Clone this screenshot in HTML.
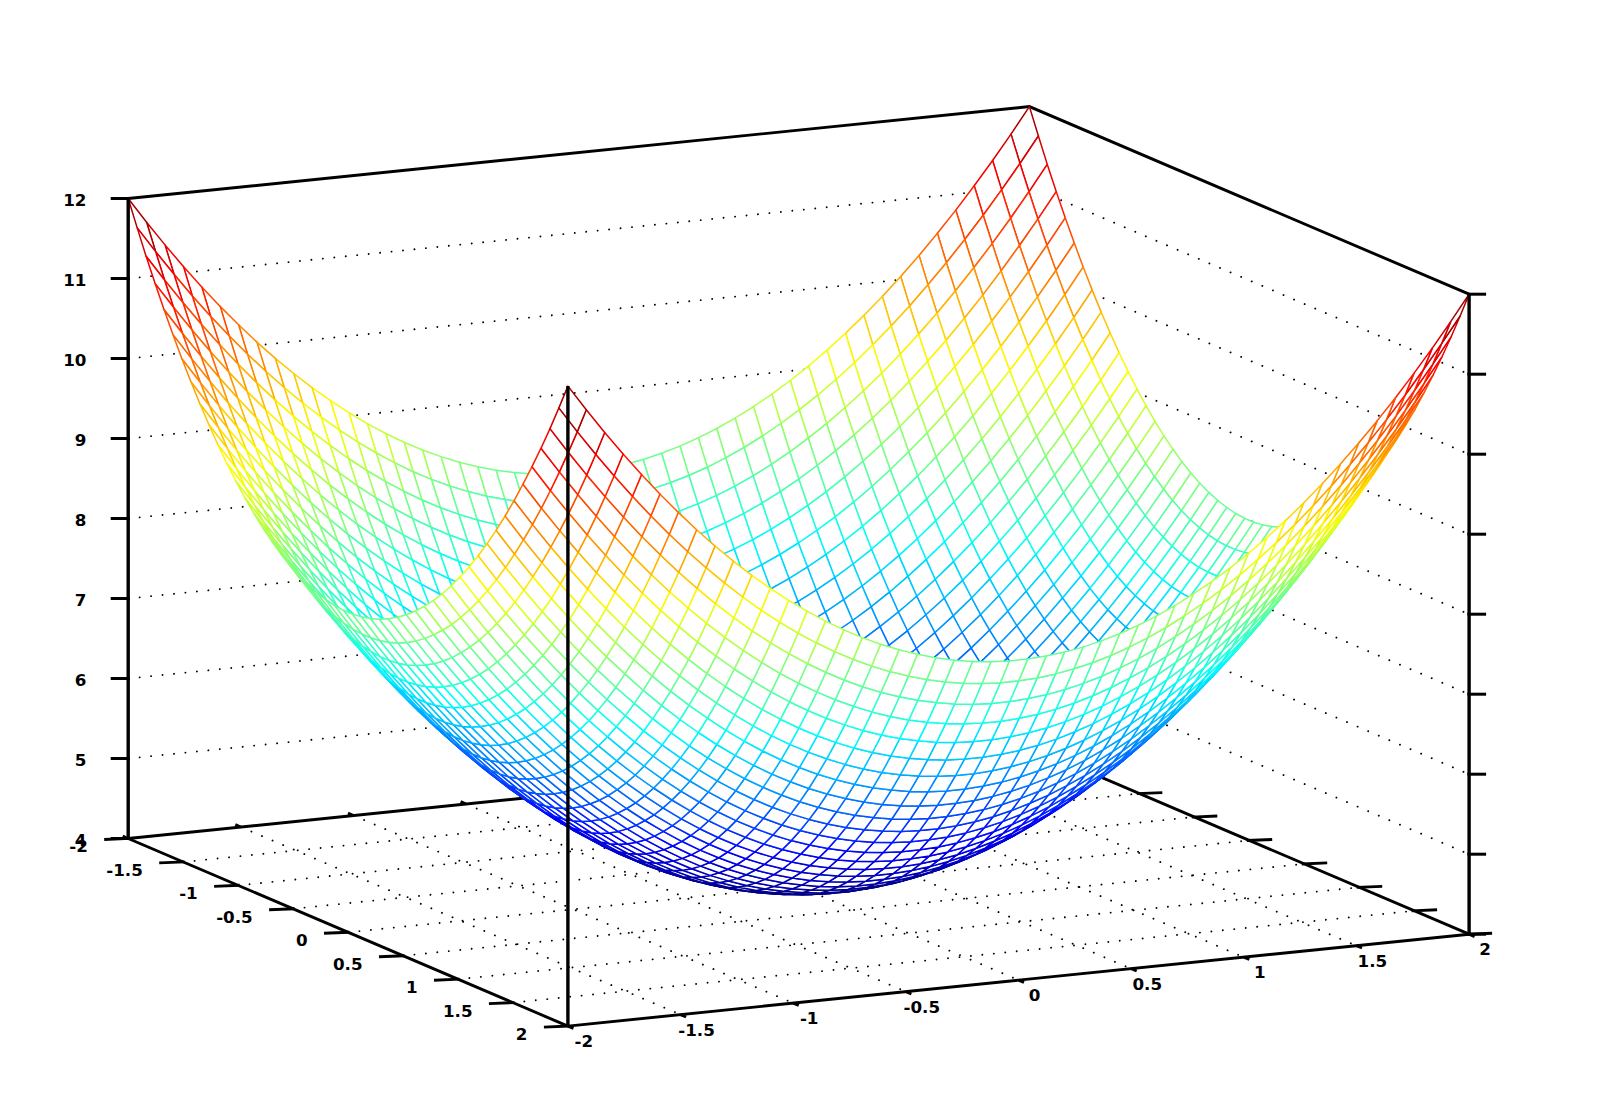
<!DOCTYPE html>
<html><head><meta charset="utf-8"><title>mesh</title>
<style>
html,body{margin:0;padding:0;background:#fff}
svg{display:block}
.m path{fill:#fff;stroke-width:1.5;stroke-linejoin:round}
.c0{stroke:#000087}.c1{stroke:#000097}.c2{stroke:#0000a7}.c3{stroke:#0000b7}
.c4{stroke:#0000c7}.c5{stroke:#0000d7}.c6{stroke:#0000e7}.c7{stroke:#0000f7}
.c8{stroke:#0008ff}.c9{stroke:#0018ff}.c10{stroke:#0028ff}.c11{stroke:#0038ff}
.c12{stroke:#0048ff}.c13{stroke:#0058ff}.c14{stroke:#0068ff}.c15{stroke:#0078ff}
.c16{stroke:#0087ff}.c17{stroke:#0097ff}.c18{stroke:#00a7ff}.c19{stroke:#00b7ff}
.c20{stroke:#00c7ff}.c21{stroke:#00d7ff}.c22{stroke:#00e7ff}.c23{stroke:#00f7ff}
.c24{stroke:#08fff7}.c25{stroke:#18ffe7}.c26{stroke:#28ffd7}.c27{stroke:#38ffc7}
.c28{stroke:#48ffb7}.c29{stroke:#58ffa7}.c30{stroke:#68ff97}.c31{stroke:#78ff87}
.c32{stroke:#87ff78}.c33{stroke:#97ff68}.c34{stroke:#a7ff58}.c35{stroke:#b7ff48}
.c36{stroke:#c7ff38}.c37{stroke:#d7ff28}.c38{stroke:#e7ff18}.c39{stroke:#f7ff08}
.c40{stroke:#fff700}.c41{stroke:#ffe700}.c42{stroke:#ffd700}.c43{stroke:#ffc700}
.c44{stroke:#ffb700}.c45{stroke:#ffa700}.c46{stroke:#ff9700}.c47{stroke:#ff8700}
.c48{stroke:#ff7800}.c49{stroke:#ff6800}.c50{stroke:#ff5800}.c51{stroke:#ff4800}
.c52{stroke:#ff3800}.c53{stroke:#ff2800}.c54{stroke:#ff1800}.c55{stroke:#ff0800}
.c56{stroke:#f70000}.c57{stroke:#e70000}.c58{stroke:#d70000}.c59{stroke:#c70000}
.c60{stroke:#b70000}.c61{stroke:#a70000}.c62{stroke:#970000}.c63{stroke:#870000}
.b{stroke:#000;stroke-width:2.9;fill:none}.bv{stroke:#000;stroke-width:3.4;fill:none}.bt{stroke:#000;stroke-width:3;fill:none}
.d{stroke:#000;stroke-width:1.9;fill:none;stroke-linecap:round;stroke-dasharray:0.01 11.5}
text{font-family:"DejaVu Sans","Liberation Sans",sans-serif;font-weight:bold;font-size:15.2px;fill:#000}
</style></head><body>
<svg width="1600" height="1114" viewBox="0 0 1600 1114">
<rect width="1600" height="1114" fill="#fff"/>
<g id="grid">
<path class="d" d="M128.2 838.5L1029.4 746.6"/>
<path class="d" d="M128.2 838.5L567.9 1026.1"/>
<path class="d" d="M183.2 862L1084.4 770.1"/>
<path class="d" d="M240.8 827L680.5 1014.6"/>
<path class="d" d="M238.1 885.4L1139.3 793.5"/>
<path class="d" d="M353.5 815.5L793.2 1003.1"/>
<path class="d" d="M293.1 908.8L1194.3 817"/>
<path class="d" d="M466.1 804L905.8 991.6"/>
<path class="d" d="M348 932.3L1249.2 840.4"/>
<path class="d" d="M578.8 792.6L1018.5 980.1"/>
<path class="d" d="M403 955.8L1304.2 863.9"/>
<path class="d" d="M691.5 781.1L1131.2 968.7"/>
<path class="d" d="M458 979.2L1359.2 887.3"/>
<path class="d" d="M804.1 769.6L1243.8 957.2"/>
<path class="d" d="M512.9 1002.6L1414.1 910.8"/>
<path class="d" d="M916.8 758.1L1356.4 945.7"/>
<path class="d" d="M567.9 1026.1L1469.1 934.2"/>
<path class="d" d="M1029.4 746.6L1469.1 934.2"/>
<path class="d" d="M128.2 758.5L1029.4 666.6"/>
<path class="d" d="M1029.4 666.6L1469.1 854.2"/>
<path class="d" d="M128.2 678.5L1029.4 586.6"/>
<path class="d" d="M1029.4 586.6L1469.1 774.2"/>
<path class="d" d="M128.2 598.5L1029.4 506.6"/>
<path class="d" d="M1029.4 506.6L1469.1 694.2"/>
<path class="d" d="M128.2 518.5L1029.4 426.6"/>
<path class="d" d="M1029.4 426.6L1469.1 614.2"/>
<path class="d" d="M128.2 438.5L1029.4 346.6"/>
<path class="d" d="M1029.4 346.6L1469.1 534.2"/>
<path class="d" d="M128.2 358.5L1029.4 266.6"/>
<path class="d" d="M1029.4 266.6L1469.1 454.2"/>
<path class="d" d="M128.2 278.5L1029.4 186.6"/>
<path class="d" d="M1029.4 186.6L1469.1 374.2"/>
</g>
<g id="back">
<path class="b" d="M128.2 838.5L1029.4 746.6"/>
<path class="b" d="M1029.4 746.6L1469.1 934.2"/>
<path class="b" stroke-linejoin="miter" d="M128.2 198.5L1029.4 106.6L1469.1 294.2"/>
<path class="b" d="M1026.9 746.7L1052.4 745.7"/>
<path class="b" d="M128.2 838.5L122.7 836.1"/>
<path class="b" d="M1081.9 770.2L1107.4 769.1"/>
<path class="b" d="M240.8 827L235.3 824.7"/>
<path class="b" d="M1136.8 793.6L1162.3 792.6"/>
<path class="b" d="M353.5 815.5L348 813.2"/>
<path class="b" d="M1191.8 817.1L1217.3 816"/>
<path class="b" d="M466.1 804L460.6 801.7"/>
<path class="b" d="M1246.8 840.5L1272.2 839.5"/>
<path class="b" d="M578.8 792.6L573.3 790.2"/>
<path class="b" d="M1301.7 864L1327.2 862.9"/>
<path class="b" d="M691.5 781.1L685.9 778.7"/>
<path class="b" d="M1356.7 887.4L1382.2 886.4"/>
<path class="b" d="M804.1 769.6L798.6 767.2"/>
<path class="b" d="M1411.6 910.9L1437.1 909.8"/>
<path class="b" d="M916.8 758.1L911.2 755.7"/>
<path class="b" d="M1466.6 934.3L1492.1 933.3"/>
<path class="b" d="M1029.4 746.6L1023.9 744.2"/>
</g>
<g class="m">
<path class="c61" d="M1011 134.1l9 29.4 18.4-27.5-9-29.4z"/>
<path class="c58" d="M992.6 160.5l9 29.4 18.4-26.4-9-29.4z"/>
<path class="c56" d="M974.2 185.8l9 29.4 18.4-25.3-9-29.4z"/>
<path class="c54" d="M955.8 210.1l9 29.4 18.4-24.3-9-29.4z"/>
<path class="c51" d="M937.4 233.3l9 29.4 18.4-23.2-9-29.4z"/>
<path class="c49" d="M919 255.4l9 29.4 18.4-22.1-9-29.4z"/>
<path class="c47" d="M900.7 276.5l8.9 29.4 18.4-21.1-9-29.4z"/>
<path class="c45" d="M882.3 296.5l8.9 29.4 18.4-20-8.9-29.4z"/>
<path class="c43" d="M863.9 315.4l8.9 29.4 18.4-18.9-8.9-29.4z"/>
<path class="c42" d="M845.5 333.3l9 29.4 18.3-17.9-8.9-29.4z"/>
<path class="c40" d="M827.1 350.1l9 29.4 18.4-16.8-9-29.4z"/>
<path class="c39" d="M808.7 365.8l9 29.4 18.4-15.7-9-29.4z"/>
<path class="c37" d="M790.3 380.5l9 29.4 18.4-14.7-9-29.4z"/>
<path class="c36" d="M771.9 394.1l9 29.4 18.4-13.6-9-29.4z"/>
<path class="c35" d="M753.5 406.6l9 29.4 18.4-12.5-9-29.4z"/>
<path class="c34" d="M735.1 418.1l9 29.4 18.4-11.5-9-29.4z"/>
<path class="c33" d="M716.7 428.5l9 29.4 18.4-10.4-9-29.4z"/>
<path class="c32" d="M698.3 437.8l9 29.5 18.4-9.4-9-29.4z"/>
<path class="c32" d="M680 446.1l8.9 29.4 18.4-8.2-9-29.5z"/>
<path class="c31" d="M661.6 453.3l8.9 29.4 18.4-7.2-8.9-29.4z"/>
<path class="c30" d="M643.2 459.5l8.9 29.4 18.4-6.2-8.9-29.4z"/>
<path class="c30" d="M624.8 464.5l9 29.4 18.3-5-8.9-29.4z"/>
<path class="c30" d="M606.4 468.5l9 29.5 18.4-4.1-9-29.4z"/>
<path class="c30" d="M588 471.5l9 29.4 18.4-2.9-9-29.5z"/>
<path class="c30" d="M569.6 473.4l9 29.4 18.4-1.9-9-29.4z"/>
<path class="c30" d="M551.2 474.2l9 29.4 18.4-0.8-9-29.4z"/>
<path class="c30" d="M532.8 473.9l9 29.4 18.4 0.3-9-29.4z"/>
<path class="c30" d="M514.4 472.6l9 29.4 18.4 1.3-9-29.4z"/>
<path class="c30" d="M496 470.2l9 29.4 18.4 2.4-9-29.4z"/>
<path class="c31" d="M477.6 466.7l9 29.5 18.4 3.4-9-29.4z"/>
<path class="c32" d="M459.3 462.2l8.9 29.4 18.4 4.6-9-29.5z"/>
<path class="c32" d="M440.9 456.6l8.9 29.4 18.4 5.6-8.9-29.4z"/>
<path class="c33" d="M422.5 450l8.9 29.4 18.4 6.6-8.9-29.4z"/>
<path class="c34" d="M404.1 442.3l9 29.4 18.3 7.7-8.9-29.4z"/>
<path class="c35" d="M385.7 433.5l9 29.4 18.4 8.8-9-29.4z"/>
<path class="c36" d="M367.3 423.6l9 29.4 18.4 9.9-9-29.4z"/>
<path class="c37" d="M348.9 412.7l9 29.4 18.4 10.9-9-29.4z"/>
<path class="c39" d="M330.5 400.7l9 29.4 18.4 12-9-29.4z"/>
<path class="c40" d="M312.1 387.7l9 29.4 18.4 13-9-29.4z"/>
<path class="c42" d="M293.7 373.5l9 29.5 18.4 14.1-9-29.4z"/>
<path class="c43" d="M275.3 358.4l9 29.4 18.4 15.2-9-29.5z"/>
<path class="c45" d="M256.9 342.1l9 29.4 18.4 16.3-9-29.4z"/>
<path class="c47" d="M238.6 324.8l8.9 29.4 18.4 17.3-9-29.4z"/>
<path class="c49" d="M220.2 306.4l8.9 29.4 18.4 18.4-8.9-29.4z"/>
<path class="c51" d="M201.8 287l8.9 29.4 18.4 19.4-8.9-29.4z"/>
<path class="c54" d="M183.4 266.4l8.9 29.5 18.4 20.5-8.9-29.4z"/>
<path class="c56" d="M165 244.9l9 29.4 18.3 21.6-8.9-29.5z"/>
<path class="c58" d="M146.6 222.2l9 29.4 18.4 22.7-9-29.4z"/>
<path class="c61" d="M128.2 198.5l9 29.4 18.4 23.7-9-29.4z"/>
<path class="c58" d="M1020 163.5l9 28.3 18.3-27.4-8.9-28.4z"/>
<path class="c56" d="M1001.6 189.9l9 28.3 18.4-26.4-9-28.3z"/>
<path class="c53" d="M983.2 215.2l9 28.4 18.4-25.4-9-28.3z"/>
<path class="c51" d="M964.8 239.5l9 28.3 18.4-24.2-9-28.4z"/>
<path class="c49" d="M946.4 262.7l9 28.3 18.4-23.2-9-28.3z"/>
<path class="c47" d="M928 284.8l9 28.4 18.4-22.2-9-28.3z"/>
<path class="c45" d="M909.6 305.9l9 28.3 18.4-21-9-28.4z"/>
<path class="c43" d="M891.2 325.9l9 28.3 18.4-20-9-28.3z"/>
<path class="c41" d="M872.8 344.8l9 28.4 18.4-19-9-28.3z"/>
<path class="c39" d="M854.5 362.7l8.9 28.3 18.4-17.8-9-28.4z"/>
<path class="c38" d="M836.1 379.5l8.9 28.3 18.4-16.8-8.9-28.3z"/>
<path class="c36" d="M817.7 395.2l8.9 28.4 18.4-15.8-8.9-28.3z"/>
<path class="c35" d="M799.3 409.9l9 28.3 18.3-14.6-8.9-28.4z"/>
<path class="c34" d="M780.9 423.5l9 28.4 18.4-13.7-9-28.3z"/>
<path class="c32" d="M762.5 436l9 28.4 18.4-12.5-9-28.4z"/>
<path class="c31" d="M744.1 447.5l9 28.4 18.4-11.5-9-28.4z"/>
<path class="c30" d="M725.7 457.9l9 28.4 18.4-10.4-9-28.4z"/>
<path class="c30" d="M707.3 467.3l9 28.3 18.4-9.3-9-28.4z"/>
<path class="c29" d="M688.9 475.5l9 28.4 18.4-8.3-9-28.3z"/>
<path class="c28" d="M670.5 482.7l9 28.4 18.4-7.2-9-28.4z"/>
<path class="c28" d="M652.1 488.9l9 28.3 18.4-6.1-9-28.4z"/>
<path class="c28" d="M633.8 493.9l8.9 28.4 18.4-5.1-9-28.3z"/>
<path class="c27" d="M615.4 498l8.9 28.3 18.4-4-8.9-28.4z"/>
<path class="c27" d="M597 500.9l8.9 28.3 18.4-2.9-8.9-28.3z"/>
<path class="c27" d="M578.6 502.8l9 28.3 18.3-1.9-8.9-28.3z"/>
<path class="c27" d="M560.2 503.6l9 28.3 18.4-0.8-9-28.3z"/>
<path class="c27" d="M541.8 503.3l9 28.4 18.4 0.2-9-28.3z"/>
<path class="c28" d="M523.4 502l9 28.4 18.4 1.3-9-28.4z"/>
<path class="c28" d="M505 499.6l9 28.4 18.4 2.4-9-28.4z"/>
<path class="c28" d="M486.6 496.2l9 28.3 18.4 3.5-9-28.4z"/>
<path class="c29" d="M468.2 491.6l9 28.4 18.4 4.5-9-28.3z"/>
<path class="c30" d="M449.8 486l9 28.4 18.4 5.6-9-28.4z"/>
<path class="c30" d="M431.4 479.4l9 28.3 18.4 6.7-9-28.4z"/>
<path class="c31" d="M413.1 471.7l8.9 28.3 18.4 7.7-9-28.3z"/>
<path class="c32" d="M394.7 462.9l8.9 28.3 18.4 8.8-8.9-28.3z"/>
<path class="c34" d="M376.3 453l8.9 28.4 18.4 9.8-8.9-28.3z"/>
<path class="c35" d="M357.9 442.1l8.9 28.4 18.4 10.9-8.9-28.4z"/>
<path class="c36" d="M339.5 430.1l9 28.4 18.3 12-8.9-28.4z"/>
<path class="c38" d="M321.1 417.1l9 28.3 18.4 13.1-9-28.4z"/>
<path class="c39" d="M302.7 403l9 28.3 18.4 14.1-9-28.3z"/>
<path class="c41" d="M284.3 387.8l9 28.3 18.4 15.2-9-28.3z"/>
<path class="c43" d="M265.9 371.5l9 28.4 18.4 16.2-9-28.3z"/>
<path class="c45" d="M247.5 354.2l9 28.4 18.4 17.3-9-28.4z"/>
<path class="c47" d="M229.1 335.8l9 28.4 18.4 18.4-9-28.4z"/>
<path class="c49" d="M210.7 316.4l9 28.3 18.4 19.5-9-28.4z"/>
<path class="c51" d="M192.3 295.9l9 28.3 18.4 20.5-9-28.3z"/>
<path class="c53" d="M174 274.3l8.9 28.3 18.4 21.6-9-28.3z"/>
<path class="c56" d="M155.6 251.6l8.9 28.4 18.4 22.6-8.9-28.3z"/>
<path class="c58" d="M137.2 227.9l8.9 28.4 18.4 23.7-8.9-28.4z"/>
<path class="c56" d="M1029 191.8l8.9 27.3 18.4-27.4-9-27.3z"/>
<path class="c53" d="M1010.6 218.2l8.9 27.3 18.4-26.4-8.9-27.3z"/>
<path class="c51" d="M992.2 243.6l8.9 27.3 18.4-25.4-8.9-27.3z"/>
<path class="c49" d="M973.8 267.8l9 27.3 18.3-24.2-8.9-27.3z"/>
<path class="c46" d="M955.4 291l9 27.3 18.4-23.2-9-27.3z"/>
<path class="c44" d="M937 313.2l9 27.3 18.4-22.2-9-27.3z"/>
<path class="c42" d="M918.6 334.2l9 27.3 18.4-21-9-27.3z"/>
<path class="c40" d="M900.2 354.2l9 27.3 18.4-20-9-27.3z"/>
<path class="c38" d="M881.8 373.2l9 27.3 18.4-19-9-27.3z"/>
<path class="c37" d="M863.4 391l9 27.3 18.4-17.8-9-27.3z"/>
<path class="c35" d="M845 407.8l9 27.3 18.4-16.8-9-27.3z"/>
<path class="c34" d="M826.6 423.6l9 27.3 18.4-15.8-9-27.3z"/>
<path class="c32" d="M808.3 438.2l8.9 27.3 18.4-14.6-9-27.3z"/>
<path class="c31" d="M789.9 451.9l8.9 27.2 18.4-13.6-8.9-27.3z"/>
<path class="c30" d="M771.5 464.4l8.9 27.3 18.4-12.6-8.9-27.2z"/>
<path class="c29" d="M753.1 475.9l9 27.2 18.3-11.4-8.9-27.3z"/>
<path class="c28" d="M734.7 486.3l9 27.3 18.4-10.5-9-27.2z"/>
<path class="c27" d="M716.3 495.6l9 27.3 18.4-9.3-9-27.3z"/>
<path class="c27" d="M697.9 503.9l9 27.3 18.4-8.3-9-27.3z"/>
<path class="c26" d="M679.5 511.1l9 27.3 18.4-7.2-9-27.3z"/>
<path class="c25" d="M661.1 517.2l9 27.3 18.4-6.1-9-27.3z"/>
<path class="c25" d="M642.7 522.3l9 27.3 18.4-5.1-9-27.3z"/>
<path class="c25" d="M624.3 526.3l9 27.3 18.4-4-9-27.3z"/>
<path class="c25" d="M605.9 529.2l9 27.3 18.4-2.9-9-27.3z"/>
<path class="c25" d="M587.6 531.1l8.9 27.3 18.4-1.9-9-27.3z"/>
<path class="c25" d="M569.2 531.9l8.9 27.3 18.4-0.8-8.9-27.3z"/>
<path class="c25" d="M550.8 531.7l8.9 27.3 18.4 0.2-8.9-27.3z"/>
<path class="c25" d="M532.4 530.4l8.9 27.2 18.4 1.4-8.9-27.3z"/>
<path class="c25" d="M514 528l9 27.2 18.3 2.4-8.9-27.2z"/>
<path class="c26" d="M495.6 524.5l9 27.3 18.4 3.4-9-27.2z"/>
<path class="c27" d="M477.2 520l9 27.3 18.4 4.5-9-27.3z"/>
<path class="c27" d="M458.8 514.4l9 27.3 18.4 5.6-9-27.3z"/>
<path class="c28" d="M440.4 507.7l9 27.3 18.4 6.7-9-27.3z"/>
<path class="c29" d="M422 500l9 27.3 18.4 7.7-9-27.3z"/>
<path class="c30" d="M403.6 491.2l9 27.3 18.4 8.8-9-27.3z"/>
<path class="c31" d="M385.2 481.4l9 27.3 18.4 9.8-9-27.3z"/>
<path class="c32" d="M366.8 470.5l9 27.3 18.4 10.9-9-27.3z"/>
<path class="c34" d="M348.5 458.5l8.9 27.3 18.4 12-9-27.3z"/>
<path class="c35" d="M330.1 445.4l8.9 27.3 18.4 13.1-8.9-27.3z"/>
<path class="c37" d="M311.7 431.3l8.9 27.3 18.4 14.1-8.9-27.3z"/>
<path class="c38" d="M293.3 416.1l9 27.3 18.3 15.2-8.9-27.3z"/>
<path class="c40" d="M274.9 399.9l9 27.3 18.4 16.2-9-27.3z"/>
<path class="c42" d="M256.5 382.6l9 27.2 18.4 17.4-9-27.3z"/>
<path class="c44" d="M238.1 364.2l9 27.3 18.4 18.3-9-27.2z"/>
<path class="c46" d="M219.7 344.7l9 27.3 18.4 19.5-9-27.3z"/>
<path class="c49" d="M201.3 324.2l9 27.3 18.4 20.5-9-27.3z"/>
<path class="c51" d="M182.9 302.6l9 27.3 18.4 21.6-9-27.3z"/>
<path class="c53" d="M164.5 280l9 27.3 18.4 22.6-9-27.3z"/>
<path class="c56" d="M146.1 256.3l9 27.3 18.4 23.7-9-27.3z"/>
<path class="c54" d="M1037.9 219.1l9 26.2 18.4-27.4-9-26.2z"/>
<path class="c51" d="M1019.5 245.5l9 26.2 18.4-26.4-9-26.2z"/>
<path class="c49" d="M1001.1 270.9l9 26.2 18.4-25.4-9-26.2z"/>
<path class="c46" d="M982.8 295.1l8.9 26.2 18.4-24.2-9-26.2z"/>
<path class="c44" d="M964.4 318.3l8.9 26.2 18.4-23.2-8.9-26.2z"/>
<path class="c42" d="M946 340.5l8.9 26.2 18.4-22.2-8.9-26.2z"/>
<path class="c40" d="M927.6 361.5l9 26.2 18.3-21-8.9-26.2z"/>
<path class="c38" d="M909.2 381.5l9 26.2 18.4-20-9-26.2z"/>
<path class="c36" d="M890.8 400.5l9 26.2 18.4-19-9-26.2z"/>
<path class="c34" d="M872.4 418.3l9 26.2 18.4-17.8-9-26.2z"/>
<path class="c33" d="M854 435.1l9 26.2 18.4-16.8-9-26.2z"/>
<path class="c31" d="M835.6 450.9l9 26.2 18.4-15.8-9-26.2z"/>
<path class="c30" d="M817.2 465.5l9 26.3 18.4-14.7-9-26.2z"/>
<path class="c29" d="M798.8 479.1l9 26.3 18.4-13.6-9-26.3z"/>
<path class="c28" d="M780.4 491.7l9 26.2 18.4-12.5-9-26.3z"/>
<path class="c27" d="M762.1 503.1l8.9 26.3 18.4-11.5-9-26.2z"/>
<path class="c26" d="M743.7 513.6l8.9 26.2 18.4-10.4-8.9-26.3z"/>
<path class="c25" d="M725.3 522.9l8.9 26.2 18.4-9.3-8.9-26.2z"/>
<path class="c24" d="M706.9 531.2l8.9 26.2 18.4-8.3-8.9-26.2z"/>
<path class="c24" d="M688.5 538.4l9 26.2 18.3-7.2-8.9-26.2z"/>
<path class="c23" d="M670.1 544.5l9 26.2 18.4-6.1-9-26.2z"/>
<path class="c23" d="M651.7 549.6l9 26.2 18.4-5.1-9-26.2z"/>
<path class="c22" d="M633.3 553.6l9 26.2 18.4-4-9-26.2z"/>
<path class="c22" d="M614.9 556.5l9 26.3 18.4-3-9-26.2z"/>
<path class="c22" d="M596.5 558.4l9 26.2 18.4-1.8-9-26.3z"/>
<path class="c22" d="M578.1 559.2l9 26.2 18.4-0.8-9-26.2z"/>
<path class="c22" d="M559.7 559l9 26.2 18.4 0.2-9-26.2z"/>
<path class="c23" d="M541.3 557.6l9 26.3 18.4 1.3-9-26.2z"/>
<path class="c23" d="M523 555.2l8.9 26.3 18.4 2.4-9-26.3z"/>
<path class="c24" d="M504.6 551.8l8.9 26.2 18.4 3.5-8.9-26.3z"/>
<path class="c24" d="M486.2 547.3l8.9 26.2 18.4 4.5-8.9-26.2z"/>
<path class="c25" d="M467.8 541.7l9 26.2 18.3 5.6-8.9-26.2z"/>
<path class="c26" d="M449.4 535l9 26.2 18.4 6.7-9-26.2z"/>
<path class="c27" d="M431 527.3l9 26.2 18.4 7.7-9-26.2z"/>
<path class="c28" d="M412.6 518.5l9 26.2 18.4 8.8-9-26.2z"/>
<path class="c29" d="M394.2 508.7l9 26.2 18.4 9.8-9-26.2z"/>
<path class="c30" d="M375.8 497.8l9 26.2 18.4 10.9-9-26.2z"/>
<path class="c31" d="M357.4 485.8l9 26.2 18.4 12-9-26.2z"/>
<path class="c33" d="M339 472.7l9 26.2 18.4 13.1-9-26.2z"/>
<path class="c34" d="M320.6 458.6l9 26.2 18.4 14.1-9-26.2z"/>
<path class="c36" d="M302.3 443.4l8.9 26.2 18.4 15.2-9-26.2z"/>
<path class="c38" d="M283.9 427.2l8.9 26.2 18.4 16.2-8.9-26.2z"/>
<path class="c40" d="M265.5 409.8l8.9 26.3 18.4 17.3-8.9-26.2z"/>
<path class="c42" d="M247.1 391.5l9 26.2 18.3 18.4-8.9-26.3z"/>
<path class="c44" d="M228.7 372l9 26.2 18.4 19.5-9-26.2z"/>
<path class="c46" d="M210.3 351.5l9 26.2 18.4 20.5-9-26.2z"/>
<path class="c49" d="M191.9 329.9l9 26.2 18.4 21.6-9-26.2z"/>
<path class="c51" d="M173.5 307.3l9 26.2 18.4 22.6-9-26.2z"/>
<path class="c54" d="M155.1 283.6l9 26.2 18.4 23.7-9-26.2z"/>
<path class="c51" d="M1046.9 245.3l9 25.2 18.4-27.5-9-25.1z"/>
<path class="c49" d="M1028.5 271.7l9 25.2 18.4-26.4-9-25.2z"/>
<path class="c46" d="M1010.1 297.1l9 25.1 18.4-25.3-9-25.2z"/>
<path class="c44" d="M991.7 321.3l9 25.2 18.4-24.3-9-25.1z"/>
<path class="c42" d="M973.3 344.5l9 25.2 18.4-23.2-9-25.2z"/>
<path class="c40" d="M954.9 366.7l9 25.1 18.4-22.1-9-25.2z"/>
<path class="c38" d="M936.6 387.7l8.9 25.2 18.4-21.1-9-25.1z"/>
<path class="c36" d="M918.2 407.7l8.9 25.2 18.4-20-8.9-25.2z"/>
<path class="c34" d="M899.8 426.7l8.9 25.1 18.4-18.9-8.9-25.2z"/>
<path class="c32" d="M881.4 444.5l8.9 25.2 18.4-17.9-8.9-25.1z"/>
<path class="c31" d="M863 461.3l9 25.2 18.3-16.8-8.9-25.2z"/>
<path class="c29" d="M844.6 477.1l9 25.1 18.4-15.7-9-25.2z"/>
<path class="c28" d="M826.2 491.8l9 25.1 18.4-14.7-9-25.1z"/>
<path class="c27" d="M807.8 505.4l9 25.1 18.4-13.6-9-25.1z"/>
<path class="c25" d="M789.4 517.9l9 25.1 18.4-12.5-9-25.1z"/>
<path class="c24" d="M771 529.4l9 25.1 18.4-11.5-9-25.1z"/>
<path class="c23" d="M752.6 539.8l9 25.1 18.4-10.4-9-25.1z"/>
<path class="c23" d="M734.2 549.1l9 25.2 18.4-9.4-9-25.1z"/>
<path class="c22" d="M715.8 557.4l9 25.1 18.4-8.2-9-25.2z"/>
<path class="c21" d="M697.5 564.6l8.9 25.1 18.4-7.2-9-25.1z"/>
<path class="c21" d="M679.1 570.7l8.9 25.2 18.4-6.2-8.9-25.1z"/>
<path class="c20" d="M660.7 575.8l8.9 25.2 18.4-5.1-8.9-25.2z"/>
<path class="c20" d="M642.3 579.8l9 25.2 18.3-4-8.9-25.2z"/>
<path class="c20" d="M623.9 582.8l9 25.1 18.4-2.9-9-25.2z"/>
<path class="c20" d="M605.5 584.6l9 25.2 18.4-1.9-9-25.1z"/>
<path class="c20" d="M587.1 585.4l9 25.2 18.4-0.8-9-25.2z"/>
<path class="c20" d="M568.7 585.2l9 25.1 18.4 0.3-9-25.2z"/>
<path class="c20" d="M550.3 583.9l9 25.1 18.4 1.3-9-25.1z"/>
<path class="c21" d="M531.9 581.5l9 25.1 18.4 2.4-9-25.1z"/>
<path class="c21" d="M513.5 578l9 25.2 18.4 3.4-9-25.1z"/>
<path class="c22" d="M495.1 573.5l9 25.1 18.4 4.6-9-25.2z"/>
<path class="c23" d="M476.8 567.9l8.9 25.2 18.4 5.5-9-25.1z"/>
<path class="c23" d="M458.4 561.2l8.9 25.2 18.4 6.7-8.9-25.2z"/>
<path class="c24" d="M440 553.5l8.9 25.2 18.4 7.7-8.9-25.2z"/>
<path class="c25" d="M421.6 544.7l9 25.2 18.3 8.8-8.9-25.2z"/>
<path class="c27" d="M403.2 534.9l9 25.1 18.4 9.9-9-25.2z"/>
<path class="c28" d="M384.8 524l9 25.1 18.4 10.9-9-25.1z"/>
<path class="c29" d="M366.4 512l9 25.1 18.4 12-9-25.1z"/>
<path class="c31" d="M348 498.9l9 25.2 18.4 13-9-25.1z"/>
<path class="c32" d="M329.6 484.8l9 25.2 18.4 14.1-9-25.2z"/>
<path class="c34" d="M311.2 469.6l9 25.2 18.4 15.2-9-25.2z"/>
<path class="c36" d="M292.8 453.4l9 25.1 18.4 16.3-9-25.2z"/>
<path class="c38" d="M274.4 436.1l9 25.1 18.4 17.3-9-25.1z"/>
<path class="c40" d="M256.1 417.7l8.9 25.1 18.4 18.4-9-25.1z"/>
<path class="c42" d="M237.7 398.2l8.9 25.2 18.4 19.4-8.9-25.1z"/>
<path class="c44" d="M219.3 377.7l8.9 25.2 18.4 20.5-8.9-25.2z"/>
<path class="c46" d="M200.9 356.1l9 25.2 18.3 21.6-8.9-25.2z"/>
<path class="c49" d="M182.5 333.5l9 25.1 18.4 22.7-9-25.2z"/>
<path class="c51" d="M164.1 309.8l9 25.1 18.4 23.7-9-25.1z"/>
<path class="c49" d="M1055.9 270.5l8.9 24.1 18.4-27.5-8.9-24.1z"/>
<path class="c47" d="M1037.5 296.9l9 24.1 18.3-26.4-8.9-24.1z"/>
<path class="c44" d="M1019.1 322.2l9 24.1 18.4-25.3-9-24.1z"/>
<path class="c42" d="M1000.7 346.5l9 24.1 18.4-24.3-9-24.1z"/>
<path class="c40" d="M982.3 369.7l9 24.1 18.4-23.2-9-24.1z"/>
<path class="c38" d="M963.9 391.8l9 24.1 18.4-22.1-9-24.1z"/>
<path class="c35" d="M945.5 412.9l9 24.1 18.4-21.1-9-24.1z"/>
<path class="c34" d="M927.1 432.9l9 24.1 18.4-20-9-24.1z"/>
<path class="c32" d="M908.7 451.8l9 24.1 18.4-18.9-9-24.1z"/>
<path class="c30" d="M890.3 469.7l9 24.1 18.4-17.9-9-24.1z"/>
<path class="c29" d="M872 486.5l8.9 24.1 18.4-16.8-9-24.1z"/>
<path class="c27" d="M853.6 502.2l8.9 24.1 18.4-15.7-8.9-24.1z"/>
<path class="c26" d="M835.2 516.9l8.9 24.1 18.4-14.7-8.9-24.1z"/>
<path class="c24" d="M816.8 530.5l9 24.1 18.3-13.6-8.9-24.1z"/>
<path class="c23" d="M798.4 543l9 24.1 18.4-12.5-9-24.1z"/>
<path class="c22" d="M780 554.5l9 24.1 18.4-11.5-9-24.1z"/>
<path class="c21" d="M761.6 564.9l9 24.1 18.4-10.4-9-24.1z"/>
<path class="c21" d="M743.2 574.3l9 24 18.4-9.3-9-24.1z"/>
<path class="c20" d="M724.8 582.5l9 24.1 18.4-8.3-9-24z"/>
<path class="c19" d="M706.4 589.7l9 24.1 18.4-7.2-9-24.1z"/>
<path class="c19" d="M688 595.9l9 24.1 18.4-6.2-9-24.1z"/>
<path class="c18" d="M669.6 601l9 24 18.4-5-9-24.1z"/>
<path class="c18" d="M651.3 605l8.9 24.1 18.4-4.1-9-24z"/>
<path class="c18" d="M632.9 607.9l8.9 24.1 18.4-2.9-8.9-24.1z"/>
<path class="c18" d="M614.5 609.8l8.9 24.1 18.4-1.9-8.9-24.1z"/>
<path class="c18" d="M596.1 610.6l9 24.1 18.3-0.8-8.9-24.1z"/>
<path class="c18" d="M577.7 610.3l9 24.1 18.4 0.3-9-24.1z"/>
<path class="c18" d="M559.3 609l9 24.1 18.4 1.3-9-24.1z"/>
<path class="c19" d="M540.9 606.6l9 24.1 18.4 2.4-9-24.1z"/>
<path class="c19" d="M522.5 603.2l9 24.1 18.4 3.4-9-24.1z"/>
<path class="c20" d="M504.1 598.6l9 24.1 18.4 4.6-9-24.1z"/>
<path class="c21" d="M485.7 593.1l9 24 18.4 5.6-9-24.1z"/>
<path class="c21" d="M467.3 586.4l9 24.1 18.4 6.6-9-24z"/>
<path class="c22" d="M448.9 578.7l9 24.1 18.4 7.7-9-24.1z"/>
<path class="c23" d="M430.6 569.9l8.9 24.1 18.4 8.8-9-24.1z"/>
<path class="c24" d="M412.2 560l8.9 24.1 18.4 9.9-8.9-24.1z"/>
<path class="c26" d="M393.8 549.1l8.9 24.1 18.4 10.9-8.9-24.1z"/>
<path class="c27" d="M375.4 537.1l9 24.1 18.3 12-8.9-24.1z"/>
<path class="c29" d="M357 524.1l9 24.1 18.4 13-9-24.1z"/>
<path class="c30" d="M338.6 510l9 24.1 18.4 14.1-9-24.1z"/>
<path class="c32" d="M320.2 494.8l9 24.1 18.4 15.2-9-24.1z"/>
<path class="c34" d="M301.8 478.5l9 24.1 18.4 16.3-9-24.1z"/>
<path class="c35" d="M283.4 461.2l9 24.1 18.4 17.3-9-24.1z"/>
<path class="c38" d="M265 442.8l9 24.1 18.4 18.4-9-24.1z"/>
<path class="c40" d="M246.6 423.4l9 24.1 18.4 19.4-9-24.1z"/>
<path class="c42" d="M228.2 402.9l9 24.1 18.4 20.5-9-24.1z"/>
<path class="c44" d="M209.9 381.3l8.9 24.1 18.4 21.6-9-24.1z"/>
<path class="c47" d="M191.5 358.6l8.9 24.1 18.4 22.7-8.9-24.1z"/>
<path class="c49" d="M173.1 334.9l8.9 24.1 18.4 23.7-8.9-24.1z"/>
<path class="c47" d="M1064.8 294.6l9 23 18.4-27.5-9-23z"/>
<path class="c45" d="M1046.5 321l8.9 23 18.4-26.4-9-23z"/>
<path class="c42" d="M1028.1 346.3l8.9 23 18.4-25.3-8.9-23z"/>
<path class="c40" d="M1009.7 370.6l8.9 23 18.4-24.3-8.9-23z"/>
<path class="c38" d="M991.3 393.8l9 23 18.3-23.2-8.9-23z"/>
<path class="c35" d="M972.9 415.9l9 23 18.4-22.1-9-23z"/>
<path class="c33" d="M954.5 437l9 23 18.4-21.1-9-23z"/>
<path class="c32" d="M936.1 457l9 23 18.4-20-9-23z"/>
<path class="c30" d="M917.7 475.9l9 23 18.4-18.9-9-23z"/>
<path class="c28" d="M899.3 493.8l9 23 18.4-17.9-9-23z"/>
<path class="c27" d="M880.9 510.6l9 23 18.4-16.8-9-23z"/>
<path class="c25" d="M862.5 526.3l9 23 18.4-15.7-9-23z"/>
<path class="c24" d="M844.1 541l9 23 18.4-14.7-9-23z"/>
<path class="c22" d="M825.8 554.6l8.9 23 18.4-13.6-9-23z"/>
<path class="c21" d="M807.4 567.1l8.9 23.1 18.4-12.6-8.9-23z"/>
<path class="c20" d="M789 578.6l8.9 23 18.4-11.4-8.9-23.1z"/>
<path class="c19" d="M770.6 589l9 23 18.3-10.4-8.9-23z"/>
<path class="c19" d="M752.2 598.3l9 23.1 18.4-9.4-9-23z"/>
<path class="c18" d="M733.8 606.6l9 23 18.4-8.2-9-23.1z"/>
<path class="c17" d="M715.4 613.8l9 23 18.4-7.2-9-23z"/>
<path class="c17" d="M697 620l9 23 18.4-6.2-9-23z"/>
<path class="c16" d="M678.6 625l9 23.1 18.4-5.1-9-23z"/>
<path class="c16" d="M660.2 629.1l9 23 18.4-4-9-23.1z"/>
<path class="c16" d="M641.8 632l9 23 18.4-2.9-9-23z"/>
<path class="c16" d="M623.4 633.9l9 23 18.4-1.9-9-23z"/>
<path class="c16" d="M605.1 634.7l8.9 23 18.4-0.8-9-23z"/>
<path class="c16" d="M586.7 634.4l8.9 23 18.4 0.3-8.9-23z"/>
<path class="c16" d="M568.3 633.1l8.9 23 18.4 1.3-8.9-23z"/>
<path class="c17" d="M549.9 630.7l9 23 18.3 2.4-8.9-23z"/>
<path class="c17" d="M531.5 627.3l9 23 18.4 3.4-9-23z"/>
<path class="c18" d="M513.1 622.7l9 23.1 18.4 4.5-9-23z"/>
<path class="c19" d="M494.7 617.1l9 23.1 18.4 5.6-9-23.1z"/>
<path class="c19" d="M476.3 610.5l9 23 18.4 6.7-9-23.1z"/>
<path class="c20" d="M457.9 602.8l9 23 18.4 7.7-9-23z"/>
<path class="c21" d="M439.5 594l9 23 18.4 8.8-9-23z"/>
<path class="c22" d="M421.1 584.1l9 23 18.4 9.9-9-23z"/>
<path class="c24" d="M402.7 573.2l9 23 18.4 10.9-9-23z"/>
<path class="c25" d="M384.4 561.2l8.9 23 18.4 12-9-23z"/>
<path class="c27" d="M366 548.2l8.9 23 18.4 13-8.9-23z"/>
<path class="c28" d="M347.6 534.1l8.9 23 18.4 14.1-8.9-23z"/>
<path class="c30" d="M329.2 518.9l8.9 23 18.4 15.2-8.9-23z"/>
<path class="c32" d="M310.8 502.6l9 23 18.3 16.3-8.9-23z"/>
<path class="c33" d="M292.4 485.3l9 23 18.4 17.3-9-23z"/>
<path class="c35" d="M274 466.9l9 23 18.4 18.4-9-23z"/>
<path class="c38" d="M255.6 447.5l9 23 18.4 19.4-9-23z"/>
<path class="c40" d="M237.2 427l9 23 18.4 20.5-9-23z"/>
<path class="c42" d="M218.8 405.4l9 23 18.4 21.6-9-23z"/>
<path class="c45" d="M200.4 382.7l9 23 18.4 22.7-9-23z"/>
<path class="c47" d="M182 359l9 23 18.4 23.7-9-23z"/>
<path class="c45" d="M1073.8 317.6l9 22 18.4-27.5-9-22z"/>
<path class="c43" d="M1055.4 344l9 22 18.4-26.4-9-22z"/>
<path class="c40" d="M1037 369.3l9 22 18.4-25.3-9-22z"/>
<path class="c38" d="M1018.6 393.6l9 22 18.4-24.3-9-22z"/>
<path class="c36" d="M1000.3 416.8l8.9 22 18.4-23.2-9-22z"/>
<path class="c34" d="M981.9 438.9l8.9 22 18.4-22.1-8.9-22z"/>
<path class="c32" d="M963.5 460l8.9 22 18.4-21.1-8.9-22z"/>
<path class="c30" d="M945.1 480l9 22 18.3-20-8.9-22z"/>
<path class="c28" d="M926.7 498.9l9 22 18.4-18.9-9-22z"/>
<path class="c26" d="M908.3 516.8l9 22 18.4-17.9-9-22z"/>
<path class="c25" d="M889.9 533.6l9 22 18.4-16.8-9-22z"/>
<path class="c23" d="M871.5 549.3l9 22 18.4-15.7-9-22z"/>
<path class="c22" d="M853.1 564l9 22 18.4-14.7-9-22z"/>
<path class="c21" d="M834.7 577.6l9 22 18.4-13.6-9-22z"/>
<path class="c19" d="M816.3 590.2l9 21.9 18.4-12.5-9-22z"/>
<path class="c18" d="M797.9 601.6l9 22 18.4-11.5-9-21.9z"/>
<path class="c17" d="M779.6 612l8.9 22 18.4-10.4-9-22z"/>
<path class="c17" d="M761.2 621.4l8.9 21.9 18.4-9.3-8.9-22z"/>
<path class="c16" d="M742.8 629.6l8.9 22 18.4-8.3-8.9-21.9z"/>
<path class="c15" d="M724.4 636.8l9 22 18.3-7.2-8.9-22z"/>
<path class="c15" d="M706 643l9 21.9 18.4-6.1-9-22z"/>
<path class="c14" d="M687.6 648.1l9 21.9 18.4-5.1-9-21.9z"/>
<path class="c14" d="M669.2 652.1l9 21.9 18.4-4-9-21.9z"/>
<path class="c14" d="M650.8 655l9 22 18.4-3-9-21.9z"/>
<path class="c14" d="M632.4 656.9l9 21.9 18.4-1.8-9-22z"/>
<path class="c14" d="M614 657.7l9 22 18.4-0.9-9-21.9z"/>
<path class="c14" d="M595.6 657.4l9 22 18.4 0.3-9-22z"/>
<path class="c14" d="M577.2 656.1l9 22 18.4 1.3-9-22z"/>
<path class="c15" d="M558.9 653.7l8.9 22 18.4 2.4-9-22z"/>
<path class="c15" d="M540.5 650.3l8.9 21.9 18.4 3.5-8.9-22z"/>
<path class="c16" d="M522.1 645.8l8.9 21.9 18.4 4.5-8.9-21.9z"/>
<path class="c17" d="M503.7 640.2l8.9 21.9 18.4 5.6-8.9-21.9z"/>
<path class="c17" d="M485.3 633.5l9 22 18.3 6.6-8.9-21.9z"/>
<path class="c18" d="M466.9 625.8l9 21.9 18.4 7.8-9-22z"/>
<path class="c19" d="M448.5 617l9 22 18.4 8.7-9-21.9z"/>
<path class="c21" d="M430.1 607.1l9 22 18.4 9.9-9-22z"/>
<path class="c22" d="M411.7 596.2l9 22 18.4 10.9-9-22z"/>
<path class="c23" d="M393.3 584.2l9 22 18.4 12-9-22z"/>
<path class="c25" d="M374.9 571.2l9 21.9 18.4 13.1-9-22z"/>
<path class="c26" d="M356.5 557.1l9 21.9 18.4 14.1-9-21.9z"/>
<path class="c28" d="M338.1 541.9l9 21.9 18.4 15.2-9-21.9z"/>
<path class="c30" d="M319.8 525.6l8.9 22 18.4 16.2-9-21.9z"/>
<path class="c32" d="M301.4 508.3l8.9 22 18.4 17.3-8.9-22z"/>
<path class="c34" d="M283 489.9l8.9 22 18.4 18.4-8.9-22z"/>
<path class="c36" d="M264.6 470.5l9 21.9 18.3 19.5-8.9-22z"/>
<path class="c38" d="M246.2 450l9 21.9 18.4 20.5-9-21.9z"/>
<path class="c40" d="M227.8 428.4l9 22 18.4 21.5-9-21.9z"/>
<path class="c43" d="M209.4 405.7l9 22 18.4 22.7-9-22z"/>
<path class="c45" d="M191 382l9 22 18.4 23.7-9-22z"/>
<path class="c43" d="M1082.8 339.6l9 20.8 18.4-27.4-9-20.9z"/>
<path class="c41" d="M1064.4 366l9 20.8 18.4-26.4-9-20.8z"/>
<path class="c38" d="M1046 391.3l9 20.9 18.4-25.4-9-20.8z"/>
<path class="c36" d="M1027.6 415.6l9 20.8 18.4-24.2-9-20.9z"/>
<path class="c34" d="M1009.2 438.8l9 20.8 18.4-23.2-9-20.8z"/>
<path class="c32" d="M990.8 460.9l9 20.9 18.4-22.2-9-20.8z"/>
<path class="c30" d="M972.4 482l9 20.8 18.4-21-9-20.9z"/>
<path class="c28" d="M954.1 502l8.9 20.8 18.4-20-9-20.8z"/>
<path class="c26" d="M935.7 520.9l8.9 20.9 18.4-19-8.9-20.8z"/>
<path class="c24" d="M917.3 538.8l8.9 20.8 18.4-17.8-8.9-20.9z"/>
<path class="c23" d="M898.9 555.6l9 20.8 18.3-16.8-8.9-20.8z"/>
<path class="c21" d="M880.5 571.3l9 20.9 18.4-15.8-9-20.8z"/>
<path class="c20" d="M862.1 586l9 20.9 18.4-14.7-9-20.9z"/>
<path class="c19" d="M843.7 599.6l9 20.9 18.4-13.6-9-20.9z"/>
<path class="c18" d="M825.3 612.1l9 20.9 18.4-12.5-9-20.9z"/>
<path class="c17" d="M806.9 623.6l9 20.9 18.4-11.5-9-20.9z"/>
<path class="c16" d="M788.5 634l9 20.9 18.4-10.4-9-20.9z"/>
<path class="c15" d="M770.1 643.3l9 20.9 18.4-9.3-9-20.9z"/>
<path class="c14" d="M751.7 651.6l9 20.9 18.4-8.3-9-20.9z"/>
<path class="c14" d="M733.4 658.8l8.9 20.9 18.4-7.2-9-20.9z"/>
<path class="c13" d="M715 664.9l8.9 20.9 18.4-6.1-8.9-20.9z"/>
<path class="c13" d="M696.6 670l8.9 20.9 18.4-5.1-8.9-20.9z"/>
<path class="c12" d="M678.2 674l8.9 20.9 18.4-4-8.9-20.9z"/>
<path class="c12" d="M659.8 677l9 20.9 18.3-3-8.9-20.9z"/>
<path class="c12" d="M641.4 678.8l9 20.9 18.4-1.8-9-20.9z"/>
<path class="c12" d="M623 679.7l9 20.8 18.4-0.8-9-20.9z"/>
<path class="c12" d="M604.6 679.4l9 20.9 18.4 0.2-9-20.8z"/>
<path class="c13" d="M586.2 678.1l9 20.9 18.4 1.3-9-20.9z"/>
<path class="c13" d="M567.8 675.7l9 20.9 18.4 2.4-9-20.9z"/>
<path class="c14" d="M549.4 672.2l9 20.9 18.4 3.5-9-20.9z"/>
<path class="c14" d="M531 667.7l9 20.9 18.4 4.5-9-20.9z"/>
<path class="c15" d="M512.6 662.1l9 20.9 18.4 5.6-9-20.9z"/>
<path class="c16" d="M494.3 655.5l8.9 20.9 18.4 6.6-9-20.9z"/>
<path class="c17" d="M475.9 647.7l8.9 20.9 18.4 7.8-8.9-20.9z"/>
<path class="c18" d="M457.5 639l8.9 20.8 18.4 8.8-8.9-20.9z"/>
<path class="c19" d="M439.1 629.1l9 20.9 18.3 9.8-8.9-20.8z"/>
<path class="c20" d="M420.7 618.2l9 20.9 18.4 10.9-9-20.9z"/>
<path class="c21" d="M402.3 606.2l9 20.9 18.4 12-9-20.9z"/>
<path class="c23" d="M383.9 593.1l9 20.9 18.4 13.1-9-20.9z"/>
<path class="c24" d="M365.5 579l9 20.9 18.4 14.1-9-20.9z"/>
<path class="c26" d="M347.1 563.8l9 20.9 18.4 15.2-9-20.9z"/>
<path class="c28" d="M328.7 547.6l9 20.9 18.4 16.2-9-20.9z"/>
<path class="c30" d="M310.3 530.3l9 20.9 18.4 17.3-9-20.9z"/>
<path class="c32" d="M291.9 511.9l9 20.9 18.4 18.4-9-20.9z"/>
<path class="c34" d="M273.6 492.4l8.9 20.9 18.4 19.5-9-20.9z"/>
<path class="c36" d="M255.2 471.9l8.9 20.9 18.4 20.5-8.9-20.9z"/>
<path class="c38" d="M236.8 450.4l8.9 20.8 18.4 21.6-8.9-20.9z"/>
<path class="c41" d="M218.4 427.7l9 20.9 18.3 22.6-8.9-20.8z"/>
<path class="c43" d="M200 404l9 20.9 18.4 23.7-9-20.9z"/>
<path class="c42" d="M1091.8 360.4l8.9 19.9 18.4-27.5-8.9-19.8z"/>
<path class="c39" d="M1073.4 386.8l9 19.9 18.3-26.4-8.9-19.9z"/>
<path class="c37" d="M1055 412.2l9 19.8 18.4-25.3-9-19.9z"/>
<path class="c34" d="M1036.6 436.4l9 19.9 18.4-24.3-9-19.8z"/>
<path class="c32" d="M1018.2 459.6l9 19.9 18.4-23.2-9-19.9z"/>
<path class="c30" d="M999.8 481.8l9 19.8 18.4-22.1-9-19.9z"/>
<path class="c28" d="M981.4 502.8l9 19.9 18.4-21.1-9-19.8z"/>
<path class="c26" d="M963 522.8l9 19.9 18.4-20-9-19.9z"/>
<path class="c24" d="M944.6 541.8l9 19.8 18.4-18.9-9-19.9z"/>
<path class="c23" d="M926.2 559.6l9 19.9 18.4-17.9-9-19.8z"/>
<path class="c21" d="M907.9 576.4l8.9 19.9 18.4-16.8-9-19.9z"/>
<path class="c20" d="M889.5 592.2l8.9 19.8 18.4-15.7-8.9-19.9z"/>
<path class="c18" d="M871.1 606.9l8.9 19.8 18.4-14.7-8.9-19.8z"/>
<path class="c17" d="M852.7 620.5l8.9 19.8 18.4-13.6-8.9-19.8z"/>
<path class="c16" d="M834.3 633l9 19.8 18.3-12.5-8.9-19.8z"/>
<path class="c15" d="M815.9 644.5l9 19.8 18.4-11.5-9-19.8z"/>
<path class="c14" d="M797.5 654.9l9 19.8 18.4-10.4-9-19.8z"/>
<path class="c13" d="M779.1 664.2l9 19.8 18.4-9.3-9-19.8z"/>
<path class="c12" d="M760.7 672.5l9 19.8 18.4-8.3-9-19.8z"/>
<path class="c12" d="M742.3 679.7l9 19.8 18.4-7.2-9-19.8z"/>
<path class="c11" d="M723.9 685.8l9 19.9 18.4-6.2-9-19.8z"/>
<path class="c11" d="M705.5 690.9l9 19.8 18.4-5-9-19.9z"/>
<path class="c11" d="M687.1 694.9l9 19.8 18.4-4-9-19.8z"/>
<path class="c11" d="M668.8 697.9l8.9 19.8 18.4-3-9-19.8z"/>
<path class="c10" d="M650.4 699.7l8.9 19.9 18.4-1.9-8.9-19.8z"/>
<path class="c11" d="M632 700.5l8.9 19.9 18.4-0.8-8.9-19.9z"/>
<path class="c11" d="M613.6 700.3l9 19.8 18.3 0.3-8.9-19.9z"/>
<path class="c11" d="M595.2 699l9 19.8 18.4 1.3-9-19.8z"/>
<path class="c11" d="M576.8 696.6l9 19.8 18.4 2.4-9-19.8z"/>
<path class="c12" d="M558.4 693.1l9 19.8 18.4 3.5-9-19.8z"/>
<path class="c12" d="M540 688.6l9 19.8 18.4 4.5-9-19.8z"/>
<path class="c13" d="M521.6 683l9 19.8 18.4 5.6-9-19.8z"/>
<path class="c14" d="M503.2 676.4l9 19.8 18.4 6.6-9-19.8z"/>
<path class="c15" d="M484.8 668.6l9 19.9 18.4 7.7-9-19.8z"/>
<path class="c16" d="M466.4 659.8l9 19.9 18.4 8.8-9-19.9z"/>
<path class="c17" d="M448.1 650l8.9 19.8 18.4 9.9-9-19.9z"/>
<path class="c18" d="M429.7 639.1l8.9 19.8 18.4 10.9-8.9-19.8z"/>
<path class="c20" d="M411.3 627.1l8.9 19.8 18.4 12-8.9-19.8z"/>
<path class="c21" d="M392.9 614l9 19.9 18.3 13-8.9-19.8z"/>
<path class="c23" d="M374.5 599.9l9 19.8 18.4 14.2-9-19.9z"/>
<path class="c24" d="M356.1 584.7l9 19.9 18.4 15.1-9-19.8z"/>
<path class="c26" d="M337.7 568.5l9 19.8 18.4 16.3-9-19.9z"/>
<path class="c28" d="M319.3 551.2l9 19.8 18.4 17.3-9-19.8z"/>
<path class="c30" d="M300.9 532.8l9 19.8 18.4 18.4-9-19.8z"/>
<path class="c32" d="M282.5 513.3l9 19.9 18.4 19.4-9-19.8z"/>
<path class="c34" d="M264.1 492.8l9 19.8 18.4 20.6-9-19.9z"/>
<path class="c37" d="M245.7 471.2l9 19.9 18.4 21.5-9-19.8z"/>
<path class="c39" d="M227.4 448.6l8.9 19.8 18.4 22.7-9-19.9z"/>
<path class="c42" d="M209 424.9l8.9 19.8 18.4 23.7-8.9-19.8z"/>
<path class="c40" d="M1100.7 380.3l9 18.7 18.4-27.4-9-18.8z"/>
<path class="c38" d="M1082.4 406.7l8.9 18.7 18.4-26.4-9-18.7z"/>
<path class="c35" d="M1064 432l8.9 18.8 18.4-25.4-8.9-18.7z"/>
<path class="c33" d="M1045.6 456.3l8.9 18.7 18.4-24.2-8.9-18.8z"/>
<path class="c31" d="M1027.2 479.5l8.9 18.7 18.4-23.2-8.9-18.7z"/>
<path class="c29" d="M1008.8 501.6l9 18.8 18.3-22.2-8.9-18.7z"/>
<path class="c27" d="M990.4 522.7l9 18.7 18.4-21-9-18.8z"/>
<path class="c25" d="M972 542.7l9 18.7 18.4-20-9-18.7z"/>
<path class="c23" d="M953.6 561.6l9 18.8 18.4-19-9-18.7z"/>
<path class="c21" d="M935.2 579.5l9 18.7 18.4-17.8-9-18.8z"/>
<path class="c20" d="M916.8 596.3l9 18.7 18.4-16.8-9-18.7z"/>
<path class="c18" d="M898.4 612l9 18.8 18.4-15.8-9-18.7z"/>
<path class="c17" d="M880 626.7l9 18.7 18.4-14.6-9-18.8z"/>
<path class="c15" d="M861.6 640.3l9 18.7 18.4-13.6-9-18.7z"/>
<path class="c14" d="M843.3 652.8l8.9 18.8 18.4-12.6-9-18.7z"/>
<path class="c13" d="M824.9 664.3l8.9 18.7 18.4-11.4-8.9-18.8z"/>
<path class="c12" d="M806.5 674.7l8.9 18.8 18.4-10.5-8.9-18.7z"/>
<path class="c12" d="M788.1 684l9 18.8 18.3-9.3-8.9-18.8z"/>
<path class="c11" d="M769.7 692.3l9 18.8 18.4-8.3-9-18.8z"/>
<path class="c10" d="M751.3 699.5l9 18.8 18.4-7.2-9-18.8z"/>
<path class="c10" d="M732.9 705.7l9 18.7 18.4-6.1-9-18.8z"/>
<path class="c9" d="M714.5 710.7l9 18.8 18.4-5.1-9-18.7z"/>
<path class="c9" d="M696.1 714.7l9 18.8 18.4-4-9-18.8z"/>
<path class="c9" d="M677.7 717.7l9 18.7 18.4-2.9-9-18.8z"/>
<path class="c9" d="M659.3 719.6l9 18.7 18.4-1.9-9-18.7z"/>
<path class="c9" d="M640.9 720.4l9 18.7 18.4-0.8-9-18.7z"/>
<path class="c9" d="M622.6 720.1l8.9 18.8 18.4 0.2-9-18.7z"/>
<path class="c9" d="M604.2 718.8l8.9 18.7 18.4 1.4-8.9-18.8z"/>
<path class="c10" d="M585.8 716.4l8.9 18.7 18.4 2.4-8.9-18.7z"/>
<path class="c10" d="M567.4 712.9l9 18.8 18.3 3.4-8.9-18.7z"/>
<path class="c11" d="M549 708.4l9 18.8 18.4 4.5-9-18.8z"/>
<path class="c12" d="M530.6 702.8l9 18.8 18.4 5.6-9-18.8z"/>
<path class="c12" d="M512.2 696.2l9 18.7 18.4 6.7-9-18.8z"/>
<path class="c13" d="M493.8 688.5l9 18.7 18.4 7.7-9-18.7z"/>
<path class="c14" d="M475.4 679.7l9 18.7 18.4 8.8-9-18.7z"/>
<path class="c15" d="M457 669.8l9 18.8 18.4 9.8-9-18.7z"/>
<path class="c17" d="M438.6 658.9l9 18.8 18.4 10.9-9-18.8z"/>
<path class="c18" d="M420.2 646.9l9 18.8 18.4 12-9-18.8z"/>
<path class="c20" d="M401.9 633.9l8.9 18.7 18.4 13.1-9-18.8z"/>
<path class="c21" d="M383.5 619.7l8.9 18.8 18.4 14.1-8.9-18.7z"/>
<path class="c23" d="M365.1 604.6l8.9 18.7 18.4 15.2-8.9-18.8z"/>
<path class="c25" d="M346.7 588.3l9 18.8 18.3 16.2-8.9-18.7z"/>
<path class="c27" d="M328.3 571l9 18.7 18.4 17.4-9-18.8z"/>
<path class="c29" d="M309.9 552.6l9 18.8 18.4 18.3-9-18.7z"/>
<path class="c31" d="M291.5 533.2l9 18.7 18.4 19.5-9-18.8z"/>
<path class="c33" d="M273.1 512.6l9 18.8 18.4 20.5-9-18.7z"/>
<path class="c35" d="M254.7 491.1l9 18.7 18.4 21.6-9-18.8z"/>
<path class="c38" d="M236.3 468.4l9 18.8 18.4 22.6-9-18.7z"/>
<path class="c40" d="M217.9 444.7l9 18.8 18.4 23.7-9-18.8z"/>
<path class="c39" d="M1109.7 399l9 17.7 18.4-27.5-9-17.6z"/>
<path class="c36" d="M1091.3 425.4l9 17.7 18.4-26.4-9-17.7z"/>
<path class="c34" d="M1072.9 450.8l9 17.6 18.4-25.3-9-17.7z"/>
<path class="c31" d="M1054.5 475l9 17.7 18.4-24.3-9-17.6z"/>
<path class="c29" d="M1036.1 498.2l9 17.7 18.4-23.2-9-17.7z"/>
<path class="c27" d="M1017.8 520.4l8.9 17.6 18.4-22.1-9-17.7z"/>
<path class="c25" d="M999.4 541.4l8.9 17.7 18.4-21.1-8.9-17.6z"/>
<path class="c23" d="M981 561.4l8.9 17.7 18.4-20-8.9-17.7z"/>
<path class="c21" d="M962.6 580.4l9 17.6 18.3-18.9-8.9-17.7z"/>
<path class="c20" d="M944.2 598.2l9 17.7 18.4-17.9-9-17.6z"/>
<path class="c18" d="M925.8 615l9 17.7 18.4-16.8-9-17.7z"/>
<path class="c17" d="M907.4 630.8l9 17.7 18.4-15.8-9-17.7z"/>
<path class="c15" d="M889 645.4l9 17.7 18.4-14.6-9-17.7z"/>
<path class="c14" d="M870.6 659l9 17.7 18.4-13.6-9-17.7z"/>
<path class="c13" d="M852.2 671.6l9 17.7 18.4-12.6-9-17.7z"/>
<path class="c12" d="M833.8 683l9 17.7 18.4-11.4-9-17.7z"/>
<path class="c11" d="M815.4 693.5l9 17.6 18.4-10.4-9-17.7z"/>
<path class="c10" d="M797.1 702.8l8.9 17.7 18.4-9.4-9-17.6z"/>
<path class="c9" d="M778.7 711.1l8.9 17.7 18.4-8.3-8.9-17.7z"/>
<path class="c9" d="M760.3 718.3l8.9 17.7 18.4-7.2-8.9-17.7z"/>
<path class="c8" d="M741.9 724.4l9 17.7 18.3-6.1-8.9-17.7z"/>
<path class="c8" d="M723.5 729.5l9 17.7 18.4-5.1-9-17.7z"/>
<path class="c8" d="M705.1 733.5l9 17.7 18.4-4-9-17.7z"/>
<path class="c7" d="M686.7 736.4l9 17.7 18.4-2.9-9-17.7z"/>
<path class="c7" d="M668.3 738.3l9 17.7 18.4-1.9-9-17.7z"/>
<path class="c7" d="M649.9 739.1l9 17.7 18.4-0.8-9-17.7z"/>
<path class="c8" d="M631.5 738.9l9 17.7 18.4 0.2-9-17.7z"/>
<path class="c8" d="M613.1 737.5l9 17.7 18.4 1.4-9-17.7z"/>
<path class="c8" d="M594.7 735.1l9 17.7 18.4 2.4-9-17.7z"/>
<path class="c9" d="M576.4 731.7l8.9 17.7 18.4 3.4-9-17.7z"/>
<path class="c9" d="M558 727.2l8.9 17.7 18.4 4.5-8.9-17.7z"/>
<path class="c10" d="M539.6 721.6l8.9 17.7 18.4 5.6-8.9-17.7z"/>
<path class="c11" d="M521.2 714.9l9 17.7 18.3 6.7-8.9-17.7z"/>
<path class="c12" d="M502.8 707.2l9 17.7 18.4 7.7-9-17.7z"/>
<path class="c13" d="M484.4 698.4l9 17.7 18.4 8.8-9-17.7z"/>
<path class="c14" d="M466 688.6l9 17.7 18.4 9.8-9-17.7z"/>
<path class="c15" d="M447.6 677.7l9 17.6 18.4 11-9-17.7z"/>
<path class="c17" d="M429.2 665.7l9 17.7 18.4 11.9-9-17.6z"/>
<path class="c18" d="M410.8 652.6l9 17.7 18.4 13.1-9-17.7z"/>
<path class="c20" d="M392.4 638.5l9 17.7 18.4 14.1-9-17.7z"/>
<path class="c21" d="M374 623.3l9 17.7 18.4 15.2-9-17.7z"/>
<path class="c23" d="M355.7 607.1l8.9 17.7 18.4 16.2-9-17.7z"/>
<path class="c25" d="M337.3 589.7l8.9 17.7 18.4 17.4-8.9-17.7z"/>
<path class="c27" d="M318.9 571.4l8.9 17.7 18.4 18.3-8.9-17.7z"/>
<path class="c29" d="M300.5 551.9l8.9 17.7 18.4 19.5-8.9-17.7z"/>
<path class="c31" d="M282.1 531.4l9 17.7 18.3 20.5-8.9-17.7z"/>
<path class="c34" d="M263.7 509.8l9 17.7 18.4 21.6-9-17.7z"/>
<path class="c36" d="M245.3 487.2l9 17.7 18.4 22.6-9-17.7z"/>
<path class="c39" d="M226.9 463.5l9 17.6 18.4 23.8-9-17.7z"/>
<path class="c37" d="M1118.7 416.7l9 16.6 18.4-27.4-9-16.7z"/>
<path class="c35" d="M1100.3 443.1l9 16.6 18.4-26.4-9-16.6z"/>
<path class="c32" d="M1081.9 468.4l9 16.7 18.4-25.4-9-16.6z"/>
<path class="c30" d="M1063.5 492.7l9 16.6 18.4-24.2-9-16.7z"/>
<path class="c28" d="M1045.1 515.9l9 16.6 18.4-23.2-9-16.6z"/>
<path class="c26" d="M1026.7 538l9 16.7 18.4-22.2-9-16.6z"/>
<path class="c24" d="M1008.3 559.1l9 16.6 18.4-21-9-16.7z"/>
<path class="c22" d="M989.9 579.1l9 16.6 18.4-20-9-16.6z"/>
<path class="c20" d="M971.6 598l8.9 16.7 18.4-19-9-16.6z"/>
<path class="c18" d="M953.2 615.9l8.9 16.6 18.4-17.8-8.9-16.7z"/>
<path class="c17" d="M934.8 632.7l8.9 16.6 18.4-16.8-8.9-16.6z"/>
<path class="c15" d="M916.4 648.5l9 16.6 18.3-15.8-8.9-16.6z"/>
<path class="c14" d="M898 663.1l9 16.6 18.4-14.6-9-16.6z"/>
<path class="c13" d="M879.6 676.7l9 16.6 18.4-13.6-9-16.6z"/>
<path class="c12" d="M861.2 689.3l9 16.6 18.4-12.6-9-16.6z"/>
<path class="c10" d="M842.8 700.7l9 16.7 18.4-11.5-9-16.6z"/>
<path class="c10" d="M824.4 711.1l9 16.7 18.4-10.4-9-16.7z"/>
<path class="c9" d="M806 720.5l9 16.6 18.4-9.3-9-16.7z"/>
<path class="c8" d="M787.6 728.8l9 16.6 18.4-8.3-9-16.6z"/>
<path class="c7" d="M769.2 736l9 16.6 18.4-7.2-9-16.6z"/>
<path class="c7" d="M750.9 742.1l8.9 16.6 18.4-6.1-9-16.6z"/>
<path class="c7" d="M732.5 747.2l8.9 16.6 18.4-5.1-8.9-16.6z"/>
<path class="c6" d="M714.1 751.2l8.9 16.6 18.4-4-8.9-16.6z"/>
<path class="c6" d="M695.7 754.1l9 16.6 18.3-2.9-8.9-16.6z"/>
<path class="c6" d="M677.3 756l9 16.6 18.4-1.9-9-16.6z"/>
<path class="c6" d="M658.9 756.8l9 16.6 18.4-0.8-9-16.6z"/>
<path class="c6" d="M640.5 756.6l9 16.6 18.4 0.2-9-16.6z"/>
<path class="c7" d="M622.1 755.2l9 16.7 18.4 1.3-9-16.6z"/>
<path class="c7" d="M603.7 752.8l9 16.7 18.4 2.4-9-16.7z"/>
<path class="c7" d="M585.3 749.4l9 16.6 18.4 3.5-9-16.7z"/>
<path class="c8" d="M566.9 744.9l9 16.6 18.4 4.5-9-16.6z"/>
<path class="c9" d="M548.5 739.3l9 16.6 18.4 5.6-9-16.6z"/>
<path class="c10" d="M530.2 732.6l8.9 16.6 18.4 6.7-9-16.6z"/>
<path class="c10" d="M511.8 724.9l8.9 16.6 18.4 7.7-8.9-16.6z"/>
<path class="c12" d="M493.4 716.1l8.9 16.6 18.4 8.8-8.9-16.6z"/>
<path class="c13" d="M475 706.3l8.9 16.6 18.4 9.8-8.9-16.6z"/>
<path class="c14" d="M456.6 695.3l9 16.7 18.3 10.9-8.9-16.6z"/>
<path class="c15" d="M438.2 683.4l9 16.6 18.4 12-9-16.7z"/>
<path class="c17" d="M419.8 670.3l9 16.6 18.4 13.1-9-16.6z"/>
<path class="c18" d="M401.4 656.2l9 16.6 18.4 14.1-9-16.6z"/>
<path class="c20" d="M383 641l9 16.6 18.4 15.2-9-16.6z"/>
<path class="c22" d="M364.6 624.8l9 16.6 18.4 16.2-9-16.6z"/>
<path class="c24" d="M346.2 607.4l9 16.7 18.4 17.3-9-16.6z"/>
<path class="c26" d="M327.8 589.1l9 16.6 18.4 18.4-9-16.7z"/>
<path class="c28" d="M309.4 569.6l9 16.6 18.4 19.5-9-16.6z"/>
<path class="c30" d="M291.1 549.1l8.9 16.6 18.4 20.5-9-16.6z"/>
<path class="c32" d="M272.7 527.5l8.9 16.6 18.4 21.6-8.9-16.6z"/>
<path class="c35" d="M254.3 504.9l8.9 16.6 18.4 22.6-8.9-16.6z"/>
<path class="c37" d="M235.9 481.1l9 16.7 18.3 23.7-8.9-16.6z"/>
<path class="c36" d="M1127.7 433.3l8.9 15.6 18.4-27.5-8.9-15.5z"/>
<path class="c34" d="M1109.3 459.7l8.9 15.6 18.4-26.4-8.9-15.6z"/>
<path class="c31" d="M1090.9 485.1l9 15.5 18.3-25.3-8.9-15.6z"/>
<path class="c29" d="M1072.5 509.3l9 15.6 18.4-24.3-9-15.5z"/>
<path class="c27" d="M1054.1 532.5l9 15.6 18.4-23.2-9-15.6z"/>
<path class="c24" d="M1035.7 554.7l9 15.5 18.4-22.1-9-15.6z"/>
<path class="c22" d="M1017.3 575.7l9 15.6 18.4-21.1-9-15.5z"/>
<path class="c21" d="M998.9 595.7l9 15.6 18.4-20-9-15.6z"/>
<path class="c19" d="M980.5 614.7l9 15.5 18.4-18.9-9-15.6z"/>
<path class="c17" d="M962.1 632.5l9 15.6 18.4-17.9-9-15.5z"/>
<path class="c15" d="M943.7 649.3l9 15.6 18.4-16.8-9-15.6z"/>
<path class="c14" d="M925.4 665.1l8.9 15.5 18.4-15.7-9-15.6z"/>
<path class="c13" d="M907 679.7l8.9 15.6 18.4-14.7-8.9-15.5z"/>
<path class="c11" d="M888.6 693.3l8.9 15.6 18.4-13.6-8.9-15.6z"/>
<path class="c10" d="M870.2 705.9l9 15.5 18.3-12.5-8.9-15.6z"/>
<path class="c9" d="M851.8 717.4l9 15.5 18.4-11.5-9-15.5z"/>
<path class="c8" d="M833.4 727.8l9 15.5 18.4-10.4-9-15.5z"/>
<path class="c7" d="M815 737.1l9 15.6 18.4-9.4-9-15.5z"/>
<path class="c7" d="M796.6 745.4l9 15.5 18.4-8.2-9-15.6z"/>
<path class="c6" d="M778.2 752.6l9 15.5 18.4-7.2-9-15.5z"/>
<path class="c6" d="M759.8 758.7l9 15.6 18.4-6.2-9-15.5z"/>
<path class="c5" d="M741.4 763.8l9 15.6 18.4-5.1-9-15.6z"/>
<path class="c5" d="M723 767.8l9 15.6 18.4-4-9-15.6z"/>
<path class="c5" d="M704.7 770.7l8.9 15.6 18.4-2.9-9-15.6z"/>
<path class="c5" d="M686.3 772.6l8.9 15.6 18.4-1.9-8.9-15.6z"/>
<path class="c5" d="M667.9 773.4l8.9 15.6 18.4-0.8-8.9-15.6z"/>
<path class="c5" d="M649.5 773.2l8.9 15.5 18.4 0.3-8.9-15.6z"/>
<path class="c5" d="M631.1 771.9l9 15.5 18.3 1.3-8.9-15.5z"/>
<path class="c6" d="M612.7 769.5l9 15.5 18.4 2.4-9-15.5z"/>
<path class="c6" d="M594.3 766l9 15.6 18.4 3.4-9-15.5z"/>
<path class="c7" d="M575.9 761.5l9 15.5 18.4 4.6-9-15.6z"/>
<path class="c7" d="M557.5 755.9l9 15.6 18.4 5.5-9-15.5z"/>
<path class="c8" d="M539.1 749.2l9 15.6 18.4 6.7-9-15.6z"/>
<path class="c9" d="M520.7 741.5l9 15.6 18.4 7.7-9-15.6z"/>
<path class="c10" d="M502.3 732.7l9 15.6 18.4 8.8-9-15.6z"/>
<path class="c11" d="M483.9 722.9l9 15.5 18.4 9.9-9-15.6z"/>
<path class="c13" d="M465.6 712l8.9 15.5 18.4 10.9-9-15.5z"/>
<path class="c14" d="M447.2 700l8.9 15.5 18.4 12-8.9-15.5z"/>
<path class="c15" d="M428.8 686.9l8.9 15.6 18.4 13-8.9-15.5z"/>
<path class="c17" d="M410.4 672.8l9 15.6 18.3 14.1-8.9-15.6z"/>
<path class="c19" d="M392 657.6l9 15.6 18.4 15.2-9-15.6z"/>
<path class="c21" d="M373.6 641.4l9 15.5 18.4 16.3-9-15.6z"/>
<path class="c22" d="M355.2 624.1l9 15.5 18.4 17.3-9-15.5z"/>
<path class="c24" d="M336.8 605.7l9 15.5 18.4 18.4-9-15.5z"/>
<path class="c27" d="M318.4 586.2l9 15.6 18.4 19.4-9-15.5z"/>
<path class="c29" d="M300 565.7l9 15.6 18.4 20.5-9-15.6z"/>
<path class="c31" d="M281.6 544.1l9 15.6 18.4 21.6-9-15.6z"/>
<path class="c34" d="M263.2 521.5l9 15.5 18.4 22.7-9-15.6z"/>
<path class="c36" d="M244.9 497.8l8.9 15.5 18.4 23.7-9-15.5z"/>
<path class="c35" d="M1136.6 448.9l9 14.5 18.4-27.5-9-14.5z"/>
<path class="c32" d="M1118.2 475.3l9 14.5 18.4-26.4-9-14.5z"/>
<path class="c30" d="M1099.9 500.6l8.9 14.5 18.4-25.3-9-14.5z"/>
<path class="c28" d="M1081.5 524.9l8.9 14.5 18.4-24.3-8.9-14.5z"/>
<path class="c25" d="M1063.1 548.1l8.9 14.5 18.4-23.2-8.9-14.5z"/>
<path class="c23" d="M1044.7 570.2l9 14.5 18.3-22.1-8.9-14.5z"/>
<path class="c21" d="M1026.3 591.3l9 14.5 18.4-21.1-9-14.5z"/>
<path class="c19" d="M1007.9 611.3l9 14.5 18.4-20-9-14.5z"/>
<path class="c18" d="M989.5 630.2l9 14.5 18.4-18.9-9-14.5z"/>
<path class="c16" d="M971.1 648.1l9 14.5 18.4-17.9-9-14.5z"/>
<path class="c14" d="M952.7 664.9l9 14.5 18.4-16.8-9-14.5z"/>
<path class="c13" d="M934.3 680.6l9 14.5 18.4-15.7-9-14.5z"/>
<path class="c12" d="M915.9 695.3l9 14.5 18.4-14.7-9-14.5z"/>
<path class="c10" d="M897.5 708.9l9 14.5 18.4-13.6-9-14.5z"/>
<path class="c9" d="M879.2 721.4l8.9 14.5 18.4-12.5-9-14.5z"/>
<path class="c8" d="M860.8 732.9l8.9 14.5 18.4-11.5-8.9-14.5z"/>
<path class="c7" d="M842.4 743.3l8.9 14.5 18.4-10.4-8.9-14.5z"/>
<path class="c6" d="M824 752.7l8.9 14.5 18.4-9.4-8.9-14.5z"/>
<path class="c6" d="M805.6 760.9l9 14.5 18.3-8.2-8.9-14.5z"/>
<path class="c5" d="M787.2 768.1l9 14.5 18.4-7.2-9-14.5z"/>
<path class="c5" d="M768.8 774.3l9 14.5 18.4-6.2-9-14.5z"/>
<path class="c4" d="M750.4 779.4l9 14.4 18.4-5-9-14.5z"/>
<path class="c4" d="M732 783.4l9 14.5 18.4-4.1-9-14.4z"/>
<path class="c4" d="M713.6 786.3l9 14.5 18.4-2.9-9-14.5z"/>
<path class="c4" d="M695.2 788.2l9 14.5 18.4-1.9-9-14.5z"/>
<path class="c4" d="M676.8 789l9 14.5 18.4-0.8-9-14.5z"/>
<path class="c4" d="M658.4 788.7l9 14.5 18.4 0.3-9-14.5z"/>
<path class="c4" d="M640.1 787.4l8.9 14.5 18.4 1.3-9-14.5z"/>
<path class="c5" d="M621.7 785l8.9 14.5 18.4 2.4-8.9-14.5z"/>
<path class="c5" d="M603.3 781.6l8.9 14.5 18.4 3.4-8.9-14.5z"/>
<path class="c6" d="M584.9 777l9 14.5 18.3 4.6-8.9-14.5z"/>
<path class="c6" d="M566.5 771.5l9 14.4 18.4 5.6-9-14.5z"/>
<path class="c7" d="M548.1 764.8l9 14.5 18.4 6.6-9-14.4z"/>
<path class="c8" d="M529.7 757.1l9 14.5 18.4 7.7-9-14.5z"/>
<path class="c9" d="M511.3 748.3l9 14.5 18.4 8.8-9-14.5z"/>
<path class="c10" d="M492.9 738.4l9 14.5 18.4 9.9-9-14.5z"/>
<path class="c12" d="M474.5 727.5l9 14.5 18.4 10.9-9-14.5z"/>
<path class="c13" d="M456.1 715.5l9 14.5 18.4 12-9-14.5z"/>
<path class="c14" d="M437.7 702.5l9 14.5 18.4 13-9-14.5z"/>
<path class="c16" d="M419.4 688.4l8.9 14.5 18.4 14.1-9-14.5z"/>
<path class="c18" d="M401 673.2l8.9 14.5 18.4 15.2-8.9-14.5z"/>
<path class="c19" d="M382.6 656.9l8.9 14.5 18.4 16.3-8.9-14.5z"/>
<path class="c21" d="M364.2 639.6l9 14.5 18.3 17.3-8.9-14.5z"/>
<path class="c23" d="M345.8 621.2l9 14.5 18.4 18.4-9-14.5z"/>
<path class="c25" d="M327.4 601.8l9 14.5 18.4 19.4-9-14.5z"/>
<path class="c28" d="M309 581.3l9 14.5 18.4 20.5-9-14.5z"/>
<path class="c30" d="M290.6 559.7l9 14.5 18.4 21.6-9-14.5z"/>
<path class="c32" d="M272.2 537l9 14.5 18.4 22.7-9-14.5z"/>
<path class="c35" d="M253.8 513.3l9 14.5 18.4 23.7-9-14.5z"/>
<path class="c34" d="M1145.6 463.4l9 13.4 18.4-27.5-9-13.4z"/>
<path class="c31" d="M1127.2 489.8l9 13.4 18.4-26.4-9-13.4z"/>
<path class="c29" d="M1108.8 515.1l9 13.4 18.4-25.3-9-13.4z"/>
<path class="c27" d="M1090.4 539.4l9 13.4 18.4-24.3-9-13.4z"/>
<path class="c24" d="M1072 562.6l9 13.4 18.4-23.2-9-13.4z"/>
<path class="c22" d="M1053.7 584.7l8.9 13.4 18.4-22.1-9-13.4z"/>
<path class="c20" d="M1035.3 605.8l8.9 13.4 18.4-21.1-8.9-13.4z"/>
<path class="c18" d="M1016.9 625.8l8.9 13.4 18.4-20-8.9-13.4z"/>
<path class="c17" d="M998.5 644.7l8.9 13.4 18.4-18.9-8.9-13.4z"/>
<path class="c15" d="M980.1 662.6l9 13.4 18.3-17.9-8.9-13.4z"/>
<path class="c13" d="M961.7 679.4l9 13.4 18.4-16.8-9-13.4z"/>
<path class="c12" d="M943.3 695.1l9 13.4 18.4-15.7-9-13.4z"/>
<path class="c10" d="M924.9 709.8l9 13.4 18.4-14.7-9-13.4z"/>
<path class="c9" d="M906.5 723.4l9 13.4 18.4-13.6-9-13.4z"/>
<path class="c8" d="M888.1 735.9l9 13.5 18.4-12.6-9-13.4z"/>
<path class="c7" d="M869.7 747.4l9 13.4 18.4-11.4-9-13.5z"/>
<path class="c6" d="M851.3 757.8l9 13.4 18.4-10.4-9-13.4z"/>
<path class="c5" d="M832.9 767.2l9 13.4 18.4-9.4-9-13.4z"/>
<path class="c5" d="M814.6 775.4l8.9 13.4 18.4-8.2-9-13.4z"/>
<path class="c4" d="M796.2 782.6l8.9 13.5 18.4-7.3-8.9-13.4z"/>
<path class="c4" d="M777.8 788.8l8.9 13.4 18.4-6.1-8.9-13.5z"/>
<path class="c3" d="M759.4 793.8l9 13.5 18.3-5.1-8.9-13.4z"/>
<path class="c3" d="M741 797.9l9 13.4 18.4-4-9-13.5z"/>
<path class="c3" d="M722.6 800.8l9 13.4 18.4-2.9-9-13.4z"/>
<path class="c3" d="M704.2 802.7l9 13.4 18.4-1.9-9-13.4z"/>
<path class="c3" d="M685.8 803.5l9 13.4 18.4-0.8-9-13.4z"/>
<path class="c3" d="M667.4 803.2l9 13.4 18.4 0.3-9-13.4z"/>
<path class="c3" d="M649 801.9l9 13.4 18.4 1.3-9-13.4z"/>
<path class="c4" d="M630.6 799.5l9 13.4 18.4 2.4-9-13.4z"/>
<path class="c4" d="M612.2 796.1l9 13.4 18.4 3.4-9-13.4z"/>
<path class="c5" d="M593.9 791.5l8.9 13.5 18.4 4.5-9-13.4z"/>
<path class="c5" d="M575.5 785.9l8.9 13.5 18.4 5.6-8.9-13.5z"/>
<path class="c6" d="M557.1 779.3l8.9 13.4 18.4 6.7-8.9-13.5z"/>
<path class="c7" d="M538.7 771.6l9 13.4 18.3 7.7-8.9-13.4z"/>
<path class="c8" d="M520.3 762.8l9 13.4 18.4 8.8-9-13.4z"/>
<path class="c9" d="M501.9 752.9l9 13.5 18.4 9.8-9-13.4z"/>
<path class="c10" d="M483.5 742l9 13.4 18.4 11-9-13.5z"/>
<path class="c12" d="M465.1 730l9 13.4 18.4 12-9-13.4z"/>
<path class="c13" d="M446.7 717l9 13.4 18.4 13-9-13.4z"/>
<path class="c15" d="M428.3 702.9l9 13.4 18.4 14.1-9-13.4z"/>
<path class="c17" d="M409.9 687.7l9 13.4 18.4 15.2-9-13.4z"/>
<path class="c18" d="M391.5 671.4l9 13.4 18.4 16.3-9-13.4z"/>
<path class="c20" d="M373.2 654.1l8.9 13.4 18.4 17.3-9-13.4z"/>
<path class="c22" d="M354.8 635.7l8.9 13.4 18.4 18.4-8.9-13.4z"/>
<path class="c24" d="M336.4 616.3l8.9 13.4 18.4 19.4-8.9-13.4z"/>
<path class="c27" d="M318 595.8l9 13.4 18.3 20.5-8.9-13.4z"/>
<path class="c29" d="M299.6 574.2l9 13.4 18.4 21.6-9-13.4z"/>
<path class="c31" d="M281.2 551.5l9 13.5 18.4 22.6-9-13.4z"/>
<path class="c34" d="M262.8 527.8l9 13.4 18.4 23.8-9-13.5z"/>
<path class="c33" d="M1154.6 476.8l9 12.4 18.3-27.5-8.9-12.4z"/>
<path class="c30" d="M1136.2 503.2l9 12.4 18.4-26.4-9-12.4z"/>
<path class="c28" d="M1117.8 528.5l9 12.4 18.4-25.3-9-12.4z"/>
<path class="c26" d="M1099.4 552.8l9 12.4 18.4-24.3-9-12.4z"/>
<path class="c23" d="M1081 576l9 12.4 18.4-23.2-9-12.4z"/>
<path class="c21" d="M1062.6 598.1l9 12.4 18.4-22.1-9-12.4z"/>
<path class="c19" d="M1044.2 619.2l9 12.4 18.4-21.1-9-12.4z"/>
<path class="c17" d="M1025.8 639.2l9 12.4 18.4-20-9-12.4z"/>
<path class="c16" d="M1007.4 658.1l9 12.4 18.4-18.9-9-12.4z"/>
<path class="c14" d="M989.1 676l8.9 12.4 18.4-17.9-9-12.4z"/>
<path class="c12" d="M970.7 692.8l8.9 12.4 18.4-16.8-8.9-12.4z"/>
<path class="c11" d="M952.3 708.5l8.9 12.4 18.4-15.7-8.9-12.4z"/>
<path class="c10" d="M933.9 723.2l9 12.4 18.3-14.7-8.9-12.4z"/>
<path class="c8" d="M915.5 736.8l9 12.4 18.4-13.6-9-12.4z"/>
<path class="c7" d="M897.1 749.4l9 12.3 18.4-12.5-9-12.4z"/>
<path class="c6" d="M878.7 760.8l9 12.4 18.4-11.5-9-12.3z"/>
<path class="c5" d="M860.3 771.2l9 12.4 18.4-10.4-9-12.4z"/>
<path class="c4" d="M841.9 780.6l9 12.3 18.4-9.3-9-12.4z"/>
<path class="c4" d="M823.5 788.8l9 12.4 18.4-8.3-9-12.3z"/>
<path class="c3" d="M805.1 796.1l9 12.3 18.4-7.2-9-12.4z"/>
<path class="c3" d="M786.7 802.2l9 12.4 18.4-6.2-9-12.3z"/>
<path class="c2" d="M768.4 807.3l8.9 12.3 18.4-5-9-12.4z"/>
<path class="c2" d="M750 811.3l8.9 12.3 18.4-4-8.9-12.3z"/>
<path class="c2" d="M731.6 814.2l8.9 12.4 18.4-3-8.9-12.3z"/>
<path class="c2" d="M713.2 816.1l9 12.4 18.3-1.9-8.9-12.4z"/>
<path class="c2" d="M694.8 816.9l9 12.4 18.4-0.8-9-12.4z"/>
<path class="c2" d="M676.4 816.6l9 12.4 18.4 0.3-9-12.4z"/>
<path class="c2" d="M658 815.3l9 12.4 18.4 1.3-9-12.4z"/>
<path class="c3" d="M639.6 812.9l9 12.4 18.4 2.4-9-12.4z"/>
<path class="c3" d="M621.2 809.5l9 12.3 18.4 3.5-9-12.4z"/>
<path class="c4" d="M602.8 805l9 12.3 18.4 4.5-9-12.3z"/>
<path class="c4" d="M584.4 799.4l9 12.3 18.4 5.6-9-12.3z"/>
<path class="c5" d="M566 792.7l9 12.4 18.4 6.6-9-12.3z"/>
<path class="c6" d="M547.7 785l8.9 12.4 18.4 7.7-9-12.4z"/>
<path class="c7" d="M529.3 776.2l8.9 12.4 18.4 8.8-8.9-12.4z"/>
<path class="c8" d="M510.9 766.4l8.9 12.3 18.4 9.9-8.9-12.4z"/>
<path class="c10" d="M492.5 755.4l9 12.4 18.3 10.9-8.9-12.3z"/>
<path class="c11" d="M474.1 743.4l9 12.4 18.4 12-9-12.4z"/>
<path class="c12" d="M455.7 730.4l9 12.4 18.4 13-9-12.4z"/>
<path class="c14" d="M437.3 716.3l9 12.3 18.4 14.2-9-12.4z"/>
<path class="c16" d="M418.9 701.1l9 12.4 18.4 15.1-9-12.3z"/>
<path class="c17" d="M400.5 684.8l9 12.4 18.4 16.3-9-12.4z"/>
<path class="c19" d="M382.1 667.5l9 12.4 18.4 17.3-9-12.4z"/>
<path class="c21" d="M363.7 649.1l9 12.4 18.4 18.4-9-12.4z"/>
<path class="c23" d="M345.3 629.7l9 12.4 18.4 19.4-9-12.4z"/>
<path class="c26" d="M327 609.2l8.9 12.3 18.4 20.6-9-12.4z"/>
<path class="c28" d="M308.6 587.6l8.9 12.4 18.4 21.5-8.9-12.3z"/>
<path class="c30" d="M290.2 565l8.9 12.3 18.4 22.7-8.9-12.4z"/>
<path class="c33" d="M271.8 541.2l8.9 12.4 18.4 23.7-8.9-12.3z"/>
<path class="c32" d="M1163.6 489.2l8.9 11.3 18.4-27.5-9-11.3z"/>
<path class="c30" d="M1145.2 515.6l8.9 11.3 18.4-26.4-8.9-11.3z"/>
<path class="c27" d="M1126.8 540.9l8.9 11.3 18.4-25.3-8.9-11.3z"/>
<path class="c25" d="M1108.4 565.2l9 11.3 18.3-24.3-8.9-11.3z"/>
<path class="c23" d="M1090 588.4l9 11.3 18.4-23.2-9-11.3z"/>
<path class="c21" d="M1071.6 610.5l9 11.3 18.4-22.1-9-11.3z"/>
<path class="c19" d="M1053.2 631.6l9 11.3 18.4-21.1-9-11.3z"/>
<path class="c17" d="M1034.8 651.6l9 11.3 18.4-20-9-11.3z"/>
<path class="c15" d="M1016.4 670.5l9 11.3 18.4-18.9-9-11.3z"/>
<path class="c13" d="M998 688.4l9 11.3 18.4-17.9-9-11.3z"/>
<path class="c12" d="M979.6 705.2l9 11.3 18.4-16.8-9-11.3z"/>
<path class="c10" d="M961.2 720.9l9 11.3 18.4-15.7-9-11.3z"/>
<path class="c9" d="M942.9 735.6l8.9 11.3 18.4-14.7-9-11.3z"/>
<path class="c7" d="M924.5 749.2l8.9 11.3 18.4-13.6-8.9-11.3z"/>
<path class="c6" d="M906.1 761.7l8.9 11.3 18.4-12.5-8.9-11.3z"/>
<path class="c5" d="M887.7 773.2l9 11.3 18.3-11.5-8.9-11.3z"/>
<path class="c4" d="M869.3 783.6l9 11.3 18.4-10.4-9-11.3z"/>
<path class="c4" d="M850.9 792.9l9 11.3 18.4-9.3-9-11.3z"/>
<path class="c3" d="M832.5 801.2l9 11.3 18.4-8.3-9-11.3z"/>
<path class="c2" d="M814.1 808.4l9 11.3 18.4-7.2-9-11.3z"/>
<path class="c2" d="M795.7 814.6l9 11.2 18.4-6.1-9-11.3z"/>
<path class="c1" d="M777.3 819.6l9 11.3 18.4-5.1-9-11.2z"/>
<path class="c1" d="M758.9 823.6l9 11.3 18.4-4-9-11.3z"/>
<path class="c1" d="M740.5 826.6l9 11.3 18.4-3-9-11.3z"/>
<path class="c1" d="M722.2 828.5l8.9 11.2 18.4-1.8-9-11.3z"/>
<path class="c1" d="M703.8 829.3l8.9 11.3 18.4-0.9-8.9-11.2z"/>
<path class="c1" d="M685.4 829l8.9 11.3 18.4 0.3-8.9-11.3z"/>
<path class="c1" d="M667 827.7l9 11.3 18.3 1.3-8.9-11.3z"/>
<path class="c2" d="M648.6 825.3l9 11.3 18.4 2.4-9-11.3z"/>
<path class="c2" d="M630.2 821.8l9 11.3 18.4 3.5-9-11.3z"/>
<path class="c3" d="M611.8 817.3l9 11.3 18.4 4.5-9-11.3z"/>
<path class="c4" d="M593.4 811.7l9 11.3 18.4 5.6-9-11.3z"/>
<path class="c4" d="M575 805.1l9 11.3 18.4 6.6-9-11.3z"/>
<path class="c5" d="M556.6 797.4l9 11.2 18.4 7.8-9-11.3z"/>
<path class="c6" d="M538.2 788.6l9 11.3 18.4 8.7-9-11.2z"/>
<path class="c7" d="M519.8 778.7l9 11.3 18.4 9.9-9-11.3z"/>
<path class="c9" d="M501.5 767.8l8.9 11.3 18.4 10.9-9-11.3z"/>
<path class="c10" d="M483.1 755.8l8.9 11.3 18.4 12-8.9-11.3z"/>
<path class="c12" d="M464.7 742.8l8.9 11.2 18.4 13.1-8.9-11.3z"/>
<path class="c13" d="M446.3 728.6l8.9 11.3 18.4 14.1-8.9-11.2z"/>
<path class="c15" d="M427.9 713.5l9 11.2 18.3 15.2-8.9-11.3z"/>
<path class="c17" d="M409.5 697.2l9 11.3 18.4 16.2-9-11.2z"/>
<path class="c19" d="M391.1 679.9l9 11.3 18.4 17.3-9-11.3z"/>
<path class="c21" d="M372.7 661.5l9 11.3 18.4 18.4-9-11.3z"/>
<path class="c23" d="M354.3 642.1l9 11.2 18.4 19.5-9-11.3z"/>
<path class="c25" d="M335.9 621.5l9 11.3 18.4 20.5-9-11.2z"/>
<path class="c27" d="M317.5 600l9 11.3 18.4 21.5-9-11.3z"/>
<path class="c30" d="M299.1 577.3l9 11.3 18.4 22.7-9-11.3z"/>
<path class="c32" d="M280.7 553.6l9 11.3 18.4 23.7-9-11.3z"/>
<path class="c32" d="M1172.5 500.5l9 10.2 18.4-27.5-9-10.2z"/>
<path class="c29" d="M1154.1 526.9l9 10.2 18.4-26.4-9-10.2z"/>
<path class="c27" d="M1135.7 552.2l9 10.2 18.4-25.3-9-10.2z"/>
<path class="c24" d="M1117.4 576.5l8.9 10.2 18.4-24.3-9-10.2z"/>
<path class="c22" d="M1099 599.7l8.9 10.2 18.4-23.2-8.9-10.2z"/>
<path class="c20" d="M1080.6 621.8l8.9 10.2 18.4-22.1-8.9-10.2z"/>
<path class="c18" d="M1062.2 642.9l9 10.2 18.3-21.1-8.9-10.2z"/>
<path class="c16" d="M1043.8 662.9l9 10.2 18.4-20-9-10.2z"/>
<path class="c14" d="M1025.4 681.8l9 10.2 18.4-18.9-9-10.2z"/>
<path class="c12" d="M1007 699.7l9 10.2 18.4-17.9-9-10.2z"/>
<path class="c11" d="M988.6 716.5l9 10.2 18.4-16.8-9-10.2z"/>
<path class="c9" d="M970.2 732.2l9 10.2 18.4-15.7-9-10.2z"/>
<path class="c8" d="M951.8 746.9l9 10.2 18.4-14.7-9-10.2z"/>
<path class="c7" d="M933.4 760.5l9 10.2 18.4-13.6-9-10.2z"/>
<path class="c6" d="M915 773l9 10.2 18.4-12.5-9-10.2z"/>
<path class="c5" d="M896.7 784.5l8.9 10.2 18.4-11.5-9-10.2z"/>
<path class="c4" d="M878.3 794.9l8.9 10.2 18.4-10.4-8.9-10.2z"/>
<path class="c3" d="M859.9 804.2l8.9 10.3 18.4-9.4-8.9-10.2z"/>
<path class="c2" d="M841.5 812.5l9 10.2 18.3-8.2-8.9-10.3z"/>
<path class="c2" d="M823.1 819.7l9 10.2 18.4-7.2-9-10.2z"/>
<path class="c1" d="M804.7 825.8l9 10.3 18.4-6.2-9-10.2z"/>
<path class="c1" d="M786.3 830.9l9 10.2 18.4-5-9-10.3z"/>
<path class="c0" d="M767.9 834.9l9 10.3 18.4-4.1-9-10.2z"/>
<path class="c0" d="M749.5 837.9l9 10.2 18.4-2.9-9-10.3z"/>
<path class="c0" d="M731.1 839.7l9 10.3 18.4-1.9-9-10.2z"/>
<path class="c0" d="M712.7 840.6l9 10.2 18.4-0.8-9-10.3z"/>
<path class="c0" d="M694.3 840.3l9 10.2 18.4 0.3-9-10.2z"/>
<path class="c1" d="M676 839l8.9 10.2 18.4 1.3-9-10.2z"/>
<path class="c1" d="M657.6 836.6l8.9 10.2 18.4 2.4-8.9-10.2z"/>
<path class="c2" d="M639.2 833.1l8.9 10.3 18.4 3.4-8.9-10.2z"/>
<path class="c2" d="M620.8 828.6l8.9 10.2 18.4 4.6-8.9-10.3z"/>
<path class="c3" d="M602.4 823l9 10.2 18.3 5.6-8.9-10.2z"/>
<path class="c4" d="M584 816.4l9 10.2 18.4 6.6-9-10.2z"/>
<path class="c5" d="M565.6 808.6l9 10.3 18.4 7.7-9-10.2z"/>
<path class="c6" d="M547.2 799.9l9 10.2 18.4 8.8-9-10.3z"/>
<path class="c7" d="M528.8 790l9 10.2 18.4 9.9-9-10.2z"/>
<path class="c8" d="M510.4 779.1l9 10.2 18.4 10.9-9-10.2z"/>
<path class="c9" d="M492 767.1l9 10.2 18.4 12-9-10.2z"/>
<path class="c11" d="M473.6 754l9 10.3 18.4 13-9-10.2z"/>
<path class="c12" d="M455.2 739.9l9 10.3 18.4 14.1-9-10.3z"/>
<path class="c14" d="M436.9 724.7l8.9 10.3 18.4 15.2-9-10.3z"/>
<path class="c16" d="M418.5 708.5l8.9 10.2 18.4 16.3-8.9-10.3z"/>
<path class="c18" d="M400.1 691.2l8.9 10.2 18.4 17.3-8.9-10.2z"/>
<path class="c20" d="M381.7 672.8l9 10.2 18.3 18.4-8.9-10.2z"/>
<path class="c22" d="M363.3 653.3l9 10.3 18.4 19.4-9-10.2z"/>
<path class="c24" d="M344.9 632.8l9 10.3 18.4 20.5-9-10.3z"/>
<path class="c27" d="M326.5 611.3l9 10.2 18.4 21.6-9-10.3z"/>
<path class="c29" d="M308.1 588.6l9 10.2 18.4 22.7-9-10.2z"/>
<path class="c32" d="M289.7 564.9l9 10.2 18.4 23.7-9-10.2z"/>
<path class="c31" d="M1181.5 510.7l9 9.1 18.4-27.4-9-9.2z"/>
<path class="c28" d="M1163.1 537.1l9 9.1 18.4-26.4-9-9.1z"/>
<path class="c26" d="M1144.7 562.4l9 9.2 18.4-25.4-9-9.1z"/>
<path class="c24" d="M1126.3 586.7l9 9.1 18.4-24.2-9-9.2z"/>
<path class="c21" d="M1107.9 609.9l9 9.1 18.4-23.2-9-9.1z"/>
<path class="c19" d="M1089.5 632l9 9.2 18.4-22.2-9-9.1z"/>
<path class="c17" d="M1071.2 653.1l8.9 9.1 18.4-21-9-9.2z"/>
<path class="c15" d="M1052.8 673.1l8.9 9.1 18.4-20-8.9-9.1z"/>
<path class="c14" d="M1034.4 692l8.9 9.2 18.4-19-8.9-9.1z"/>
<path class="c12" d="M1016 709.9l9 9.1 18.3-17.8-8.9-9.2z"/>
<path class="c10" d="M997.6 726.7l9 9.1 18.4-16.8-9-9.1z"/>
<path class="c9" d="M979.2 742.4l9 9.2 18.4-15.8-9-9.1z"/>
<path class="c7" d="M960.8 757.1l9 9.2 18.4-14.7-9-9.2z"/>
<path class="c6" d="M942.4 770.7l9 9.2 18.4-13.6-9-9.2z"/>
<path class="c5" d="M924 783.2l9 9.2 18.4-12.5-9-9.2z"/>
<path class="c4" d="M905.6 794.7l9 9.2 18.4-11.5-9-9.2z"/>
<path class="c3" d="M887.2 805.1l9 9.2 18.4-10.4-9-9.2z"/>
<path class="c2" d="M868.8 814.5l9 9.1 18.4-9.3-9-9.2z"/>
<path class="c2" d="M850.5 822.7l8.9 9.2 18.4-8.3-9-9.1z"/>
<path class="c1" d="M832.1 829.9l8.9 9.2 18.4-7.2-8.9-9.2z"/>
<path class="c0" d="M813.7 836.1l8.9 9.1 18.4-6.1-8.9-9.2z"/>
<path class="c0" d="M795.3 841.1l8.9 9.2 18.4-5.1-8.9-9.1z"/>
<path class="c0" d="M776.9 845.2l9 9.1 18.3-4-8.9-9.2z"/>
<path class="c0" d="M758.5 848.1l9 9.2 18.4-3-9-9.1z"/>
<path class="c0" d="M740.1 850l9 9.1 18.4-1.8-9-9.2z"/>
<path class="c0" d="M721.7 850.8l9 9.1 18.4-0.8-9-9.1z"/>
<path class="c0" d="M703.3 850.5l9 9.2 18.4 0.2-9-9.1z"/>
<path class="c0" d="M684.9 849.2l9 9.2 18.4 1.3-9-9.2z"/>
<path class="c0" d="M666.5 846.8l9 9.2 18.4 2.4-9-9.2z"/>
<path class="c1" d="M648.1 843.4l9 9.1 18.4 3.5-9-9.2z"/>
<path class="c2" d="M629.7 838.8l9 9.2 18.4 4.5-9-9.1z"/>
<path class="c2" d="M611.4 833.2l8.9 9.2 18.4 5.6-9-9.2z"/>
<path class="c3" d="M593 826.6l8.9 9.2 18.4 6.6-8.9-9.2z"/>
<path class="c4" d="M574.6 818.9l8.9 9.1 18.4 7.8-8.9-9.2z"/>
<path class="c5" d="M556.2 810.1l9 9.1 18.3 8.8-8.9-9.1z"/>
<path class="c6" d="M537.8 800.2l9 9.2 18.4 9.8-9-9.1z"/>
<path class="c7" d="M519.4 789.3l9 9.2 18.4 10.9-9-9.2z"/>
<path class="c9" d="M501 777.3l9 9.2 18.4 12-9-9.2z"/>
<path class="c10" d="M482.6 764.3l9 9.1 18.4 13.1-9-9.2z"/>
<path class="c12" d="M464.2 750.2l9 9.1 18.4 14.1-9-9.1z"/>
<path class="c14" d="M445.8 735l9 9.1 18.4 15.2-9-9.1z"/>
<path class="c15" d="M427.4 718.7l9 9.2 18.4 16.2-9-9.1z"/>
<path class="c17" d="M409 701.4l9 9.2 18.4 17.3-9-9.2z"/>
<path class="c19" d="M390.7 683l8.9 9.2 18.4 18.4-9-9.2z"/>
<path class="c21" d="M372.3 663.6l8.9 9.1 18.4 19.5-8.9-9.2z"/>
<path class="c24" d="M353.9 643.1l8.9 9.1 18.4 20.5-8.9-9.1z"/>
<path class="c26" d="M335.5 621.5l9 9.1 18.3 21.6-8.9-9.1z"/>
<path class="c28" d="M317.1 598.8l9 9.2 18.4 22.6-9-9.1z"/>
<path class="c31" d="M298.7 575.1l9 9.2 18.4 23.7-9-9.2z"/>
<path class="c30" d="M1190.5 519.8l9 8.1 18.3-27.4-8.9-8.1z"/>
<path class="c28" d="M1172.1 546.2l9 8.1 18.4-26.4-9-8.1z"/>
<path class="c25" d="M1153.7 571.6l9 8.1 18.4-25.4-9-8.1z"/>
<path class="c23" d="M1135.3 595.8l9 8.1 18.4-24.2-9-8.1z"/>
<path class="c21" d="M1116.9 619l9 8.1 18.4-23.2-9-8.1z"/>
<path class="c19" d="M1098.5 641.2l9 8.1 18.4-22.2-9-8.1z"/>
<path class="c17" d="M1080.1 662.2l9 8.1 18.4-21-9-8.1z"/>
<path class="c15" d="M1061.7 682.2l9 8.1 18.4-20-9-8.1z"/>
<path class="c13" d="M1043.3 701.2l9 8.1 18.4-19-9-8.1z"/>
<path class="c11" d="M1025 719l8.9 8.1 18.4-17.8-9-8.1z"/>
<path class="c10" d="M1006.6 735.8l8.9 8.1 18.4-16.8-8.9-8.1z"/>
<path class="c8" d="M988.2 751.6l8.9 8.1 18.4-15.8-8.9-8.1z"/>
<path class="c7" d="M969.8 766.3l8.9 8 18.4-14.6-8.9-8.1z"/>
<path class="c6" d="M951.4 779.9l9 8.1 18.3-13.7-8.9-8z"/>
<path class="c5" d="M933 792.4l9 8.1 18.4-12.5-9-8.1z"/>
<path class="c4" d="M914.6 803.9l9 8.1 18.4-11.5-9-8.1z"/>
<path class="c3" d="M896.2 814.3l9 8.1 18.4-10.4-9-8.1z"/>
<path class="c2" d="M877.8 823.6l9 8.1 18.4-9.3-9-8.1z"/>
<path class="c1" d="M859.4 831.9l9 8.1 18.4-8.3-9-8.1z"/>
<path class="c0" d="M841 839.1l9 8.1 18.4-7.2-9-8.1z"/>
<path class="c0" d="M822.6 845.2l9 8.1 18.4-6.1-9-8.1z"/>
<path class="c0" d="M804.2 850.3l9 8.1 18.4-5.1-9-8.1z"/>
<path class="c0" d="M785.9 854.3l8.9 8.1 18.4-4-9-8.1z"/>
<path class="c0" d="M767.5 857.3l8.9 8 18.4-2.9-8.9-8.1z"/>
<path class="c0" d="M749.1 859.1l8.9 8.1 18.4-1.9-8.9-8z"/>
<path class="c0" d="M730.7 859.9l9 8.1 18.3-0.8-8.9-8.1z"/>
<path class="c0" d="M712.3 859.7l9 8.1 18.4 0.2-9-8.1z"/>
<path class="c0" d="M693.9 858.4l9 8.1 18.4 1.3-9-8.1z"/>
<path class="c0" d="M675.5 856l9 8.1 18.4 2.4-9-8.1z"/>
<path class="c0" d="M657.1 852.5l9 8.1 18.4 3.5-9-8.1z"/>
<path class="c1" d="M638.7 848l9 8.1 18.4 4.5-9-8.1z"/>
<path class="c2" d="M620.3 842.4l9 8.1 18.4 5.6-9-8.1z"/>
<path class="c3" d="M601.9 835.8l9 8 18.4 6.7-9-8.1z"/>
<path class="c4" d="M583.5 828l9 8.1 18.4 7.7-9-8z"/>
<path class="c5" d="M565.2 819.2l8.9 8.1 18.4 8.8-9-8.1z"/>
<path class="c6" d="M546.8 809.4l8.9 8.1 18.4 9.8-8.9-8.1z"/>
<path class="c7" d="M528.4 798.5l8.9 8.1 18.4 10.9-8.9-8.1z"/>
<path class="c8" d="M510 786.5l9 8.1 18.3 12-8.9-8.1z"/>
<path class="c10" d="M491.6 773.4l9 8.1 18.4 13.1-9-8.1z"/>
<path class="c11" d="M473.2 759.3l9 8.1 18.4 14.1-9-8.1z"/>
<path class="c13" d="M454.8 744.1l9 8.1 18.4 15.2-9-8.1z"/>
<path class="c15" d="M436.4 727.9l9 8.1 18.4 16.2-9-8.1z"/>
<path class="c17" d="M418 710.6l9 8.1 18.4 17.3-9-8.1z"/>
<path class="c19" d="M399.6 692.2l9 8.1 18.4 18.4-9-8.1z"/>
<path class="c21" d="M381.2 672.7l9 8.1 18.4 19.5-9-8.1z"/>
<path class="c23" d="M362.8 652.2l9 8.1 18.4 20.5-9-8.1z"/>
<path class="c25" d="M344.5 630.6l8.9 8.1 18.4 21.6-9-8.1z"/>
<path class="c28" d="M326.1 608l8.9 8.1 18.4 22.6-8.9-8.1z"/>
<path class="c30" d="M307.7 584.3l8.9 8.1 18.4 23.7-8.9-8.1z"/>
<path class="c30" d="M1199.5 527.9l8.9 7.1 18.4-27.5-9-7z"/>
<path class="c28" d="M1181.1 554.3l8.9 7.1 18.4-26.4-8.9-7.1z"/>
<path class="c25" d="M1162.7 579.7l8.9 7 18.4-25.3-8.9-7.1z"/>
<path class="c23" d="M1144.3 603.9l8.9 7.1 18.4-24.3-8.9-7z"/>
<path class="c20" d="M1125.9 627.1l9 7.1 18.3-23.2-8.9-7.1z"/>
<path class="c18" d="M1107.5 649.3l9 7 18.4-22.1-9-7.1z"/>
<path class="c16" d="M1089.1 670.3l9 7.1 18.4-21.1-9-7z"/>
<path class="c14" d="M1070.7 690.3l9 7.1 18.4-20-9-7.1z"/>
<path class="c13" d="M1052.3 709.3l9 7 18.4-18.9-9-7.1z"/>
<path class="c11" d="M1033.9 727.1l9 7.1 18.4-17.9-9-7z"/>
<path class="c9" d="M1015.5 743.9l9 7.1 18.4-16.8-9-7.1z"/>
<path class="c8" d="M997.1 759.7l9 7 18.4-15.7-9-7.1z"/>
<path class="c7" d="M978.7 774.3l9 7.1 18.4-14.7-9-7z"/>
<path class="c5" d="M960.4 788l8.9 7 18.4-13.6-9-7.1z"/>
<path class="c4" d="M942 800.5l8.9 7 18.4-12.5-8.9-7z"/>
<path class="c3" d="M923.6 812l8.9 7 18.4-11.5-8.9-7z"/>
<path class="c2" d="M905.2 822.4l9 7 18.3-10.4-8.9-7z"/>
<path class="c1" d="M886.8 831.7l9 7 18.4-9.3-9-7z"/>
<path class="c1" d="M868.4 840l9 7 18.4-8.3-9-7z"/>
<path class="c0" d="M850 847.2l9 7 18.4-7.2-9-7z"/>
<path class="c0" d="M831.6 853.3l9 7.1 18.4-6.2-9-7z"/>
<path class="c0" d="M813.2 858.4l9 7 18.4-5-9-7.1z"/>
<path class="c0" d="M794.8 862.4l9 7 18.4-4-9-7z"/>
<path class="c0" d="M776.4 865.3l9 7.1 18.4-3-9-7z"/>
<path class="c0" d="M758 867.2l9 7.1 18.4-1.9-9-7.1z"/>
<path class="c0" d="M739.7 868l8.9 7.1 18.4-0.8-9-7.1z"/>
<path class="c0" d="M721.3 867.8l8.9 7 18.4 0.3-8.9-7.1z"/>
<path class="c0" d="M702.9 866.5l8.9 7 18.4 1.3-8.9-7z"/>
<path class="c0" d="M684.5 864.1l9 7 18.3 2.4-8.9-7z"/>
<path class="c0" d="M666.1 860.6l9 7 18.4 3.5-9-7z"/>
<path class="c1" d="M647.7 856.1l9 7 18.4 4.5-9-7z"/>
<path class="c1" d="M629.3 850.5l9 7 18.4 5.6-9-7z"/>
<path class="c2" d="M610.9 843.8l9 7.1 18.4 6.6-9-7z"/>
<path class="c3" d="M592.5 836.1l9 7.1 18.4 7.7-9-7.1z"/>
<path class="c4" d="M574.1 827.3l9 7.1 18.4 8.8-9-7.1z"/>
<path class="c5" d="M555.7 817.5l9 7 18.4 9.9-9-7.1z"/>
<path class="c7" d="M537.3 806.6l9 7 18.4 10.9-9-7z"/>
<path class="c8" d="M519 794.6l8.9 7 18.4 12-9-7z"/>
<path class="c9" d="M500.6 781.5l8.9 7.1 18.4 13-8.9-7z"/>
<path class="c11" d="M482.2 767.4l8.9 7 18.4 14.2-8.9-7.1z"/>
<path class="c13" d="M463.8 752.2l9 7.1 18.3 15.1-8.9-7z"/>
<path class="c14" d="M445.4 736l9 7 18.4 16.3-9-7.1z"/>
<path class="c16" d="M427 718.7l9 7 18.4 17.3-9-7z"/>
<path class="c18" d="M408.6 700.3l9 7 18.4 18.4-9-7z"/>
<path class="c20" d="M390.2 680.8l9 7.1 18.4 19.4-9-7z"/>
<path class="c23" d="M371.8 660.3l9 7 18.4 20.6-9-7.1z"/>
<path class="c25" d="M353.4 638.7l9 7.1 18.4 21.5-9-7z"/>
<path class="c28" d="M335 616.1l9 7 18.4 22.7-9-7.1z"/>
<path class="c30" d="M316.6 592.4l9 7 18.4 23.7-9-7z"/>
<path class="c30" d="M1208.4 535l9 5.9 18.4-27.4-9-6z"/>
<path class="c27" d="M1190 561.4l9 5.9 18.4-26.4-9-5.9z"/>
<path class="c25" d="M1171.6 586.7l9 6 18.4-25.4-9-5.9z"/>
<path class="c22" d="M1153.2 611l9 5.9 18.4-24.2-9-6z"/>
<path class="c20" d="M1134.9 634.2l8.9 5.9 18.4-23.2-9-5.9z"/>
<path class="c18" d="M1116.5 656.3l8.9 6 18.4-22.2-8.9-5.9z"/>
<path class="c16" d="M1098.1 677.4l8.9 5.9 18.4-21-8.9-6z"/>
<path class="c14" d="M1079.7 697.4l9 5.9 18.3-20-8.9-5.9z"/>
<path class="c12" d="M1061.3 716.3l9 6 18.4-19-9-5.9z"/>
<path class="c11" d="M1042.9 734.2l9 5.9 18.4-17.8-9-6z"/>
<path class="c9" d="M1024.5 751l9 5.9 18.4-16.8-9-5.9z"/>
<path class="c8" d="M1006.1 766.7l9 6 18.4-15.8-9-5.9z"/>
<path class="c6" d="M987.7 781.4l9 5.9 18.4-14.6-9-6z"/>
<path class="c5" d="M969.3 795l9 5.9 18.4-13.6-9-5.9z"/>
<path class="c4" d="M950.9 807.5l9 6 18.4-12.6-9-5.9z"/>
<path class="c3" d="M932.5 819l9 5.9 18.4-11.4-9-6z"/>
<path class="c2" d="M914.2 829.4l8.9 6 18.4-10.5-9-5.9z"/>
<path class="c1" d="M895.8 838.7l8.9 6 18.4-9.3-8.9-6z"/>
<path class="c0" d="M877.4 847l8.9 6 18.4-8.3-8.9-6z"/>
<path class="c0" d="M859 854.2l9 6 18.3-7.2-8.9-6z"/>
<path class="c0" d="M840.6 860.4l9 5.9 18.4-6.1-9-6z"/>
<path class="c0" d="M822.2 865.4l9 6 18.4-5.1-9-5.9z"/>
<path class="c0" d="M803.8 869.4l9 6 18.4-4-9-6z"/>
<path class="c0" d="M785.4 872.4l9 5.9 18.4-2.9-9-6z"/>
<path class="c0" d="M767 874.3l9 5.9 18.4-1.9-9-5.9z"/>
<path class="c0" d="M748.6 875.1l9 5.9 18.4-0.8-9-5.9z"/>
<path class="c0" d="M730.2 874.8l9 6 18.4 0.2-9-5.9z"/>
<path class="c0" d="M711.8 873.5l9 5.9 18.4 1.4-9-6z"/>
<path class="c0" d="M693.5 871.1l8.9 6 18.4 2.3-9-5.9z"/>
<path class="c0" d="M675.1 867.6l8.9 6 18.4 3.5-8.9-6z"/>
<path class="c0" d="M656.7 863.1l8.9 6 18.4 4.5-8.9-6z"/>
<path class="c1" d="M638.3 857.5l9 6 18.3 5.6-8.9-6z"/>
<path class="c2" d="M619.9 850.9l9 5.9 18.4 6.7-9-6z"/>
<path class="c3" d="M601.5 843.2l9 5.9 18.4 7.7-9-5.9z"/>
<path class="c4" d="M583.1 834.4l9 5.9 18.4 8.8-9-5.9z"/>
<path class="c5" d="M564.7 824.5l9 6 18.4 9.8-9-5.9z"/>
<path class="c6" d="M546.3 813.6l9 6 18.4 10.9-9-6z"/>
<path class="c8" d="M527.9 801.6l9 6 18.4 12-9-6z"/>
<path class="c9" d="M509.5 788.6l9 5.9 18.4 13.1-9-6z"/>
<path class="c11" d="M491.1 774.4l9 6 18.4 14.1-9-5.9z"/>
<path class="c12" d="M472.8 759.3l8.9 5.9 18.4 15.2-9-6z"/>
<path class="c14" d="M454.4 743l8.9 6 18.4 16.2-8.9-5.9z"/>
<path class="c16" d="M436 725.7l8.9 5.9 18.4 17.4-8.9-6z"/>
<path class="c18" d="M417.6 707.3l8.9 6 18.4 18.3-8.9-5.9z"/>
<path class="c20" d="M399.2 687.9l9 5.9 18.3 19.5-8.9-6z"/>
<path class="c22" d="M380.8 667.3l9 6 18.4 20.5-9-5.9z"/>
<path class="c25" d="M362.4 645.8l9 5.9 18.4 21.6-9-6z"/>
<path class="c27" d="M344 623.1l9 6 18.4 22.6-9-5.9z"/>
<path class="c30" d="M325.6 599.4l9 6 18.4 23.7-9-6z"/>
<path class="c30" d="M1217.4 540.9l9 4.9 18.4-27.4-9-4.9z"/>
<path class="c27" d="M1199 567.3l9 4.9 18.4-26.4-9-4.9z"/>
<path class="c25" d="M1180.6 592.7l9 4.8 18.4-25.3-9-4.9z"/>
<path class="c22" d="M1162.2 616.9l9 4.9 18.4-24.3-9-4.8z"/>
<path class="c20" d="M1143.8 640.1l9 4.9 18.4-23.2-9-4.9z"/>
<path class="c18" d="M1125.4 662.3l9 4.8 18.4-22.1-9-4.9z"/>
<path class="c16" d="M1107 683.3l9 4.9 18.4-21.1-9-4.8z"/>
<path class="c14" d="M1088.7 703.3l8.9 4.9 18.4-20-9-4.9z"/>
<path class="c12" d="M1070.3 722.3l8.9 4.9 18.4-19-8.9-4.9z"/>
<path class="c11" d="M1051.9 740.1l8.9 4.9 18.4-17.8-8.9-4.9z"/>
<path class="c9" d="M1033.5 756.9l9 4.9 18.3-16.8-8.9-4.9z"/>
<path class="c7" d="M1015.1 772.7l9 4.9 18.4-15.8-9-4.9z"/>
<path class="c6" d="M996.7 787.3l9 4.9 18.4-14.6-9-4.9z"/>
<path class="c5" d="M978.3 800.9l9 4.9 18.4-13.6-9-4.9z"/>
<path class="c4" d="M959.9 813.5l9 4.9 18.4-12.6-9-4.9z"/>
<path class="c3" d="M941.5 824.9l9 4.9 18.4-11.4-9-4.9z"/>
<path class="c2" d="M923.1 835.4l9 4.8 18.4-10.4-9-4.9z"/>
<path class="c1" d="M904.7 844.7l9 4.9 18.4-9.4-9-4.8z"/>
<path class="c0" d="M886.3 853l9 4.9 18.4-8.3-9-4.9z"/>
<path class="c0" d="M868 860.2l8.9 4.9 18.4-7.2-9-4.9z"/>
<path class="c0" d="M849.6 866.3l8.9 4.9 18.4-6.1-8.9-4.9z"/>
<path class="c0" d="M831.2 871.4l8.9 4.9 18.4-5.1-8.9-4.9z"/>
<path class="c0" d="M812.8 875.4l9 4.9 18.3-4-8.9-4.9z"/>
<path class="c0" d="M794.4 878.3l9 4.9 18.4-2.9-9-4.9z"/>
<path class="c0" d="M776 880.2l9 4.9 18.4-1.9-9-4.9z"/>
<path class="c0" d="M757.6 881l9 4.9 18.4-0.8-9-4.9z"/>
<path class="c0" d="M739.2 880.8l9 4.9 18.4 0.2-9-4.9z"/>
<path class="c0" d="M720.8 879.4l9 4.9 18.4 1.4-9-4.9z"/>
<path class="c0" d="M702.4 877.1l9 4.8 18.4 2.4-9-4.9z"/>
<path class="c0" d="M684 873.6l9 4.9 18.4 3.4-9-4.8z"/>
<path class="c0" d="M665.6 869.1l9 4.9 18.4 4.5-9-4.9z"/>
<path class="c1" d="M647.3 863.5l8.9 4.9 18.4 5.6-9-4.9z"/>
<path class="c2" d="M628.9 856.8l8.9 4.9 18.4 6.7-8.9-4.9z"/>
<path class="c3" d="M610.5 849.1l8.9 4.9 18.4 7.7-8.9-4.9z"/>
<path class="c4" d="M592.1 840.3l8.9 4.9 18.4 8.8-8.9-4.9z"/>
<path class="c5" d="M573.7 830.5l9 4.9 18.3 9.8-8.9-4.9z"/>
<path class="c6" d="M555.3 819.6l9 4.8 18.4 11-9-4.9z"/>
<path class="c7" d="M536.9 807.6l9 4.9 18.4 11.9-9-4.8z"/>
<path class="c9" d="M518.5 794.5l9 4.9 18.4 13.1-9-4.9z"/>
<path class="c11" d="M500.1 780.4l9 4.9 18.4 14.1-9-4.9z"/>
<path class="c12" d="M481.7 765.2l9 4.9 18.4 15.2-9-4.9z"/>
<path class="c14" d="M463.3 749l9 4.9 18.4 16.2-9-4.9z"/>
<path class="c16" d="M444.9 731.6l9 4.9 18.4 17.4-9-4.9z"/>
<path class="c18" d="M426.5 713.3l9 4.9 18.4 18.3-9-4.9z"/>
<path class="c20" d="M408.2 693.8l8.9 4.9 18.4 19.5-9-4.9z"/>
<path class="c22" d="M389.8 673.3l8.9 4.9 18.4 20.5-8.9-4.9z"/>
<path class="c25" d="M371.4 651.7l8.9 4.9 18.4 21.6-8.9-4.9z"/>
<path class="c27" d="M353 629.1l9 4.9 18.3 22.6-8.9-4.9z"/>
<path class="c30" d="M334.6 605.4l9 4.9 18.4 23.7-9-4.9z"/>
<path class="c30" d="M1226.4 545.8l8.9 3.8 18.4-27.4-8.9-3.8z"/>
<path class="c27" d="M1208 572.2l9 3.8 18.3-26.4-8.9-3.8z"/>
<path class="c25" d="M1189.6 597.5l9 3.9 18.4-25.4-9-3.8z"/>
<path class="c22" d="M1171.2 621.8l9 3.8 18.4-24.2-9-3.9z"/>
<path class="c20" d="M1152.8 645l9 3.8 18.4-23.2-9-3.8z"/>
<path class="c18" d="M1134.4 667.1l9 3.9 18.4-22.2-9-3.8z"/>
<path class="c16" d="M1116 688.2l9 3.8 18.4-21-9-3.9z"/>
<path class="c14" d="M1097.6 708.2l9 3.8 18.4-20-9-3.8z"/>
<path class="c12" d="M1079.2 727.2l9 3.8 18.4-19-9-3.8z"/>
<path class="c10" d="M1060.8 745l9 3.8 18.4-17.8-9-3.8z"/>
<path class="c9" d="M1042.5 761.8l8.9 3.9 18.4-16.9-9-3.8z"/>
<path class="c7" d="M1024.1 777.6l8.9 3.8 18.4-15.7-8.9-3.9z"/>
<path class="c6" d="M1005.7 792.2l8.9 3.9 18.4-14.7-8.9-3.8z"/>
<path class="c5" d="M987.3 805.8l9 3.9 18.3-13.6-8.9-3.9z"/>
<path class="c4" d="M968.9 818.4l9 3.8 18.4-12.5-9-3.9z"/>
<path class="c3" d="M950.5 829.8l9 3.9 18.4-11.5-9-3.8z"/>
<path class="c2" d="M932.1 840.2l9 3.9 18.4-10.4-9-3.9z"/>
<path class="c1" d="M913.7 849.6l9 3.8 18.4-9.3-9-3.9z"/>
<path class="c0" d="M895.3 857.9l9 3.8 18.4-8.3-9-3.8z"/>
<path class="c0" d="M876.9 865.1l9 3.8 18.4-7.2-9-3.8z"/>
<path class="c0" d="M858.5 871.2l9 3.8 18.4-6.1-9-3.8z"/>
<path class="c0" d="M840.1 876.3l9 3.8 18.4-5.1-9-3.8z"/>
<path class="c0" d="M821.8 880.3l8.9 3.8 18.4-4-9-3.8z"/>
<path class="c0" d="M803.4 883.2l8.9 3.9 18.4-3-8.9-3.8z"/>
<path class="c0" d="M785 885.1l8.9 3.8 18.4-1.8-8.9-3.9z"/>
<path class="c0" d="M766.6 885.9l8.9 3.8 18.4-0.8-8.9-3.8z"/>
<path class="c0" d="M748.2 885.7l9 3.8 18.3 0.2-8.9-3.8z"/>
<path class="c0" d="M729.8 884.3l9 3.9 18.4 1.3-9-3.8z"/>
<path class="c0" d="M711.4 881.9l9 3.9 18.4 2.4-9-3.9z"/>
<path class="c0" d="M693 878.5l9 3.8 18.4 3.5-9-3.9z"/>
<path class="c0" d="M674.6 874l9 3.8 18.4 4.5-9-3.8z"/>
<path class="c1" d="M656.2 868.4l9 3.8 18.4 5.6-9-3.8z"/>
<path class="c2" d="M637.8 861.7l9 3.9 18.4 6.6-9-3.8z"/>
<path class="c3" d="M619.4 854l9 3.8 18.4 7.8-9-3.9z"/>
<path class="c4" d="M601 845.2l9 3.8 18.4 8.8-9-3.8z"/>
<path class="c5" d="M582.7 835.4l8.9 3.8 18.4 9.8-9-3.8z"/>
<path class="c6" d="M564.3 824.4l8.9 3.9 18.4 10.9-8.9-3.8z"/>
<path class="c7" d="M545.9 812.5l8.9 3.8 18.4 12-8.9-3.9z"/>
<path class="c9" d="M527.5 799.4l9 3.8 18.3 13.1-8.9-3.8z"/>
<path class="c10" d="M509.1 785.3l9 3.8 18.4 14.1-9-3.8z"/>
<path class="c12" d="M490.7 770.1l9 3.8 18.4 15.2-9-3.8z"/>
<path class="c14" d="M472.3 753.9l9 3.8 18.4 16.2-9-3.8z"/>
<path class="c16" d="M453.9 736.5l9 3.9 18.4 17.3-9-3.8z"/>
<path class="c18" d="M435.5 718.2l9 3.8 18.4 18.4-9-3.9z"/>
<path class="c20" d="M417.1 698.7l9 3.8 18.4 19.5-9-3.8z"/>
<path class="c22" d="M398.7 678.2l9 3.8 18.4 20.5-9-3.8z"/>
<path class="c25" d="M380.3 656.6l9 3.8 18.4 21.6-9-3.8z"/>
<path class="c27" d="M362 634l8.9 3.8 18.4 22.6-9-3.8z"/>
<path class="c30" d="M343.6 610.3l8.9 3.8 18.4 23.7-8.9-3.8z"/>
<path class="c30" d="M1235.3 549.6l9 2.8 18.4-27.5-9-2.7z"/>
<path class="c27" d="M1217 576l8.9 2.8 18.4-26.4-9-2.8z"/>
<path class="c25" d="M1198.6 601.4l8.9 2.7 18.4-25.3-8.9-2.8z"/>
<path class="c22" d="M1180.2 625.6l8.9 2.8 18.4-24.3-8.9-2.7z"/>
<path class="c20" d="M1161.8 648.8l9 2.8 18.3-23.2-8.9-2.8z"/>
<path class="c18" d="M1143.4 671l9 2.7 18.4-22.1-9-2.8z"/>
<path class="c16" d="M1125 692l9 2.8 18.4-21.1-9-2.7z"/>
<path class="c14" d="M1106.6 712l9 2.8 18.4-20-9-2.8z"/>
<path class="c12" d="M1088.2 731l9 2.7 18.4-18.9-9-2.8z"/>
<path class="c11" d="M1069.8 748.8l9 2.8 18.4-17.9-9-2.7z"/>
<path class="c9" d="M1051.4 765.7l9 2.7 18.4-16.8-9-2.8z"/>
<path class="c7" d="M1033 781.4l9 2.8 18.4-15.8-9-2.7z"/>
<path class="c6" d="M1014.6 796.1l9 2.7 18.4-14.6-9-2.8z"/>
<path class="c5" d="M996.3 809.7l8.9 2.7 18.4-13.6-9-2.7z"/>
<path class="c4" d="M977.9 822.2l8.9 2.8 18.4-12.6-8.9-2.7z"/>
<path class="c3" d="M959.5 833.7l8.9 2.7 18.4-11.4-8.9-2.8z"/>
<path class="c2" d="M941.1 844.1l8.9 2.7 18.4-10.4-8.9-2.7z"/>
<path class="c1" d="M922.7 853.4l9 2.8 18.3-9.4-8.9-2.7z"/>
<path class="c0" d="M904.3 861.7l9 2.8 18.4-8.3-9-2.8z"/>
<path class="c0" d="M885.9 868.9l9 2.8 18.4-7.2-9-2.8z"/>
<path class="c0" d="M867.5 875l9 2.8 18.4-6.1-9-2.8z"/>
<path class="c0" d="M849.1 880.1l9 2.8 18.4-5.1-9-2.8z"/>
<path class="c0" d="M830.7 884.1l9 2.8 18.4-4-9-2.8z"/>
<path class="c0" d="M812.3 887.1l9 2.7 18.4-2.9-9-2.8z"/>
<path class="c0" d="M793.9 888.9l9 2.8 18.4-1.9-9-2.7z"/>
<path class="c0" d="M775.5 889.7l9 2.8 18.4-0.8-9-2.8z"/>
<path class="c0" d="M757.2 889.5l8.9 2.8 18.4 0.2-9-2.8z"/>
<path class="c0" d="M738.8 888.2l8.9 2.7 18.4 1.4-8.9-2.8z"/>
<path class="c0" d="M720.4 885.8l8.9 2.7 18.4 2.4-8.9-2.7z"/>
<path class="c0" d="M702 882.3l9 2.8 18.3 3.4-8.9-2.7z"/>
<path class="c0" d="M683.6 877.8l9 2.8 18.4 4.5-9-2.8z"/>
<path class="c1" d="M665.2 872.2l9 2.8 18.4 5.6-9-2.8z"/>
<path class="c2" d="M646.8 865.6l9 2.7 18.4 6.7-9-2.8z"/>
<path class="c3" d="M628.4 857.8l9 2.8 18.4 7.7-9-2.7z"/>
<path class="c4" d="M610 849l9 2.8 18.4 8.8-9-2.8z"/>
<path class="c5" d="M591.6 839.2l9 2.8 18.4 9.8-9-2.8z"/>
<path class="c6" d="M573.2 828.3l9 2.7 18.4 11-9-2.8z"/>
<path class="c7" d="M554.8 816.3l9 2.8 18.4 11.9-9-2.7z"/>
<path class="c9" d="M536.5 803.2l8.9 2.8 18.4 13.1-9-2.8z"/>
<path class="c11" d="M518.1 789.1l8.9 2.8 18.4 14.1-8.9-2.8z"/>
<path class="c12" d="M499.7 773.9l8.9 2.8 18.4 15.2-8.9-2.8z"/>
<path class="c14" d="M481.3 757.7l9 2.7 18.3 16.3-8.9-2.8z"/>
<path class="c16" d="M462.9 740.4l9 2.7 18.4 17.3-9-2.7z"/>
<path class="c18" d="M444.5 722l9 2.8 18.4 18.3-9-2.7z"/>
<path class="c20" d="M426.1 702.5l9 2.8 18.4 19.5-9-2.8z"/>
<path class="c22" d="M407.7 682l9 2.8 18.4 20.5-9-2.8z"/>
<path class="c25" d="M389.3 660.4l9 2.8 18.4 21.6-9-2.8z"/>
<path class="c27" d="M370.9 637.8l9 2.8 18.4 22.6-9-2.8z"/>
<path class="c30" d="M352.5 614.1l9 2.7 18.4 23.8-9-2.8z"/>
<path class="c30" d="M1244.3 552.4l9 1.7 18.4-27.5-9-1.7z"/>
<path class="c27" d="M1225.9 578.8l9 1.7 18.4-26.4-9-1.7z"/>
<path class="c25" d="M1207.5 604.1l9 1.7 18.4-25.3-9-1.7z"/>
<path class="c22" d="M1189.1 628.4l9 1.7 18.4-24.3-9-1.7z"/>
<path class="c20" d="M1170.8 651.6l8.9 1.7 18.4-23.2-9-1.7z"/>
<path class="c18" d="M1152.4 673.7l8.9 1.7 18.4-22.1-8.9-1.7z"/>
<path class="c16" d="M1134 694.8l8.9 1.7 18.4-21.1-8.9-1.7z"/>
<path class="c14" d="M1115.6 714.8l8.9 1.7 18.4-20-8.9-1.7z"/>
<path class="c12" d="M1097.2 733.7l9 1.7 18.3-18.9-8.9-1.7z"/>
<path class="c11" d="M1078.8 751.6l9 1.7 18.4-17.9-9-1.7z"/>
<path class="c9" d="M1060.4 768.4l9 1.7 18.4-16.8-9-1.7z"/>
<path class="c8" d="M1042 784.2l9 1.6 18.4-15.7-9-1.7z"/>
<path class="c6" d="M1023.6 798.8l9 1.7 18.4-14.7-9-1.6z"/>
<path class="c5" d="M1005.2 812.4l9 1.7 18.4-13.6-9-1.7z"/>
<path class="c4" d="M986.8 825l9 1.7 18.4-12.6-9-1.7z"/>
<path class="c3" d="M968.4 836.4l9 1.7 18.4-11.4-9-1.7z"/>
<path class="c2" d="M950 846.8l9 1.7 18.4-10.4-9-1.7z"/>
<path class="c1" d="M931.7 856.2l8.9 1.7 18.4-9.4-9-1.7z"/>
<path class="c0" d="M913.3 864.5l8.9 1.6 18.4-8.2-8.9-1.7z"/>
<path class="c0" d="M894.9 871.7l8.9 1.7 18.4-7.3-8.9-1.6z"/>
<path class="c0" d="M876.5 877.8l9 1.7 18.3-6.1-8.9-1.7z"/>
<path class="c0" d="M858.1 882.9l9 1.7 18.4-5.1-9-1.7z"/>
<path class="c0" d="M839.7 886.9l9 1.7 18.4-4-9-1.7z"/>
<path class="c0" d="M821.3 889.8l9 1.7 18.4-2.9-9-1.7z"/>
<path class="c0" d="M802.9 891.7l9 1.7 18.4-1.9-9-1.7z"/>
<path class="c0" d="M784.5 892.5l9 1.7 18.4-0.8-9-1.7z"/>
<path class="c0" d="M766.1 892.3l9 1.6 18.4 0.3-9-1.7z"/>
<path class="c0" d="M747.7 890.9l9 1.7 18.4 1.3-9-1.6z"/>
<path class="c0" d="M729.3 888.5l9 1.7 18.4 2.4-9-1.7z"/>
<path class="c0" d="M711 885.1l8.9 1.7 18.4 3.4-9-1.7z"/>
<path class="c0" d="M692.6 880.6l8.9 1.7 18.4 4.5-8.9-1.7z"/>
<path class="c1" d="M674.2 875l8.9 1.7 18.4 5.6-8.9-1.7z"/>
<path class="c2" d="M655.8 868.3l9 1.7 18.3 6.7-8.9-1.7z"/>
<path class="c3" d="M637.4 860.6l9 1.7 18.4 7.7-9-1.7z"/>
<path class="c4" d="M619 851.8l9 1.7 18.4 8.8-9-1.7z"/>
<path class="c5" d="M600.6 842l9 1.7 18.4 9.8-9-1.7z"/>
<path class="c6" d="M582.2 831l9 1.7 18.4 11-9-1.7z"/>
<path class="c8" d="M563.8 819.1l9 1.6 18.4 12-9-1.7z"/>
<path class="c9" d="M545.4 806l9 1.7 18.4 13-9-1.6z"/>
<path class="c11" d="M527 791.9l9 1.7 18.4 14.1-9-1.7z"/>
<path class="c12" d="M508.6 776.7l9 1.7 18.4 15.2-9-1.7z"/>
<path class="c14" d="M490.3 760.4l8.9 1.7 18.4 16.3-9-1.7z"/>
<path class="c16" d="M471.9 743.1l8.9 1.7 18.4 17.3-8.9-1.7z"/>
<path class="c18" d="M453.5 724.8l8.9 1.6 18.4 18.4-8.9-1.7z"/>
<path class="c20" d="M435.1 705.3l9 1.7 18.3 19.4-8.9-1.6z"/>
<path class="c22" d="M416.7 684.8l9 1.7 18.4 20.5-9-1.7z"/>
<path class="c25" d="M398.3 663.2l9 1.7 18.4 21.6-9-1.7z"/>
<path class="c27" d="M379.9 640.6l9 1.7 18.4 22.6-9-1.7z"/>
<path class="c30" d="M361.5 616.8l9 1.7 18.4 23.8-9-1.7z"/>
<path class="c30" d="M1253.3 554.1l9 0.6 18.4-27.4-9-0.7z"/>
<path class="c28" d="M1234.9 580.5l9 0.6 18.4-26.4-9-0.6z"/>
<path class="c25" d="M1216.5 605.8l9 0.7 18.4-25.4-9-0.6z"/>
<path class="c23" d="M1198.1 630.1l9 0.6 18.4-24.2-9-0.7z"/>
<path class="c20" d="M1179.7 653.3l9 0.6 18.4-23.2-9-0.6z"/>
<path class="c18" d="M1161.3 675.4l9 0.7 18.4-22.2-9-0.6z"/>
<path class="c16" d="M1142.9 696.5l9 0.6 18.4-21-9-0.7z"/>
<path class="c14" d="M1124.5 716.5l9 0.6 18.4-20-9-0.6z"/>
<path class="c13" d="M1106.2 735.4l8.9 0.7 18.4-19-9-0.6z"/>
<path class="c11" d="M1087.8 753.3l8.9 0.6 18.4-17.8-8.9-0.7z"/>
<path class="c9" d="M1069.4 770.1l8.9 0.6 18.4-16.8-8.9-0.6z"/>
<path class="c8" d="M1051 785.8l9 0.7 18.3-15.8-8.9-0.6z"/>
<path class="c7" d="M1032.6 800.5l9 0.6 18.4-14.6-9-0.7z"/>
<path class="c5" d="M1014.2 814.1l9 0.7 18.4-13.7-9-0.6z"/>
<path class="c4" d="M995.8 826.7l9 0.6 18.4-12.5-9-0.7z"/>
<path class="c3" d="M977.4 838.1l9 0.7 18.4-11.5-9-0.6z"/>
<path class="c2" d="M959 848.5l9 0.7 18.4-10.4-9-0.7z"/>
<path class="c1" d="M940.6 857.9l9 0.6 18.4-9.3-9-0.7z"/>
<path class="c1" d="M922.2 866.1l9 0.7 18.4-8.3-9-0.6z"/>
<path class="c0" d="M903.8 873.4l9 0.6 18.4-7.2-9-0.7z"/>
<path class="c0" d="M885.5 879.5l8.9 0.6 18.4-6.1-9-0.6z"/>
<path class="c0" d="M867.1 884.6l8.9 0.6 18.4-5.1-8.9-0.6z"/>
<path class="c0" d="M848.7 888.6l8.9 0.6 18.4-4-8.9-0.6z"/>
<path class="c0" d="M830.3 891.5l9 0.6 18.3-2.9-8.9-0.6z"/>
<path class="c0" d="M811.9 893.4l9 0.6 18.4-1.9-9-0.6z"/>
<path class="c0" d="M793.5 894.2l9 0.6 18.4-0.8-9-0.6z"/>
<path class="c0" d="M775.1 893.9l9 0.7 18.4 0.2-9-0.6z"/>
<path class="c0" d="M756.7 892.6l9 0.7 18.4 1.3-9-0.7z"/>
<path class="c0" d="M738.3 890.2l9 0.7 18.4 2.4-9-0.7z"/>
<path class="c0" d="M719.9 886.8l9 0.6 18.4 3.5-9-0.7z"/>
<path class="c1" d="M701.5 882.3l9 0.6 18.4 4.5-9-0.6z"/>
<path class="c1" d="M683.1 876.7l9 0.6 18.4 5.6-9-0.6z"/>
<path class="c2" d="M664.8 870l8.9 0.6 18.4 6.7-9-0.6z"/>
<path class="c3" d="M646.4 862.3l8.9 0.6 18.4 7.7-8.9-0.6z"/>
<path class="c4" d="M628 853.5l8.9 0.6 18.4 8.8-8.9-0.6z"/>
<path class="c5" d="M609.6 843.7l9 0.6 18.3 9.8-8.9-0.6z"/>
<path class="c7" d="M591.2 832.7l9 0.7 18.4 10.9-9-0.6z"/>
<path class="c8" d="M572.8 820.7l9 0.7 18.4 12-9-0.7z"/>
<path class="c9" d="M554.4 807.7l9 0.6 18.4 13.1-9-0.7z"/>
<path class="c11" d="M536 793.6l9 0.6 18.4 14.1-9-0.6z"/>
<path class="c13" d="M517.6 778.4l9 0.6 18.4 15.2-9-0.6z"/>
<path class="c14" d="M499.2 762.1l9 0.7 18.4 16.2-9-0.6z"/>
<path class="c16" d="M480.8 744.8l9 0.7 18.4 17.3-9-0.7z"/>
<path class="c18" d="M462.4 726.4l9 0.7 18.4 18.4-9-0.7z"/>
<path class="c20" d="M444.1 707l8.9 0.6 18.4 19.5-9-0.7z"/>
<path class="c23" d="M425.7 686.5l8.9 0.6 18.4 20.5-8.9-0.6z"/>
<path class="c25" d="M407.3 664.9l8.9 0.6 18.4 21.6-8.9-0.6z"/>
<path class="c28" d="M388.9 642.3l8.9 0.6 18.4 22.6-8.9-0.6z"/>
<path class="c30" d="M370.5 618.5l9 0.7 18.3 23.7-8.9-0.6z"/>
<path class="c30" d="M1262.3 554.7l8.9-0.4 18.4-27.5-8.9 0.5z"/>
<path class="c28" d="M1243.9 581.1l8.9-0.4 18.4-26.4-8.9 0.4z"/>
<path class="c25" d="M1225.5 606.5l9-0.5 18.3-25.3-8.9 0.4z"/>
<path class="c23" d="M1207.1 630.7l9-0.4 18.4-24.3-9 0.5z"/>
<path class="c21" d="M1188.7 653.9l9-0.4 18.4-23.2-9 0.4z"/>
<path class="c19" d="M1170.3 676.1l9-0.5 18.4-22.1-9 0.4z"/>
<path class="c17" d="M1151.9 697.1l9-0.4 18.4-21.1-9 0.5z"/>
<path class="c15" d="M1133.5 717.1l9-0.4 18.4-20-9 0.4z"/>
<path class="c13" d="M1115.1 736.1l9-0.5 18.4-18.9-9 0.4z"/>
<path class="c11" d="M1096.7 753.9l9-0.4 18.4-17.9-9 0.5z"/>
<path class="c10" d="M1078.3 770.7l9-0.4 18.4-16.8-9 0.4z"/>
<path class="c8" d="M1060 786.5l8.9-0.5 18.4-15.7-9 0.4z"/>
<path class="c7" d="M1041.6 801.1l8.9-0.4 18.4-14.7-8.9 0.5z"/>
<path class="c6" d="M1023.2 814.8l8.9-0.5 18.4-13.6-8.9 0.4z"/>
<path class="c5" d="M1004.8 827.3l9-0.4 18.3-12.6-8.9 0.5z"/>
<path class="c4" d="M986.4 838.8l9-0.5 18.4-11.4-9 0.4z"/>
<path class="c3" d="M968 849.2l9-0.5 18.4-10.4-9 0.5z"/>
<path class="c2" d="M949.6 858.5l9-0.4 18.4-9.4-9 0.5z"/>
<path class="c1" d="M931.2 866.8l9-0.5 18.4-8.2-9 0.4z"/>
<path class="c0" d="M912.8 874l9-0.5 18.4-7.2-9 0.5z"/>
<path class="c0" d="M894.4 880.1l9-0.4 18.4-6.2-9 0.5z"/>
<path class="c0" d="M876 885.2l9-0.4 18.4-5.1-9 0.4z"/>
<path class="c0" d="M857.6 889.2l9-0.4 18.4-4-9 0.4z"/>
<path class="c0" d="M839.3 892.1l8.9-0.4 18.4-2.9-9 0.4z"/>
<path class="c0" d="M820.9 894l8.9-0.4 18.4-1.9-8.9 0.4z"/>
<path class="c0" d="M802.5 894.8l8.9-0.4 18.4-0.8-8.9 0.4z"/>
<path class="c0" d="M784.1 894.6l9-0.5 18.3 0.3-8.9 0.4z"/>
<path class="c0" d="M765.7 893.3l9-0.5 18.4 1.3-9 0.5z"/>
<path class="c0" d="M747.3 890.9l9-0.5 18.4 2.4-9 0.5z"/>
<path class="c0" d="M728.9 887.4l9-0.4 18.4 3.4-9 0.5z"/>
<path class="c1" d="M710.5 882.9l9-0.5 18.4 4.6-9 0.4z"/>
<path class="c2" d="M692.1 877.3l9-0.4 18.4 5.5-9 0.5z"/>
<path class="c3" d="M673.7 870.6l9-0.4 18.4 6.7-9 0.4z"/>
<path class="c4" d="M655.3 862.9l9-0.4 18.4 7.7-9 0.4z"/>
<path class="c5" d="M636.9 854.1l9-0.4 18.4 8.8-9 0.4z"/>
<path class="c6" d="M618.6 844.3l8.9-0.5 18.4 9.9-9 0.4z"/>
<path class="c7" d="M600.2 833.4l8.9-0.5 18.4 10.9-8.9 0.5z"/>
<path class="c8" d="M581.8 821.4l8.9-0.5 18.4 12-8.9 0.5z"/>
<path class="c10" d="M563.4 808.3l8.9-0.4 18.4 13-8.9 0.5z"/>
<path class="c11" d="M545 794.2l9-0.4 18.3 14.1-8.9 0.4z"/>
<path class="c13" d="M526.6 779l9-0.4 18.4 15.2-9 0.4z"/>
<path class="c15" d="M508.2 762.8l9-0.5 18.4 16.3-9 0.4z"/>
<path class="c17" d="M489.8 745.5l9-0.5 18.4 17.3-9 0.5z"/>
<path class="c19" d="M471.4 727.1l9-0.5 18.4 18.4-9 0.5z"/>
<path class="c21" d="M453 707.6l9-0.4 18.4 19.4-9 0.5z"/>
<path class="c23" d="M434.6 687.1l9-0.4 18.4 20.5-9 0.4z"/>
<path class="c25" d="M416.2 665.5l9-0.4 18.4 21.6-9 0.4z"/>
<path class="c28" d="M397.8 642.9l9-0.5 18.4 22.7-9 0.4z"/>
<path class="c30" d="M379.5 619.2l8.9-0.5 18.4 23.7-9 0.5z"/>
<path class="c31" d="M1271.2 554.3l9-1.5 18.4-27.5-9 1.5z"/>
<path class="c28" d="M1252.8 580.7l9-1.5 18.4-26.4-9 1.5z"/>
<path class="c26" d="M1234.5 606l8.9-1.5 18.4-25.3-9 1.5z"/>
<path class="c24" d="M1216.1 630.3l8.9-1.5 18.4-24.3-8.9 1.5z"/>
<path class="c21" d="M1197.7 653.5l8.9-1.5 18.4-23.2-8.9 1.5z"/>
<path class="c19" d="M1179.3 675.6l9-1.5 18.3-22.1-8.9 1.5z"/>
<path class="c17" d="M1160.9 696.7l9-1.5 18.4-21.1-9 1.5z"/>
<path class="c15" d="M1142.5 716.7l9-1.5 18.4-20-9 1.5z"/>
<path class="c14" d="M1124.1 735.6l9-1.5 18.4-18.9-9 1.5z"/>
<path class="c12" d="M1105.7 753.5l9-1.5 18.4-17.9-9 1.5z"/>
<path class="c10" d="M1087.3 770.3l9-1.5 18.4-16.8-9 1.5z"/>
<path class="c9" d="M1068.9 786l9-1.5 18.4-15.7-9 1.5z"/>
<path class="c7" d="M1050.5 800.7l9-1.5 18.4-14.7-9 1.5z"/>
<path class="c6" d="M1032.1 814.3l9-1.5 18.4-13.6-9 1.5z"/>
<path class="c5" d="M1013.8 826.9l8.9-1.6 18.4-12.5-9 1.5z"/>
<path class="c4" d="M995.4 838.3l8.9-1.5 18.4-11.5-8.9 1.6z"/>
<path class="c3" d="M977 848.7l8.9-1.5 18.4-10.4-8.9 1.5z"/>
<path class="c2" d="M958.6 858.1l9-1.5 18.3-9.4-8.9 1.5z"/>
<path class="c2" d="M940.2 866.3l9-1.5 18.4-8.2-9 1.5z"/>
<path class="c1" d="M921.8 873.5l9-1.5 18.4-7.2-9 1.5z"/>
<path class="c0" d="M903.4 879.7l9-1.5 18.4-6.2-9 1.5z"/>
<path class="c0" d="M885 884.8l9-1.5 18.4-5.1-9 1.5z"/>
<path class="c0" d="M866.6 888.8l9-1.5 18.4-4-9 1.5z"/>
<path class="c0" d="M848.2 891.7l9-1.5 18.4-2.9-9 1.5z"/>
<path class="c0" d="M829.8 893.6l9-1.5 18.4-1.9-9 1.5z"/>
<path class="c0" d="M811.4 894.4l9-1.5 18.4-0.8-9 1.5z"/>
<path class="c0" d="M793.1 894.1l8.9-1.5 18.4 0.3-9 1.5z"/>
<path class="c0" d="M774.7 892.8l8.9-1.5 18.4 1.3-8.9 1.5z"/>
<path class="c0" d="M756.3 890.4l8.9-1.5 18.4 2.4-8.9 1.5z"/>
<path class="c1" d="M737.9 887l8.9-1.5 18.4 3.4-8.9 1.5z"/>
<path class="c2" d="M719.5 882.4l9-1.5 18.3 4.6-8.9 1.5z"/>
<path class="c2" d="M701.1 876.9l9-1.5 18.4 5.5-9 1.5z"/>
<path class="c3" d="M682.7 870.2l9-1.5 18.4 6.7-9 1.5z"/>
<path class="c4" d="M664.3 862.5l9-1.5 18.4 7.7-9 1.5z"/>
<path class="c5" d="M645.9 853.7l9-1.5 18.4 8.8-9 1.5z"/>
<path class="c6" d="M627.5 843.8l9-1.5 18.4 9.9-9 1.5z"/>
<path class="c7" d="M609.1 832.9l9-1.5 18.4 10.9-9 1.5z"/>
<path class="c9" d="M590.7 820.9l9-1.5 18.4 12-9 1.5z"/>
<path class="c10" d="M572.3 807.9l9-1.5 18.4 13-9 1.5z"/>
<path class="c12" d="M554 793.8l8.9-1.5 18.4 14.1-9 1.5z"/>
<path class="c14" d="M535.6 778.6l8.9-1.5 18.4 15.2-8.9 1.5z"/>
<path class="c15" d="M517.2 762.3l8.9-1.5 18.4 16.3-8.9 1.5z"/>
<path class="c17" d="M498.8 745l9-1.5 18.3 17.3-8.9 1.5z"/>
<path class="c19" d="M480.4 726.6l9-1.5 18.4 18.4-9 1.5z"/>
<path class="c21" d="M462 707.2l9-1.5 18.4 19.4-9 1.5z"/>
<path class="c24" d="M443.6 686.7l9-1.5 18.4 20.5-9 1.5z"/>
<path class="c26" d="M425.2 665.1l9-1.5 18.4 21.6-9 1.5z"/>
<path class="c28" d="M406.8 642.4l9-1.5 18.4 22.7-9 1.5z"/>
<path class="c31" d="M388.4 618.7l9-1.5 18.4 23.7-9 1.5z"/>
<path class="c32" d="M1280.2 552.8l9-2.6 18.4-27.4-9 2.5z"/>
<path class="c29" d="M1261.8 579.2l9-2.6 18.4-26.4-9 2.6z"/>
<path class="c27" d="M1243.4 604.5l9-2.5 18.4-25.4-9 2.6z"/>
<path class="c24" d="M1225 628.8l9-2.6 18.4-24.2-9 2.5z"/>
<path class="c22" d="M1206.6 652l9-2.6 18.4-23.2-9 2.6z"/>
<path class="c20" d="M1188.3 674.1l8.9-2.5 18.4-22.2-9 2.6z"/>
<path class="c18" d="M1169.9 695.2l8.9-2.6 18.4-21-8.9 2.5z"/>
<path class="c16" d="M1151.5 715.2l8.9-2.6 18.4-20-8.9 2.6z"/>
<path class="c14" d="M1133.1 734.1l9-2.5 18.3-19-8.9 2.6z"/>
<path class="c12" d="M1114.7 752l9-2.6 18.4-17.8-9 2.5z"/>
<path class="c11" d="M1096.3 768.8l9-2.6 18.4-16.8-9 2.6z"/>
<path class="c9" d="M1077.9 784.5l9-2.5 18.4-15.8-9 2.6z"/>
<path class="c8" d="M1059.5 799.2l9-2.6 18.4-14.6-9 2.5z"/>
<path class="c7" d="M1041.1 812.8l9-2.6 18.4-13.6-9 2.6z"/>
<path class="c6" d="M1022.7 825.3l9-2.5 18.4-12.6-9 2.6z"/>
<path class="c5" d="M1004.3 836.8l9-2.5 18.4-11.5-9 2.5z"/>
<path class="c4" d="M985.9 847.2l9-2.5 18.4-10.4-9 2.5z"/>
<path class="c3" d="M967.6 856.6l8.9-2.6 18.4-9.3-9 2.5z"/>
<path class="c2" d="M949.2 864.8l8.9-2.5 18.4-8.3-8.9 2.6z"/>
<path class="c2" d="M930.8 872l8.9-2.5 18.4-7.2-8.9 2.5z"/>
<path class="c1" d="M912.4 878.2l8.9-2.6 18.4-6.1-8.9 2.5z"/>
<path class="c1" d="M894 883.3l9-2.6 18.3-5.1-8.9 2.6z"/>
<path class="c0" d="M875.6 887.3l9-2.6 18.4-4-9 2.6z"/>
<path class="c0" d="M857.2 890.2l9-2.6 18.4-2.9-9 2.6z"/>
<path class="c0" d="M838.8 892.1l9-2.6 18.4-1.9-9 2.6z"/>
<path class="c0" d="M820.4 892.9l9-2.6 18.4-0.8-9 2.6z"/>
<path class="c0" d="M802 892.6l9-2.5 18.4 0.2-9 2.6z"/>
<path class="c1" d="M783.6 891.3l9-2.6 18.4 1.4-9 2.5z"/>
<path class="c1" d="M765.2 888.9l9-2.5 18.4 2.3-9 2.6z"/>
<path class="c2" d="M746.8 885.5l9-2.6 18.4 3.5-9 2.5z"/>
<path class="c2" d="M728.5 880.9l8.9-2.5 18.4 4.5-9 2.6z"/>
<path class="c3" d="M710.1 875.4l8.9-2.6 18.4 5.6-8.9 2.5z"/>
<path class="c4" d="M691.7 868.7l8.9-2.6 18.4 6.7-8.9 2.6z"/>
<path class="c5" d="M673.3 861l9-2.6 18.3 7.7-8.9 2.6z"/>
<path class="c6" d="M654.9 852.2l9-2.6 18.4 8.8-9 2.6z"/>
<path class="c7" d="M636.5 842.3l9-2.5 18.4 9.8-9 2.6z"/>
<path class="c8" d="M618.1 831.4l9-2.5 18.4 10.9-9 2.5z"/>
<path class="c9" d="M599.7 819.4l9-2.5 18.4 12-9 2.5z"/>
<path class="c11" d="M581.3 806.4l9-2.6 18.4 13.1-9 2.5z"/>
<path class="c12" d="M562.9 792.3l9-2.6 18.4 14.1-9 2.6z"/>
<path class="c14" d="M544.5 777.1l9-2.6 18.4 15.2-9 2.6z"/>
<path class="c16" d="M526.1 760.8l9-2.5 18.4 16.2-9 2.6z"/>
<path class="c18" d="M507.8 743.5l8.9-2.5 18.4 17.3-9 2.5z"/>
<path class="c20" d="M489.4 725.1l8.9-2.5 18.4 18.4-8.9 2.5z"/>
<path class="c22" d="M471 705.7l8.9-2.6 18.4 19.5-8.9 2.5z"/>
<path class="c24" d="M452.6 685.2l9-2.6 18.3 20.5-8.9 2.6z"/>
<path class="c27" d="M434.2 663.6l9-2.6 18.4 21.6-9 2.6z"/>
<path class="c29" d="M415.8 640.9l9-2.5 18.4 22.6-9 2.6z"/>
<path class="c32" d="M397.4 617.2l9-2.5 18.4 23.7-9 2.5z"/>
<path class="c32" d="M1289.2 550.2l9-3.6 18.4-27.5-9 3.7z"/>
<path class="c30" d="M1270.8 576.6l9-3.6 18.4-26.4-9 3.6z"/>
<path class="c27" d="M1252.4 602l9-3.7 18.4-25.3-9 3.6z"/>
<path class="c25" d="M1234 626.2l9-3.6 18.4-24.3-9 3.7z"/>
<path class="c23" d="M1215.6 649.4l9-3.6 18.4-23.2-9 3.6z"/>
<path class="c21" d="M1197.2 671.6l9-3.7 18.4-22.1-9 3.6z"/>
<path class="c19" d="M1178.8 692.6l9-3.6 18.4-21.1-9 3.7z"/>
<path class="c17" d="M1160.4 712.6l9-3.6 18.4-20-9 3.6z"/>
<path class="c15" d="M1142.1 731.6l8.9-3.7 18.4-18.9-9 3.6z"/>
<path class="c13" d="M1123.7 749.4l8.9-3.6 18.4-17.9-8.9 3.7z"/>
<path class="c12" d="M1105.3 766.2l8.9-3.6 18.4-16.8-8.9 3.6z"/>
<path class="c10" d="M1086.9 782l8.9-3.7 18.4-15.7-8.9 3.6z"/>
<path class="c9" d="M1068.5 796.6l9-3.6 18.3-14.7-8.9 3.7z"/>
<path class="c7" d="M1050.1 810.2l9-3.6 18.4-13.6-9 3.6z"/>
<path class="c6" d="M1031.7 822.8l9-3.7 18.4-12.5-9 3.6z"/>
<path class="c5" d="M1013.3 834.3l9-3.7 18.4-11.5-9 3.7z"/>
<path class="c4" d="M994.9 844.7l9-3.7 18.4-10.4-9 3.7z"/>
<path class="c4" d="M976.5 854l9-3.6 18.4-9.4-9 3.7z"/>
<path class="c3" d="M958.1 862.3l9-3.7 18.4-8.2-9 3.6z"/>
<path class="c2" d="M939.7 869.5l9-3.7 18.4-7.2-9 3.7z"/>
<path class="c2" d="M921.3 875.6l9-3.6 18.4-6.2-9 3.7z"/>
<path class="c1" d="M903 880.7l8.9-3.6 18.4-5.1-9 3.6z"/>
<path class="c1" d="M884.6 884.7l8.9-3.6 18.4-4-8.9 3.6z"/>
<path class="c1" d="M866.2 887.6l8.9-3.6 18.4-2.9-8.9 3.6z"/>
<path class="c1" d="M847.8 889.5l9-3.6 18.3-1.9-8.9 3.6z"/>
<path class="c1" d="M829.4 890.3l9-3.6 18.4-0.8-9 3.6z"/>
<path class="c1" d="M811 890.1l9-3.7 18.4 0.3-9 3.6z"/>
<path class="c1" d="M792.6 888.7l9-3.6 18.4 1.3-9 3.7z"/>
<path class="c2" d="M774.2 886.4l9-3.7 18.4 2.4-9 3.6z"/>
<path class="c2" d="M755.8 882.9l9-3.6 18.4 3.4-9 3.7z"/>
<path class="c3" d="M737.4 878.4l9-3.7 18.4 4.6-9 3.6z"/>
<path class="c4" d="M719 872.8l9-3.6 18.4 5.5-9 3.7z"/>
<path class="c4" d="M700.6 866.1l9-3.6 18.4 6.7-9 3.6z"/>
<path class="c5" d="M682.3 858.4l8.9-3.6 18.4 7.7-9 3.6z"/>
<path class="c6" d="M663.9 849.6l8.9-3.6 18.4 8.8-8.9 3.6z"/>
<path class="c7" d="M645.5 839.8l8.9-3.7 18.4 9.9-8.9 3.6z"/>
<path class="c9" d="M627.1 828.9l9-3.7 18.3 10.9-8.9 3.7z"/>
<path class="c10" d="M608.7 816.9l9-3.7 18.4 12-9 3.7z"/>
<path class="c12" d="M590.3 803.8l9-3.6 18.4 13-9 3.7z"/>
<path class="c13" d="M571.9 789.7l9-3.6 18.4 14.1-9 3.6z"/>
<path class="c15" d="M553.5 774.5l9-3.6 18.4 15.2-9 3.6z"/>
<path class="c17" d="M535.1 758.3l9-3.7 18.4 16.3-9 3.6z"/>
<path class="c19" d="M516.7 741l9-3.7 18.4 17.3-9 3.7z"/>
<path class="c21" d="M498.3 722.6l9-3.7 18.4 18.4-9 3.7z"/>
<path class="c23" d="M479.9 703.1l9-3.6 18.4 19.4-9 3.7z"/>
<path class="c25" d="M461.6 682.6l8.9-3.6 18.4 20.5-9 3.6z"/>
<path class="c27" d="M443.2 661l8.9-3.6 18.4 21.6-8.9 3.6z"/>
<path class="c30" d="M424.8 638.4l8.9-3.7 18.4 22.7-8.9 3.6z"/>
<path class="c32" d="M406.4 614.7l9-3.7 18.3 23.7-8.9 3.7z"/>
<path class="c33" d="M1298.2 546.6l8.9-4.7 18.4-27.5-8.9 4.7z"/>
<path class="c30" d="M1279.8 573l8.9-4.7 18.4-26.4-8.9 4.7z"/>
<path class="c28" d="M1261.4 598.3l8.9-4.7 18.4-25.3-8.9 4.7z"/>
<path class="c26" d="M1243 622.6l9-4.7 18.3-24.3-8.9 4.7z"/>
<path class="c23" d="M1224.6 645.8l9-4.7 18.4-23.2-9 4.7z"/>
<path class="c21" d="M1206.2 667.9l9-4.7 18.4-22.1-9 4.7z"/>
<path class="c19" d="M1187.8 689l9-4.7 18.4-21.1-9 4.7z"/>
<path class="c17" d="M1169.4 709l9-4.7 18.4-20-9 4.7z"/>
<path class="c16" d="M1151 727.9l9-4.7 18.4-18.9-9 4.7z"/>
<path class="c14" d="M1132.6 745.8l9-4.7 18.4-17.9-9 4.7z"/>
<path class="c12" d="M1114.2 762.6l9-4.7 18.4-16.8-9 4.7z"/>
<path class="c11" d="M1095.8 778.3l9-4.7 18.4-15.7-9 4.7z"/>
<path class="c10" d="M1077.5 793l8.9-4.7 18.4-14.7-9 4.7z"/>
<path class="c8" d="M1059.1 806.6l8.9-4.7 18.4-13.6-8.9 4.7z"/>
<path class="c7" d="M1040.7 819.1l8.9-4.7 18.4-12.5-8.9 4.7z"/>
<path class="c6" d="M1022.3 830.6l9-4.7 18.3-11.5-8.9 4.7z"/>
<path class="c5" d="M1003.9 841l9-4.7 18.4-10.4-9 4.7z"/>
<path class="c4" d="M985.5 850.4l9-4.7 18.4-9.4-9 4.7z"/>
<path class="c4" d="M967.1 858.6l9-4.7 18.4-8.2-9 4.7z"/>
<path class="c3" d="M948.7 865.8l9-4.7 18.4-7.2-9 4.7z"/>
<path class="c3" d="M930.3 872l9-4.7 18.4-6.2-9 4.7z"/>
<path class="c2" d="M911.9 877.1l9-4.7 18.4-5.1-9 4.7z"/>
<path class="c2" d="M893.5 881.1l9-4.7 18.4-4-9 4.7z"/>
<path class="c2" d="M875.1 884l9-4.7 18.4-2.9-9 4.7z"/>
<path class="c2" d="M856.8 885.9l8.9-4.7 18.4-1.9-9 4.7z"/>
<path class="c2" d="M838.4 886.7l8.9-4.7 18.4-0.8-8.9 4.7z"/>
<path class="c2" d="M820 886.4l8.9-4.7 18.4 0.3-8.9 4.7z"/>
<path class="c2" d="M801.6 885.1l9-4.7 18.3 1.3-8.9 4.7z"/>
<path class="c3" d="M783.2 882.7l9-4.7 18.4 2.4-9 4.7z"/>
<path class="c3" d="M764.8 879.3l9-4.7 18.4 3.4-9 4.7z"/>
<path class="c4" d="M746.4 874.7l9-4.7 18.4 4.6-9 4.7z"/>
<path class="c4" d="M728 869.2l9-4.7 18.4 5.5-9 4.7z"/>
<path class="c5" d="M709.6 862.5l9-4.7 18.4 6.7-9 4.7z"/>
<path class="c6" d="M691.2 854.8l9-4.7 18.4 7.7-9 4.7z"/>
<path class="c7" d="M672.8 846l9-4.7 18.4 8.8-9 4.7z"/>
<path class="c8" d="M654.4 836.1l9-4.7 18.4 9.9-9 4.7z"/>
<path class="c10" d="M636.1 825.2l8.9-4.7 18.4 10.9-9 4.7z"/>
<path class="c11" d="M617.7 813.2l8.9-4.7 18.4 12-8.9 4.7z"/>
<path class="c12" d="M599.3 800.2l8.9-4.7 18.4 13-8.9 4.7z"/>
<path class="c14" d="M580.9 786.1l9-4.7 18.3 14.1-8.9 4.7z"/>
<path class="c16" d="M562.5 770.9l9-4.7 18.4 15.2-9 4.7z"/>
<path class="c17" d="M544.1 754.6l9-4.7 18.4 16.3-9 4.7z"/>
<path class="c19" d="M525.7 737.3l9-4.7 18.4 17.3-9 4.7z"/>
<path class="c21" d="M507.3 718.9l9-4.7 18.4 18.4-9 4.7z"/>
<path class="c23" d="M488.9 699.5l9-4.7 18.4 19.4-9 4.7z"/>
<path class="c26" d="M470.5 679l9-4.7 18.4 20.5-9 4.7z"/>
<path class="c28" d="M452.1 657.4l9-4.7 18.4 21.6-9 4.7z"/>
<path class="c30" d="M433.7 634.7l9-4.7 18.4 22.7-9 4.7z"/>
<path class="c33" d="M415.4 611l8.9-4.7 18.4 23.7-9 4.7z"/>
<path class="c34" d="M1307.1 541.9l9-5.8 18.4-27.4-9 5.7z"/>
<path class="c31" d="M1288.7 568.3l9-5.8 18.4-26.4-9 5.8z"/>
<path class="c29" d="M1270.3 593.6l9-5.7 18.4-25.4-9 5.8z"/>
<path class="c27" d="M1252 617.9l8.9-5.8 18.4-24.2-9 5.7z"/>
<path class="c24" d="M1233.6 641.1l8.9-5.8 18.4-23.2-8.9 5.8z"/>
<path class="c22" d="M1215.2 663.2l8.9-5.7 18.4-22.2-8.9 5.8z"/>
<path class="c20" d="M1196.8 684.3l9-5.8 18.3-21-8.9 5.7z"/>
<path class="c18" d="M1178.4 704.3l9-5.8 18.4-20-9 5.8z"/>
<path class="c17" d="M1160 723.2l9-5.7 18.4-19-9 5.8z"/>
<path class="c15" d="M1141.6 741.1l9-5.8 18.4-17.8-9 5.7z"/>
<path class="c13" d="M1123.2 757.9l9-5.8 18.4-16.8-9 5.8z"/>
<path class="c12" d="M1104.8 773.6l9-5.7 18.4-15.8-9 5.8z"/>
<path class="c10" d="M1086.4 788.3l9-5.8 18.4-14.6-9 5.7z"/>
<path class="c9" d="M1068 801.9l9-5.8 18.4-13.6-9 5.8z"/>
<path class="c8" d="M1049.6 814.4l9-5.7 18.4-12.6-9 5.8z"/>
<path class="c7" d="M1031.3 825.9l8.9-5.8 18.4-11.4-9 5.7z"/>
<path class="c6" d="M1012.9 836.3l8.9-5.7 18.4-10.5-8.9 5.8z"/>
<path class="c5" d="M994.5 845.7l8.9-5.8 18.4-9.3-8.9 5.7z"/>
<path class="c5" d="M976.1 853.9l9-5.7 18.3-8.3-8.9 5.8z"/>
<path class="c4" d="M957.7 861.1l9-5.7 18.4-7.2-9 5.7z"/>
<path class="c4" d="M939.3 867.3l9-5.8 18.4-6.1-9 5.7z"/>
<path class="c3" d="M920.9 872.4l9-5.8 18.4-5.1-9 5.8z"/>
<path class="c3" d="M902.5 876.4l9-5.8 18.4-4-9 5.8z"/>
<path class="c3" d="M884.1 879.3l9-5.8 18.4-2.9-9 5.8z"/>
<path class="c3" d="M865.7 881.2l9-5.8 18.4-1.9-9 5.8z"/>
<path class="c3" d="M847.3 882l9-5.8 18.4-0.8-9 5.8z"/>
<path class="c3" d="M828.9 881.7l9-5.7 18.4 0.2-9 5.8z"/>
<path class="c3" d="M810.6 880.4l8.9-5.8 18.4 1.4-9 5.7z"/>
<path class="c4" d="M792.2 878l8.9-5.7 18.4 2.3-8.9 5.8z"/>
<path class="c4" d="M773.8 874.6l8.9-5.8 18.4 3.5-8.9 5.7z"/>
<path class="c5" d="M755.4 870l9-5.7 18.3 4.5-8.9 5.8z"/>
<path class="c5" d="M737 864.5l9-5.8 18.4 5.6-9 5.7z"/>
<path class="c6" d="M718.6 857.8l9-5.8 18.4 6.7-9 5.8z"/>
<path class="c7" d="M700.2 850.1l9-5.8 18.4 7.7-9 5.8z"/>
<path class="c8" d="M681.8 841.3l9-5.8 18.4 8.8-9 5.8z"/>
<path class="c9" d="M663.4 831.4l9-5.7 18.4 9.8-9 5.8z"/>
<path class="c10" d="M645 820.5l9-5.7 18.4 10.9-9 5.7z"/>
<path class="c12" d="M626.6 808.5l9-5.7 18.4 12-9 5.7z"/>
<path class="c13" d="M608.2 795.5l9-5.8 18.4 13.1-9 5.7z"/>
<path class="c15" d="M589.9 781.4l8.9-5.8 18.4 14.1-9 5.8z"/>
<path class="c17" d="M571.5 766.2l8.9-5.8 18.4 15.2-8.9 5.8z"/>
<path class="c18" d="M553.1 749.9l8.9-5.7 18.4 16.2-8.9 5.8z"/>
<path class="c20" d="M534.7 732.6l8.9-5.8 18.4 17.4-8.9 5.7z"/>
<path class="c22" d="M516.3 714.2l9-5.7 18.3 18.3-8.9 5.8z"/>
<path class="c24" d="M497.9 694.8l9-5.8 18.4 19.5-9 5.7z"/>
<path class="c27" d="M479.5 674.3l9-5.8 18.4 20.5-9 5.8z"/>
<path class="c29" d="M461.1 652.7l9-5.8 18.4 21.6-9 5.8z"/>
<path class="c31" d="M442.7 630l9-5.7 18.4 22.6-9 5.8z"/>
<path class="c34" d="M424.3 606.3l9-5.7 18.4 23.7-9 5.7z"/>
<path class="c35" d="M1316.1 536.1l9-6.8 18.4-27.5-9 6.9z"/>
<path class="c32" d="M1297.7 562.5l9-6.8 18.4-26.4-9 6.8z"/>
<path class="c30" d="M1279.3 587.9l9-6.9 18.4-25.3-9 6.8z"/>
<path class="c28" d="M1260.9 612.1l9-6.8 18.4-24.3-9 6.9z"/>
<path class="c25" d="M1242.5 635.3l9-6.8 18.4-23.2-9 6.8z"/>
<path class="c23" d="M1224.1 657.5l9-6.9 18.4-22.1-9 6.8z"/>
<path class="c21" d="M1205.8 678.5l8.9-6.8 18.4-21.1-9 6.9z"/>
<path class="c19" d="M1187.4 698.5l8.9-6.8 18.4-20-8.9 6.8z"/>
<path class="c18" d="M1169 717.5l8.9-6.9 18.4-18.9-8.9 6.8z"/>
<path class="c16" d="M1150.6 735.3l9-6.8 18.3-17.9-8.9 6.9z"/>
<path class="c14" d="M1132.2 752.1l9-6.8 18.4-16.8-9 6.8z"/>
<path class="c13" d="M1113.8 767.9l9-6.9 18.4-15.7-9 6.8z"/>
<path class="c12" d="M1095.4 782.5l9-6.8 18.4-14.7-9 6.9z"/>
<path class="c10" d="M1077 796.1l9-6.8 18.4-13.6-9 6.8z"/>
<path class="c9" d="M1058.6 808.7l9-6.9 18.4-12.5-9 6.8z"/>
<path class="c8" d="M1040.2 820.1l9-6.8 18.4-11.5-9 6.9z"/>
<path class="c7" d="M1021.8 830.6l9-6.9 18.4-10.4-9 6.8z"/>
<path class="c6" d="M1003.4 839.9l9-6.8 18.4-9.4-9 6.9z"/>
<path class="c6" d="M985.1 848.2l8.9-6.9 18.4-8.2-9 6.8z"/>
<path class="c5" d="M966.7 855.4l8.9-6.9 18.4-7.2-8.9 6.9z"/>
<path class="c5" d="M948.3 861.5l8.9-6.8 18.4-6.2-8.9 6.9z"/>
<path class="c4" d="M929.9 866.6l9-6.8 18.3-5.1-8.9 6.8z"/>
<path class="c4" d="M911.5 870.6l9-6.8 18.4-4-9 6.8z"/>
<path class="c4" d="M893.1 873.5l9-6.8 18.4-2.9-9 6.8z"/>
<path class="c4" d="M874.7 875.4l9-6.8 18.4-1.9-9 6.8z"/>
<path class="c4" d="M856.3 876.2l9-6.8 18.4-0.8-9 6.8z"/>
<path class="c4" d="M837.9 876l9-6.9 18.4 0.3-9 6.8z"/>
<path class="c4" d="M819.5 874.6l9-6.8 18.4 1.3-9 6.9z"/>
<path class="c5" d="M801.1 872.3l9-6.9 18.4 2.4-9 6.8z"/>
<path class="c5" d="M782.7 868.8l9-6.8 18.4 3.4-9 6.9z"/>
<path class="c6" d="M764.4 864.3l8.9-6.9 18.4 4.6-9 6.8z"/>
<path class="c6" d="M746 858.7l8.9-6.8 18.4 5.5-8.9 6.9z"/>
<path class="c7" d="M727.6 852l8.9-6.8 18.4 6.7-8.9 6.8z"/>
<path class="c8" d="M709.2 844.3l8.9-6.8 18.4 7.7-8.9 6.8z"/>
<path class="c9" d="M690.8 835.5l9-6.8 18.3 8.8-8.9 6.8z"/>
<path class="c10" d="M672.4 825.7l9-6.9 18.4 9.9-9 6.8z"/>
<path class="c12" d="M654 814.8l9-6.9 18.4 10.9-9 6.9z"/>
<path class="c13" d="M635.6 802.8l9-6.9 18.4 12-9 6.9z"/>
<path class="c14" d="M617.2 789.7l9-6.8 18.4 13-9 6.9z"/>
<path class="c16" d="M598.8 775.6l9-6.8 18.4 14.1-9 6.8z"/>
<path class="c18" d="M580.4 760.4l9-6.8 18.4 15.2-9 6.8z"/>
<path class="c19" d="M562 744.2l9-6.9 18.4 16.3-9 6.8z"/>
<path class="c21" d="M543.6 726.8l9-6.8 18.4 17.3-9 6.9z"/>
<path class="c23" d="M525.3 708.5l8.9-6.9 18.4 18.4-9 6.8z"/>
<path class="c25" d="M506.9 689l8.9-6.8 18.4 19.4-8.9 6.9z"/>
<path class="c28" d="M488.5 668.5l8.9-6.8 18.4 20.5-8.9 6.8z"/>
<path class="c30" d="M470.1 646.9l9-6.8 18.3 21.6-8.9 6.8z"/>
<path class="c32" d="M451.7 624.3l9-6.9 18.4 22.7-9 6.8z"/>
<path class="c35" d="M433.3 600.6l9-6.9 18.4 23.7-9 6.9z"/>
<path class="c36" d="M1325.1 529.3l9-7.9 18.3-27.5-8.9 7.9z"/>
<path class="c34" d="M1306.7 555.7l9-7.9 18.4-26.4-9 7.9z"/>
<path class="c31" d="M1288.3 581l9-7.9 18.4-25.3-9 7.9z"/>
<path class="c29" d="M1269.9 605.3l9-7.9 18.4-24.3-9 7.9z"/>
<path class="c27" d="M1251.5 628.5l9-7.9 18.4-23.2-9 7.9z"/>
<path class="c24" d="M1233.1 650.6l9-7.9 18.4-22.1-9 7.9z"/>
<path class="c22" d="M1214.7 671.7l9-7.9 18.4-21.1-9 7.9z"/>
<path class="c21" d="M1196.3 691.7l9-7.9 18.4-20-9 7.9z"/>
<path class="c19" d="M1177.9 710.6l9-7.9 18.4-18.9-9 7.9z"/>
<path class="c17" d="M1159.6 728.5l8.9-7.9 18.4-17.9-9 7.9z"/>
<path class="c15" d="M1141.2 745.3l8.9-7.9 18.4-16.8-8.9 7.9z"/>
<path class="c14" d="M1122.8 761l8.9-7.9 18.4-15.7-8.9 7.9z"/>
<path class="c13" d="M1104.4 775.7l9-7.9 18.3-14.7-8.9 7.9z"/>
<path class="c11" d="M1086 789.3l9-7.9 18.4-13.6-9 7.9z"/>
<path class="c10" d="M1067.6 801.8l9-7.9 18.4-12.5-9 7.9z"/>
<path class="c9" d="M1049.2 813.3l9-7.9 18.4-11.5-9 7.9z"/>
<path class="c8" d="M1030.8 823.7l9-7.9 18.4-10.4-9 7.9z"/>
<path class="c7" d="M1012.4 833.1l9-7.9 18.4-9.4-9 7.9z"/>
<path class="c7" d="M994 841.3l9-7.9 18.4-8.2-9 7.9z"/>
<path class="c6" d="M975.6 848.5l9-7.9 18.4-7.2-9 7.9z"/>
<path class="c6" d="M957.2 854.7l9-7.9 18.4-6.2-9 7.9z"/>
<path class="c5" d="M938.9 859.8l8.9-7.9 18.4-5.1-9 7.9z"/>
<path class="c5" d="M920.5 863.8l8.9-7.9 18.4-4-8.9 7.9z"/>
<path class="c5" d="M902.1 866.7l8.9-7.9 18.4-2.9-8.9 7.9z"/>
<path class="c5" d="M883.7 868.6l8.9-7.9 18.4-1.9-8.9 7.9z"/>
<path class="c5" d="M865.3 869.4l9-7.9 18.3-0.8-8.9 7.9z"/>
<path class="c5" d="M846.9 869.1l9-7.9 18.4 0.3-9 7.9z"/>
<path class="c5" d="M828.5 867.8l9-7.9 18.4 1.3-9 7.9z"/>
<path class="c6" d="M810.1 865.4l9-7.9 18.4 2.4-9 7.9z"/>
<path class="c6" d="M791.7 862l9-7.9 18.4 3.4-9 7.9z"/>
<path class="c7" d="M773.3 857.4l9-7.9 18.4 4.6-9 7.9z"/>
<path class="c7" d="M754.9 851.9l9-7.9 18.4 5.5-9 7.9z"/>
<path class="c8" d="M736.5 845.2l9-7.9 18.4 6.7-9 7.9z"/>
<path class="c9" d="M718.1 837.5l9-7.9 18.4 7.7-9 7.9z"/>
<path class="c10" d="M699.8 828.7l8.9-7.9 18.4 8.8-9 7.9z"/>
<path class="c11" d="M681.4 818.8l8.9-7.9 18.4 9.9-8.9 7.9z"/>
<path class="c13" d="M663 807.9l8.9-7.9 18.4 10.9-8.9 7.9z"/>
<path class="c14" d="M644.6 795.9l9-7.9 18.3 12-8.9 7.9z"/>
<path class="c15" d="M626.2 782.9l9-7.9 18.4 13-9 7.9z"/>
<path class="c17" d="M607.8 768.8l9-7.9 18.4 14.1-9 7.9z"/>
<path class="c19" d="M589.4 753.6l9-7.9 18.4 15.2-9 7.9z"/>
<path class="c21" d="M571 737.3l9-7.9 18.4 16.3-9 7.9z"/>
<path class="c22" d="M552.6 720l9-7.9 18.4 17.3-9 7.9z"/>
<path class="c24" d="M534.2 701.6l9-7.9 18.4 18.4-9 7.9z"/>
<path class="c27" d="M515.8 682.2l9-7.9 18.4 19.4-9 7.9z"/>
<path class="c29" d="M497.4 661.7l9-7.9 18.4 20.5-9 7.9z"/>
<path class="c31" d="M479.1 640.1l8.9-7.9 18.4 21.6-9 7.9z"/>
<path class="c34" d="M460.7 617.4l8.9-7.9 18.4 22.7-8.9 7.9z"/>
<path class="c36" d="M442.3 593.7l8.9-7.9 18.4 23.7-8.9 7.9z"/>
<path class="c37" d="M1334.1 521.4l8.9-9 18.4-27.4-9 8.9z"/>
<path class="c35" d="M1315.7 547.8l8.9-9 18.4-26.4-8.9 9z"/>
<path class="c32" d="M1297.3 573.1l8.9-8.9 18.4-25.4-8.9 9z"/>
<path class="c30" d="M1278.9 597.4l9-9 18.3-24.2-8.9 8.9z"/>
<path class="c28" d="M1260.5 620.6l9-9 18.4-23.2-9 9z"/>
<path class="c26" d="M1242.1 642.7l9-8.9 18.4-22.2-9 9z"/>
<path class="c24" d="M1223.7 663.8l9-9 18.4-21-9 8.9z"/>
<path class="c22" d="M1205.3 683.8l9-9 18.4-20-9 9z"/>
<path class="c20" d="M1186.9 702.7l9-8.9 18.4-19-9 9z"/>
<path class="c18" d="M1168.5 720.6l9-9 18.4-17.8-9 8.9z"/>
<path class="c17" d="M1150.1 737.4l9-9 18.4-16.8-9 9z"/>
<path class="c15" d="M1131.7 753.1l9-8.9 18.4-15.8-9 9z"/>
<path class="c14" d="M1113.4 767.8l8.9-9 18.4-14.6-9 8.9z"/>
<path class="c13" d="M1095 781.4l8.9-9 18.4-13.6-8.9 9z"/>
<path class="c12" d="M1076.6 793.9l8.9-8.9 18.4-12.6-8.9 9z"/>
<path class="c10" d="M1058.2 805.4l8.9-9 18.4-11.4-8.9 8.9z"/>
<path class="c10" d="M1039.8 815.8l9-8.9 18.3-10.5-8.9 9z"/>
<path class="c9" d="M1021.4 825.2l9-9 18.4-9.3-9 8.9z"/>
<path class="c8" d="M1003 833.4l9-8.9 18.4-8.3-9 9z"/>
<path class="c7" d="M984.6 840.6l9-8.9 18.4-7.2-9 8.9z"/>
<path class="c7" d="M966.2 846.8l9-9 18.4-6.1-9 8.9z"/>
<path class="c7" d="M947.8 851.9l9-9 18.4-5.1-9 9z"/>
<path class="c6" d="M929.4 855.9l9-9 18.4-4-9 9z"/>
<path class="c6" d="M911 858.8l9-9 18.4-2.9-9 9z"/>
<path class="c6" d="M892.6 860.7l9-9 18.4-1.9-9 9z"/>
<path class="c6" d="M874.3 861.5l8.9-9 18.4-0.8-9 9z"/>
<path class="c6" d="M855.9 861.2l8.9-8.9 18.4 0.2-8.9 9z"/>
<path class="c7" d="M837.5 859.9l8.9-9 18.4 1.4-8.9 8.9z"/>
<path class="c7" d="M819.1 857.5l9-8.9 18.3 2.3-8.9 9z"/>
<path class="c7" d="M800.7 854.1l9-9 18.4 3.5-9 8.9z"/>
<path class="c8" d="M782.3 849.5l9-8.9 18.4 4.5-9 9z"/>
<path class="c9" d="M763.9 844l9-9 18.4 5.6-9 8.9z"/>
<path class="c10" d="M745.5 837.3l9-9 18.4 6.7-9 9z"/>
<path class="c10" d="M727.1 829.6l9-9 18.4 7.7-9 9z"/>
<path class="c12" d="M708.7 820.8l9-9 18.4 8.8-9 9z"/>
<path class="c13" d="M690.3 810.9l9-8.9 18.4 9.8-9 9z"/>
<path class="c14" d="M671.9 800l9-8.9 18.4 10.9-9 8.9z"/>
<path class="c15" d="M653.6 788l8.9-8.9 18.4 12-9 8.9z"/>
<path class="c17" d="M635.2 775l8.9-9 18.4 13.1-8.9 8.9z"/>
<path class="c18" d="M616.8 760.9l8.9-9 18.4 14.1-8.9 9z"/>
<path class="c20" d="M598.4 745.7l9-9 18.3 15.2-8.9 9z"/>
<path class="c22" d="M580 729.4l9-8.9 18.4 16.2-9 9z"/>
<path class="c24" d="M561.6 712.1l9-9 18.4 17.4-9 8.9z"/>
<path class="c26" d="M543.2 693.7l9-8.9 18.4 18.3-9 9z"/>
<path class="c28" d="M524.8 674.3l9-9 18.4 19.5-9 8.9z"/>
<path class="c30" d="M506.4 653.8l9-9 18.4 20.5-9 9z"/>
<path class="c32" d="M488 632.2l9-9 18.4 21.6-9 9z"/>
<path class="c35" d="M469.6 609.5l9-8.9 18.4 22.6-9 9z"/>
<path class="c37" d="M451.2 585.8l9-8.9 18.4 23.7-9 8.9z"/>
<path class="c39" d="M1343 512.4l9-10 18.4-27.5-9 10.1z"/>
<path class="c36" d="M1324.6 538.8l9-10 18.4-26.4-9 10z"/>
<path class="c34" d="M1306.2 564.2l9-10.1 18.4-25.3-9 10z"/>
<path class="c31" d="M1287.9 588.4l8.9-10 18.4-24.3-9 10.1z"/>
<path class="c29" d="M1269.5 611.6l8.9-10 18.4-23.2-8.9 10z"/>
<path class="c27" d="M1251.1 633.8l8.9-10.1 18.4-22.1-8.9 10z"/>
<path class="c25" d="M1232.7 654.8l8.9-10 18.4-21.1-8.9 10.1z"/>
<path class="c23" d="M1214.3 674.8l9-10 18.3-20-8.9 10z"/>
<path class="c21" d="M1195.9 693.8l9-10.1 18.4-18.9-9 10z"/>
<path class="c20" d="M1177.5 711.6l9-10 18.4-17.9-9 10.1z"/>
<path class="c18" d="M1159.1 728.4l9-10 18.4-16.8-9 10z"/>
<path class="c17" d="M1140.7 744.2l9-10.1 18.4-15.7-9 10z"/>
<path class="c15" d="M1122.3 758.8l9-10 18.4-14.7-9 10.1z"/>
<path class="c14" d="M1103.9 772.4l9-10 18.4-13.6-9 10z"/>
<path class="c13" d="M1085.5 785l9-10.1 18.4-12.5-9 10z"/>
<path class="c12" d="M1067.1 796.4l9-10 18.4-11.5-9 10.1z"/>
<path class="c11" d="M1048.8 806.9l8.9-10.1 18.4-10.4-9 10z"/>
<path class="c10" d="M1030.4 816.2l8.9-10 18.4-9.4-8.9 10.1z"/>
<path class="c9" d="M1012 824.5l8.9-10.1 18.4-8.2-8.9 10z"/>
<path class="c9" d="M993.6 831.7l9-10.1 18.3-7.2-8.9 10.1z"/>
<path class="c8" d="M975.2 837.8l9-10 18.4-6.2-9 10.1z"/>
<path class="c8" d="M956.8 842.9l9-10 18.4-5.1-9 10z"/>
<path class="c8" d="M938.4 846.9l9-10 18.4-4-9 10z"/>
<path class="c7" d="M920 849.8l9-10 18.4-2.9-9 10z"/>
<path class="c7" d="M901.6 851.7l9-10 18.4-1.9-9 10z"/>
<path class="c7" d="M883.2 852.5l9-10 18.4-0.8-9 10z"/>
<path class="c8" d="M864.8 852.3l9-10.1 18.4 0.3-9 10z"/>
<path class="c8" d="M846.4 850.9l9-10 18.4 1.3-9 10.1z"/>
<path class="c8" d="M828.1 848.6l8.9-10.1 18.4 2.4-9 10z"/>
<path class="c9" d="M809.7 845.1l8.9-10 18.4 3.4-8.9 10.1z"/>
<path class="c9" d="M791.3 840.6l8.9-10.1 18.4 4.6-8.9 10z"/>
<path class="c10" d="M772.9 835l9-10 18.3 5.5-8.9 10.1z"/>
<path class="c11" d="M754.5 828.3l9-10 18.4 6.7-9 10z"/>
<path class="c12" d="M736.1 820.6l9-10 18.4 7.7-9 10z"/>
<path class="c13" d="M717.7 811.8l9-10 18.4 8.8-9 10z"/>
<path class="c14" d="M699.3 802l9-10.1 18.4 9.9-9 10z"/>
<path class="c15" d="M680.9 791.1l9-10.1 18.4 10.9-9 10.1z"/>
<path class="c17" d="M662.5 779.1l9-10.1 18.4 12-9 10.1z"/>
<path class="c18" d="M644.1 766l9-10 18.4 13-9 10.1z"/>
<path class="c20" d="M625.7 751.9l9-10 18.4 14.1-9 10z"/>
<path class="c21" d="M607.4 736.7l8.9-10 18.4 15.2-9 10z"/>
<path class="c23" d="M589 720.5l8.9-10.1 18.4 16.3-8.9 10z"/>
<path class="c25" d="M570.6 703.1l8.9-10 18.4 17.3-8.9 10.1z"/>
<path class="c27" d="M552.2 684.8l9-10.1 18.3 18.4-8.9 10z"/>
<path class="c29" d="M533.8 665.3l9-10 18.4 19.4-9 10.1z"/>
<path class="c31" d="M515.4 644.8l9-10 18.4 20.5-9 10z"/>
<path class="c34" d="M497 623.2l9-10 18.4 21.6-9 10z"/>
<path class="c36" d="M478.6 600.6l9-10.1 18.4 22.7-9 10z"/>
<path class="c39" d="M460.2 576.9l9-10.1 18.4 23.7-9 10.1z"/>
<path class="c40" d="M1352 502.4l9-11.1 18.4-27.5-9 11.1z"/>
<path class="c38" d="M1333.6 528.8l9-11.1 18.4-26.4-9 11.1z"/>
<path class="c35" d="M1315.2 554.1l9-11.1 18.4-25.3-9 11.1z"/>
<path class="c33" d="M1296.8 578.4l9-11.1 18.4-24.3-9 11.1z"/>
<path class="c31" d="M1278.4 601.6l9-11.1 18.4-23.2-9 11.1z"/>
<path class="c29" d="M1260 623.7l9-11.1 18.4-22.1-9 11.1z"/>
<path class="c27" d="M1241.6 644.8l9-11.1 18.4-21.1-9 11.1z"/>
<path class="c25" d="M1223.3 664.8l8.9-11.1 18.4-20-9 11.1z"/>
<path class="c23" d="M1204.9 683.7l8.9-11.1 18.4-18.9-8.9 11.1z"/>
<path class="c21" d="M1186.5 701.6l8.9-11.1 18.4-17.9-8.9 11.1z"/>
<path class="c20" d="M1168.1 718.4l9-11.1 18.3-16.8-8.9 11.1z"/>
<path class="c18" d="M1149.7 734.1l9-11.1 18.4-15.7-9 11.1z"/>
<path class="c17" d="M1131.3 748.8l9-11.1 18.4-14.7-9 11.1z"/>
<path class="c15" d="M1112.9 762.4l9-11.1 18.4-13.6-9 11.1z"/>
<path class="c14" d="M1094.5 774.9l9-11.1 18.4-12.5-9 11.1z"/>
<path class="c13" d="M1076.1 786.4l9-11.1 18.4-11.5-9 11.1z"/>
<path class="c12" d="M1057.7 796.8l9-11.1 18.4-10.4-9 11.1z"/>
<path class="c12" d="M1039.3 806.2l9-11.1 18.4-9.4-9 11.1z"/>
<path class="c11" d="M1020.9 814.4l9-11.1 18.4-8.2-9 11.1z"/>
<path class="c10" d="M1002.6 821.6l8.9-11.1 18.4-7.2-9 11.1z"/>
<path class="c10" d="M984.2 827.8l8.9-11.1 18.4-6.2-8.9 11.1z"/>
<path class="c9" d="M965.8 832.9l8.9-11.1 18.4-5.1-8.9 11.1z"/>
<path class="c9" d="M947.4 836.9l9-11.1 18.3-4-8.9 11.1z"/>
<path class="c9" d="M929 839.8l9-11.1 18.4-2.9-9 11.1z"/>
<path class="c9" d="M910.6 841.7l9-11.1 18.4-1.9-9 11.1z"/>
<path class="c9" d="M892.2 842.5l9-11.1 18.4-0.8-9 11.1z"/>
<path class="c9" d="M873.8 842.2l9-11.1 18.4 0.3-9 11.1z"/>
<path class="c9" d="M855.4 840.9l9-11.1 18.4 1.3-9 11.1z"/>
<path class="c10" d="M837 838.5l9-11.1 18.4 2.4-9 11.1z"/>
<path class="c10" d="M818.6 835.1l9-11.1 18.4 3.4-9 11.1z"/>
<path class="c11" d="M800.2 830.5l9-11.1 18.4 4.6-9 11.1z"/>
<path class="c12" d="M781.9 825l8.9-11.1 18.4 5.5-9 11.1z"/>
<path class="c12" d="M763.5 818.3l8.9-11.1 18.4 6.7-8.9 11.1z"/>
<path class="c13" d="M745.1 810.6l8.9-11.1 18.4 7.7-8.9 11.1z"/>
<path class="c14" d="M726.7 801.8l9-11.1 18.3 8.8-8.9 11.1z"/>
<path class="c15" d="M708.3 791.9l9-11.1 18.4 9.9-9 11.1z"/>
<path class="c17" d="M689.9 781l9-11.1 18.4 10.9-9 11.1z"/>
<path class="c18" d="M671.5 769l9-11.1 18.4 12-9 11.1z"/>
<path class="c20" d="M653.1 756l9-11.1 18.4 13-9 11.1z"/>
<path class="c21" d="M634.7 741.9l9-11.1 18.4 14.1-9 11.1z"/>
<path class="c23" d="M616.3 726.7l9-11.1 18.4 15.2-9 11.1z"/>
<path class="c25" d="M597.9 710.4l9-11.1 18.4 16.3-9 11.1z"/>
<path class="c27" d="M579.5 693.1l9-11.1 18.4 17.3-9 11.1z"/>
<path class="c29" d="M561.2 674.7l8.9-11.1 18.4 18.4-9 11.1z"/>
<path class="c31" d="M542.8 655.3l8.9-11.1 18.4 19.4-8.9 11.1z"/>
<path class="c33" d="M524.4 634.8l8.9-11.1 18.4 20.5-8.9 11.1z"/>
<path class="c35" d="M506 613.2l8.9-11.1 18.4 21.6-8.9 11.1z"/>
<path class="c38" d="M487.6 590.5l9-11.1 18.3 22.7-8.9 11.1z"/>
<path class="c40" d="M469.2 566.8l9-11.1 18.4 23.7-9 11.1z"/>
<path class="c42" d="M1361 491.3l8.9-12.2 18.4-27.4-8.9 12.1z"/>
<path class="c39" d="M1342.6 517.7l9-12.2 18.3-26.4-8.9 12.2z"/>
<path class="c37" d="M1324.2 543l9-12.1 18.4-25.4-9 12.2z"/>
<path class="c34" d="M1305.8 567.3l9-12.2 18.4-24.2-9 12.1z"/>
<path class="c32" d="M1287.4 590.5l9-12.2 18.4-23.2-9 12.2z"/>
<path class="c30" d="M1269 612.6l9-12.1 18.4-22.2-9 12.2z"/>
<path class="c28" d="M1250.6 633.7l9-12.2 18.4-21-9 12.1z"/>
<path class="c26" d="M1232.2 653.7l9-12.2 18.4-20-9 12.2z"/>
<path class="c24" d="M1213.8 672.6l9-12.1 18.4-19-9 12.2z"/>
<path class="c23" d="M1195.4 690.5l9-12.2 18.4-17.8-9 12.1z"/>
<path class="c21" d="M1177.1 707.3l8.9-12.2 18.4-16.8-9 12.2z"/>
<path class="c20" d="M1158.7 723l8.9-12.1 18.4-15.8-8.9 12.2z"/>
<path class="c18" d="M1140.3 737.7l8.9-12.2 18.4-14.6-8.9 12.1z"/>
<path class="c17" d="M1121.9 751.3l9-12.2 18.3-13.6-8.9 12.2z"/>
<path class="c16" d="M1103.5 763.8l9-12.1 18.4-12.6-9 12.2z"/>
<path class="c15" d="M1085.1 775.3l9-12.1 18.4-11.5-9 12.1z"/>
<path class="c14" d="M1066.7 785.7l9-12.1 18.4-10.4-9 12.1z"/>
<path class="c13" d="M1048.3 795.1l9-12.2 18.4-9.3-9 12.1z"/>
<path class="c12" d="M1029.9 803.3l9-12.1 18.4-8.3-9 12.2z"/>
<path class="c12" d="M1011.5 810.5l9-12.1 18.4-7.2-9 12.1z"/>
<path class="c11" d="M993.1 816.7l9-12.2 18.4-6.1-9 12.1z"/>
<path class="c11" d="M974.7 821.8l9-12.2 18.4-5.1-9 12.2z"/>
<path class="c11" d="M956.4 825.8l8.9-12.2 18.4-4-9 12.2z"/>
<path class="c11" d="M938 828.7l8.9-12.2 18.4-2.9-8.9 12.2z"/>
<path class="c10" d="M919.6 830.6l8.9-12.2 18.4-1.9-8.9 12.2z"/>
<path class="c11" d="M901.2 831.4l9-12.2 18.3-0.8-8.9 12.2z"/>
<path class="c11" d="M882.8 831.1l9-12.1 18.4 0.2-9 12.2z"/>
<path class="c11" d="M864.4 829.8l9-12.2 18.4 1.4-9 12.1z"/>
<path class="c11" d="M846 827.4l9-12.1 18.4 2.3-9 12.2z"/>
<path class="c12" d="M827.6 824l9-12.2 18.4 3.5-9 12.1z"/>
<path class="c12" d="M809.2 819.4l9-12.1 18.4 4.5-9 12.2z"/>
<path class="c13" d="M790.8 813.9l9-12.2 18.4 5.6-9 12.1z"/>
<path class="c14" d="M772.4 807.2l9-12.2 18.4 6.7-9 12.2z"/>
<path class="c15" d="M754 799.5l9-12.2 18.4 7.7-9 12.2z"/>
<path class="c16" d="M735.7 790.7l8.9-12.2 18.4 8.8-9 12.2z"/>
<path class="c17" d="M717.3 780.8l8.9-12.1 18.4 9.8-8.9 12.2z"/>
<path class="c18" d="M698.9 769.9l8.9-12.1 18.4 10.9-8.9 12.1z"/>
<path class="c20" d="M680.5 757.9l8.9-12.1 18.4 12-8.9 12.1z"/>
<path class="c21" d="M662.1 744.9l9-12.2 18.3 13.1-8.9 12.1z"/>
<path class="c23" d="M643.7 730.8l9-12.2 18.4 14.1-9 12.2z"/>
<path class="c24" d="M625.3 715.6l9-12.2 18.4 15.2-9 12.2z"/>
<path class="c26" d="M606.9 699.3l9-12.1 18.4 16.2-9 12.2z"/>
<path class="c28" d="M588.5 682l9-12.1 18.4 17.3-9 12.1z"/>
<path class="c30" d="M570.1 663.6l9-12.1 18.4 18.4-9 12.1z"/>
<path class="c32" d="M551.7 644.2l9-12.2 18.4 19.5-9 12.1z"/>
<path class="c34" d="M533.3 623.7l9-12.2 18.4 20.5-9 12.2z"/>
<path class="c37" d="M514.9 602.1l9-12.2 18.4 21.6-9 12.2z"/>
<path class="c39" d="M496.6 579.4l8.9-12.1 18.4 22.6-9 12.2z"/>
<path class="c42" d="M478.2 555.7l8.9-12.1 18.4 23.7-8.9 12.1z"/>
<path class="c43" d="M1369.9 479.1l9-13.2 18.4-27.5-9 13.3z"/>
<path class="c41" d="M1351.6 505.5l8.9-13.2 18.4-26.4-9 13.2z"/>
<path class="c38" d="M1333.2 530.9l8.9-13.3 18.4-25.3-8.9 13.2z"/>
<path class="c36" d="M1314.8 555.1l8.9-13.2 18.4-24.3-8.9 13.3z"/>
<path class="c34" d="M1296.4 578.3l9-13.2 18.3-23.2-8.9 13.2z"/>
<path class="c32" d="M1278 600.5l9-13.3 18.4-22.1-9 13.2z"/>
<path class="c30" d="M1259.6 621.5l9-13.2 18.4-21.1-9 13.3z"/>
<path class="c28" d="M1241.2 641.5l9-13.2 18.4-20-9 13.2z"/>
<path class="c26" d="M1222.8 660.5l9-13.3 18.4-18.9-9 13.2z"/>
<path class="c24" d="M1204.4 678.3l9-13.2 18.4-17.9-9 13.3z"/>
<path class="c23" d="M1186 695.1l9-13.2 18.4-16.8-9 13.2z"/>
<path class="c21" d="M1167.6 710.9l9-13.3 18.4-15.7-9 13.2z"/>
<path class="c20" d="M1149.2 725.5l9-13.2 18.4-14.7-9 13.3z"/>
<path class="c19" d="M1130.9 739.1l8.9-13.2 18.4-13.6-9 13.2z"/>
<path class="c18" d="M1112.5 751.7l8.9-13.2 18.4-12.6-8.9 13.2z"/>
<path class="c17" d="M1094.1 763.2l8.9-13.3 18.4-11.4-8.9 13.2z"/>
<path class="c16" d="M1075.7 773.6l9-13.3 18.3-10.4-8.9 13.3z"/>
<path class="c15" d="M1057.3 782.9l9-13.2 18.4-9.4-9 13.3z"/>
<path class="c14" d="M1038.9 791.2l9-13.3 18.4-8.2-9 13.2z"/>
<path class="c14" d="M1020.5 798.4l9-13.3 18.4-7.2-9 13.3z"/>
<path class="c13" d="M1002.1 804.5l9-13.2 18.4-6.2-9 13.3z"/>
<path class="c13" d="M983.7 809.6l9-13.2 18.4-5.1-9 13.2z"/>
<path class="c12" d="M965.3 813.6l9-13.2 18.4-4-9 13.2z"/>
<path class="c12" d="M946.9 816.5l9-13.2 18.4-2.9-9 13.2z"/>
<path class="c12" d="M928.5 818.4l9-13.2 18.4-1.9-9 13.2z"/>
<path class="c12" d="M910.2 819.2l8.9-13.2 18.4-0.8-9 13.2z"/>
<path class="c12" d="M891.8 819l8.9-13.3 18.4 0.3-8.9 13.2z"/>
<path class="c13" d="M873.4 817.6l8.9-13.2 18.4 1.3-8.9 13.3z"/>
<path class="c13" d="M855 815.3l8.9-13.3 18.4 2.4-8.9 13.2z"/>
<path class="c14" d="M836.6 811.8l9-13.2 18.3 3.4-8.9 13.3z"/>
<path class="c14" d="M818.2 807.3l9-13.3 18.4 4.6-9 13.2z"/>
<path class="c15" d="M799.8 801.7l9-13.2 18.4 5.5-9 13.3z"/>
<path class="c16" d="M781.4 795l9-13.2 18.4 6.7-9 13.2z"/>
<path class="c17" d="M763 787.3l9-13.2 18.4 7.7-9 13.2z"/>
<path class="c18" d="M744.6 778.5l9-13.2 18.4 8.8-9 13.2z"/>
<path class="c19" d="M726.2 768.7l9-13.3 18.4 9.9-9 13.2z"/>
<path class="c20" d="M707.8 757.8l9-13.3 18.4 10.9-9 13.3z"/>
<path class="c21" d="M689.4 745.8l9-13.3 18.4 12-9 13.3z"/>
<path class="c23" d="M671.1 732.7l8.9-13.2 18.4 13-9 13.3z"/>
<path class="c24" d="M652.7 718.6l8.9-13.2 18.4 14.1-8.9 13.2z"/>
<path class="c26" d="M634.3 703.4l8.9-13.2 18.4 15.2-8.9 13.2z"/>
<path class="c28" d="M615.9 687.2l9-13.3 18.3 16.3-8.9 13.2z"/>
<path class="c30" d="M597.5 669.9l9-13.3 18.4 17.3-9 13.3z"/>
<path class="c32" d="M579.1 651.5l9-13.3 18.4 18.4-9 13.3z"/>
<path class="c34" d="M560.7 632l9-13.2 18.4 19.4-9 13.3z"/>
<path class="c36" d="M542.3 611.5l9-13.2 18.4 20.5-9 13.2z"/>
<path class="c38" d="M523.9 589.9l9-13.2 18.4 21.6-9 13.2z"/>
<path class="c41" d="M505.5 567.3l9-13.3 18.4 22.7-9 13.2z"/>
<path class="c43" d="M487.1 543.6l9-13.3 18.4 23.7-9 13.3z"/>
<path class="c45" d="M1378.9 465.9l9-14.3 18.4-27.5-9 14.3z"/>
<path class="c43" d="M1360.5 492.3l9-14.3 18.4-26.4-9 14.3z"/>
<path class="c40" d="M1342.1 517.6l9-14.3 18.4-25.3-9 14.3z"/>
<path class="c38" d="M1323.7 541.9l9-14.3 18.4-24.3-9 14.3z"/>
<path class="c36" d="M1305.4 565.1l8.9-14.3 18.4-23.2-9 14.3z"/>
<path class="c34" d="M1287 587.2l8.9-14.3 18.4-22.1-8.9 14.3z"/>
<path class="c32" d="M1268.6 608.3l8.9-14.3 18.4-21.1-8.9 14.3z"/>
<path class="c30" d="M1250.2 628.3l9-14.3 18.3-20-8.9 14.3z"/>
<path class="c28" d="M1231.8 647.2l9-14.3 18.4-18.9-9 14.3z"/>
<path class="c26" d="M1213.4 665.1l9-14.3 18.4-17.9-9 14.3z"/>
<path class="c25" d="M1195 681.9l9-14.3 18.4-16.8-9 14.3z"/>
<path class="c23" d="M1176.6 697.6l9-14.3 18.4-15.7-9 14.3z"/>
<path class="c22" d="M1158.2 712.3l9-14.3 18.4-14.7-9 14.3z"/>
<path class="c21" d="M1139.8 725.9l9-14.3 18.4-13.6-9 14.3z"/>
<path class="c19" d="M1121.4 738.5l9-14.3 18.4-12.6-9 14.3z"/>
<path class="c18" d="M1103 749.9l9-14.3 18.4-11.4-9 14.3z"/>
<path class="c17" d="M1084.7 760.3l8.9-14.3 18.4-10.4-9 14.3z"/>
<path class="c17" d="M1066.3 769.7l8.9-14.3 18.4-9.4-8.9 14.3z"/>
<path class="c16" d="M1047.9 777.9l8.9-14.3 18.4-8.2-8.9 14.3z"/>
<path class="c15" d="M1029.5 785.1l8.9-14.3 18.4-7.2-8.9 14.3z"/>
<path class="c15" d="M1011.1 791.3l9-14.3 18.3-6.2-8.9 14.3z"/>
<path class="c14" d="M992.7 796.4l9-14.3 18.4-5.1-9 14.3z"/>
<path class="c14" d="M974.3 800.4l9-14.3 18.4-4-9 14.3z"/>
<path class="c14" d="M955.9 803.3l9-14.3 18.4-2.9-9 14.3z"/>
<path class="c14" d="M937.5 805.2l9-14.3 18.4-1.9-9 14.3z"/>
<path class="c14" d="M919.1 806l9-14.3 18.4-0.8-9 14.3z"/>
<path class="c14" d="M900.7 805.7l9-14.3 18.4 0.3-9 14.3z"/>
<path class="c14" d="M882.3 804.4l9-14.3 18.4 1.3-9 14.3z"/>
<path class="c15" d="M863.9 802l9-14.3 18.4 2.4-9 14.3z"/>
<path class="c15" d="M845.6 798.6l8.9-14.3 18.4 3.4-9 14.3z"/>
<path class="c16" d="M827.2 794l8.9-14.2 18.4 4.5-8.9 14.3z"/>
<path class="c17" d="M808.8 788.5l8.9-14.3 18.4 5.6-8.9 14.2z"/>
<path class="c17" d="M790.4 781.8l9-14.3 18.3 6.7-8.9 14.3z"/>
<path class="c18" d="M772 774.1l9-14.3 18.4 7.7-9 14.3z"/>
<path class="c19" d="M753.6 765.3l9-14.3 18.4 8.8-9 14.3z"/>
<path class="c21" d="M735.2 755.4l9-14.3 18.4 9.9-9 14.3z"/>
<path class="c22" d="M716.8 744.5l9-14.3 18.4 10.9-9 14.3z"/>
<path class="c23" d="M698.4 732.5l9-14.3 18.4 12-9 14.3z"/>
<path class="c25" d="M680 719.5l9-14.3 18.4 13-9 14.3z"/>
<path class="c26" d="M661.6 705.4l9-14.3 18.4 14.1-9 14.3z"/>
<path class="c28" d="M643.2 690.2l9-14.3 18.4 15.2-9 14.3z"/>
<path class="c30" d="M624.9 673.9l8.9-14.3 18.4 16.3-9 14.3z"/>
<path class="c32" d="M606.5 656.6l8.9-14.3 18.4 17.3-8.9 14.3z"/>
<path class="c34" d="M588.1 638.2l8.9-14.3 18.4 18.4-8.9 14.3z"/>
<path class="c36" d="M569.7 618.8l9-14.3 18.3 19.4-8.9 14.3z"/>
<path class="c38" d="M551.3 598.3l9-14.3 18.4 20.5-9 14.3z"/>
<path class="c40" d="M532.9 576.7l9-14.3 18.4 21.6-9 14.3z"/>
<path class="c43" d="M514.5 554l9-14.3 18.4 22.7-9 14.3z"/>
<path class="c45" d="M496.1 530.3l9-14.3 18.4 23.7-9 14.3z"/>
<path class="c47" d="M1387.9 451.6l9-15.4 18.4-27.4-9 15.3z"/>
<path class="c45" d="M1369.5 478l9-15.4 18.4-26.4-9 15.4z"/>
<path class="c42" d="M1351.1 503.3l9-15.3 18.4-25.4-9 15.4z"/>
<path class="c40" d="M1332.7 527.6l9-15.4 18.4-24.2-9 15.3z"/>
<path class="c38" d="M1314.3 550.8l9-15.4 18.4-23.2-9 15.4z"/>
<path class="c35" d="M1295.9 572.9l9-15.3 18.4-22.2-9 15.4z"/>
<path class="c33" d="M1277.5 594l9-15.4 18.4-21-9 15.3z"/>
<path class="c32" d="M1259.2 614l8.9-15.4 18.4-20-9 15.4z"/>
<path class="c30" d="M1240.8 632.9l8.9-15.3 18.4-19-8.9 15.4z"/>
<path class="c28" d="M1222.4 650.8l8.9-15.4 18.4-17.8-8.9 15.3z"/>
<path class="c27" d="M1204 667.6l8.9-15.4 18.4-16.8-8.9 15.4z"/>
<path class="c25" d="M1185.6 683.3l9-15.3 18.3-15.8-8.9 15.4z"/>
<path class="c24" d="M1167.2 698l9-15.4 18.4-14.6-9 15.3z"/>
<path class="c22" d="M1148.8 711.6l9-15.3 18.4-13.7-9 15.4z"/>
<path class="c21" d="M1130.4 724.2l9-15.4 18.4-12.5-9 15.3z"/>
<path class="c20" d="M1112 735.6l9-15.3 18.4-11.5-9 15.4z"/>
<path class="c19" d="M1093.6 746l9-15.3 18.4-10.4-9 15.3z"/>
<path class="c19" d="M1075.2 755.4l9-15.4 18.4-9.3-9 15.3z"/>
<path class="c18" d="M1056.8 763.6l9-15.3 18.4-8.3-9 15.4z"/>
<path class="c17" d="M1038.4 770.8l9-15.3 18.4-7.2-9 15.3z"/>
<path class="c17" d="M1020.1 777l8.9-15.4 18.4-6.1-9 15.3z"/>
<path class="c16" d="M1001.7 782.1l8.9-15.4 18.4-5.1-8.9 15.4z"/>
<path class="c16" d="M983.3 786.1l8.9-15.4 18.4-4-8.9 15.4z"/>
<path class="c16" d="M964.9 789l9-15.3 18.3-3-8.9 15.4z"/>
<path class="c16" d="M946.5 790.9l9-15.4 18.4-1.8-9 15.3z"/>
<path class="c16" d="M928.1 791.7l9-15.4 18.4-0.8-9 15.4z"/>
<path class="c16" d="M909.7 791.4l9-15.3 18.4 0.2-9 15.4z"/>
<path class="c16" d="M891.3 790.1l9-15.3 18.4 1.3-9 15.3z"/>
<path class="c17" d="M872.9 787.7l9-15.3 18.4 2.4-9 15.3z"/>
<path class="c17" d="M854.5 784.3l9-15.4 18.4 3.5-9 15.3z"/>
<path class="c18" d="M836.1 779.8l9-15.4 18.4 4.5-9 15.4z"/>
<path class="c19" d="M817.7 774.2l9-15.4 18.4 5.6-9 15.4z"/>
<path class="c19" d="M799.4 767.5l8.9-15.4 18.4 6.7-9 15.4z"/>
<path class="c20" d="M781 759.8l8.9-15.4 18.4 7.7-8.9 15.4z"/>
<path class="c21" d="M762.6 751l8.9-15.4 18.4 8.8-8.9 15.4z"/>
<path class="c22" d="M744.2 741.1l9-15.3 18.3 9.8-8.9 15.4z"/>
<path class="c24" d="M725.8 730.2l9-15.3 18.4 10.9-9 15.3z"/>
<path class="c25" d="M707.4 718.2l9-15.3 18.4 12-9 15.3z"/>
<path class="c27" d="M689 705.2l9-15.4 18.4 13.1-9 15.3z"/>
<path class="c28" d="M670.6 691.1l9-15.4 18.4 14.1-9 15.4z"/>
<path class="c30" d="M652.2 675.9l9-15.4 18.4 15.2-9 15.4z"/>
<path class="c32" d="M633.8 659.6l9-15.3 18.4 16.2-9 15.4z"/>
<path class="c33" d="M615.4 642.3l9-15.3 18.4 17.3-9 15.3z"/>
<path class="c35" d="M597 623.9l9-15.3 18.4 18.4-9 15.3z"/>
<path class="c38" d="M578.7 604.5l8.9-15.4 18.4 19.5-9 15.3z"/>
<path class="c40" d="M560.3 584l8.9-15.4 18.4 20.5-8.9 15.4z"/>
<path class="c42" d="M541.9 562.4l8.9-15.4 18.4 21.6-8.9 15.4z"/>
<path class="c45" d="M523.5 539.7l9-15.3 18.3 22.6-8.9 15.4z"/>
<path class="c47" d="M505.1 516l9-15.3 18.4 23.7-9 15.3z"/>
<path class="c49" d="M1396.9 436.2l8.9-16.4 18.4-27.5-8.9 16.5z"/>
<path class="c47" d="M1378.5 462.6l8.9-16.4 18.4-26.4-8.9 16.4z"/>
<path class="c44" d="M1360.1 488l9-16.5 18.3-25.3-8.9 16.4z"/>
<path class="c42" d="M1341.7 512.2l9-16.4 18.4-24.3-9 16.5z"/>
<path class="c40" d="M1323.3 535.4l9-16.4 18.4-23.2-9 16.4z"/>
<path class="c38" d="M1304.9 557.6l9-16.5 18.4-22.1-9 16.4z"/>
<path class="c35" d="M1286.5 578.6l9-16.4 18.4-21.1-9 16.5z"/>
<path class="c34" d="M1268.1 598.6l9-16.4 18.4-20-9 16.4z"/>
<path class="c32" d="M1249.7 617.6l9-16.5 18.4-18.9-9 16.4z"/>
<path class="c30" d="M1231.3 635.4l9-16.4 18.4-17.9-9 16.5z"/>
<path class="c29" d="M1212.9 652.2l9-16.4 18.4-16.8-9 16.4z"/>
<path class="c27" d="M1194.6 668l8.9-16.5 18.4-15.7-9 16.4z"/>
<path class="c26" d="M1176.2 682.6l8.9-16.4 18.4-14.7-8.9 16.5z"/>
<path class="c24" d="M1157.8 696.3l8.9-16.5 18.4-13.6-8.9 16.4z"/>
<path class="c23" d="M1139.4 708.8l9-16.4 18.3-12.6-8.9 16.5z"/>
<path class="c22" d="M1121 720.3l9-16.5 18.4-11.4-9 16.4z"/>
<path class="c21" d="M1102.6 730.7l9-16.5 18.4-10.4-9 16.5z"/>
<path class="c21" d="M1084.2 740l9-16.4 18.4-9.4-9 16.5z"/>
<path class="c20" d="M1065.8 748.3l9-16.5 18.4-8.2-9 16.4z"/>
<path class="c19" d="M1047.4 755.5l9-16.4 18.4-7.3-9 16.5z"/>
<path class="c19" d="M1029 761.6l9-16.4 18.4-6.1-9 16.4z"/>
<path class="c18" d="M1010.6 766.7l9-16.4 18.4-5.1-9 16.4z"/>
<path class="c18" d="M992.2 770.7l9-16.4 18.4-4-9 16.4z"/>
<path class="c18" d="M973.9 773.7l8.9-16.5 18.4-2.9-9 16.4z"/>
<path class="c18" d="M955.5 775.5l8.9-16.4 18.4-1.9-8.9 16.5z"/>
<path class="c18" d="M937.1 776.3l8.9-16.4 18.4-0.8-8.9 16.4z"/>
<path class="c18" d="M918.7 776.1l9-16.5 18.3 0.3-8.9 16.4z"/>
<path class="c18" d="M900.3 774.8l9-16.5 18.4 1.3-9 16.5z"/>
<path class="c19" d="M881.9 772.4l9-16.5 18.4 2.4-9 16.5z"/>
<path class="c19" d="M863.5 768.9l9-16.4 18.4 3.4-9 16.5z"/>
<path class="c20" d="M845.1 764.4l9-16.4 18.4 4.5-9 16.4z"/>
<path class="c21" d="M826.7 758.8l9-16.4 18.4 5.6-9 16.4z"/>
<path class="c21" d="M808.3 752.1l9-16.4 18.4 6.7-9 16.4z"/>
<path class="c22" d="M789.9 744.4l9-16.4 18.4 7.7-9 16.4z"/>
<path class="c23" d="M771.5 735.6l9-16.4 18.4 8.8-9 16.4z"/>
<path class="c24" d="M753.2 725.8l8.9-16.4 18.4 9.8-9 16.4z"/>
<path class="c26" d="M734.8 714.9l8.9-16.5 18.4 11-8.9 16.4z"/>
<path class="c27" d="M716.4 702.9l8.9-16.4 18.4 11.9-8.9 16.5z"/>
<path class="c29" d="M698 689.8l9-16.4 18.3 13.1-8.9 16.4z"/>
<path class="c30" d="M679.6 675.7l9-16.4 18.4 14.1-9 16.4z"/>
<path class="c32" d="M661.2 660.5l9-16.4 18.4 15.2-9 16.4z"/>
<path class="c34" d="M642.8 644.3l9-16.5 18.4 16.3-9 16.4z"/>
<path class="c35" d="M624.4 627l9-16.5 18.4 17.3-9 16.5z"/>
<path class="c38" d="M606 608.6l9-16.5 18.4 18.4-9 16.5z"/>
<path class="c40" d="M587.6 589.1l9-16.4 18.4 19.4-9 16.5z"/>
<path class="c42" d="M569.2 568.6l9-16.4 18.4 20.5-9 16.4z"/>
<path class="c44" d="M550.8 547l9-16.4 18.4 21.6-9 16.4z"/>
<path class="c47" d="M532.5 524.4l8.9-16.4 18.4 22.6-9 16.4z"/>
<path class="c49" d="M514.1 500.7l8.9-16.5 18.4 23.8-8.9 16.4z"/>
<path class="c51" d="M1405.8 419.8l9-17.5 18.4-27.5-9 17.5z"/>
<path class="c49" d="M1387.4 446.2l9-17.5 18.4-26.4-9 17.5z"/>
<path class="c46" d="M1369.1 471.5l8.9-17.5 18.4-25.3-9 17.5z"/>
<path class="c44" d="M1350.7 495.8l8.9-17.5 18.4-24.3-8.9 17.5z"/>
<path class="c42" d="M1332.3 519l8.9-17.5 18.4-23.2-8.9 17.5z"/>
<path class="c40" d="M1313.9 541.1l9-17.5 18.3-22.1-8.9 17.5z"/>
<path class="c38" d="M1295.5 562.2l9-17.5 18.4-21.1-9 17.5z"/>
<path class="c36" d="M1277.1 582.2l9-17.5 18.4-20-9 17.5z"/>
<path class="c34" d="M1258.7 601.1l9-17.5 18.4-18.9-9 17.5z"/>
<path class="c32" d="M1240.3 619l9-17.5 18.4-17.9-9 17.5z"/>
<path class="c31" d="M1221.9 635.8l9-17.5 18.4-16.8-9 17.5z"/>
<path class="c29" d="M1203.5 651.5l9-17.4 18.4-15.8-9 17.5z"/>
<path class="c28" d="M1185.1 666.2l9-17.5 18.4-14.6-9 17.4z"/>
<path class="c27" d="M1166.7 679.8l9-17.5 18.4-13.6-9 17.5z"/>
<path class="c25" d="M1148.4 692.4l8.9-17.5 18.4-12.6-9 17.5z"/>
<path class="c24" d="M1130 703.8l8.9-17.5 18.4-11.4-8.9 17.5z"/>
<path class="c23" d="M1111.6 714.2l8.9-17.5 18.4-10.4-8.9 17.5z"/>
<path class="c23" d="M1093.2 723.6l9-17.5 18.3-9.4-8.9 17.5z"/>
<path class="c22" d="M1074.8 731.8l9-17.4 18.4-8.3-9 17.5z"/>
<path class="c21" d="M1056.4 739.1l9-17.5 18.4-7.2-9 17.4z"/>
<path class="c21" d="M1038 745.2l9-17.5 18.4-6.1-9 17.5z"/>
<path class="c20" d="M1019.6 750.3l9-17.5 18.4-5.1-9 17.5z"/>
<path class="c20" d="M1001.2 754.3l9-17.5 18.4-4-9 17.5z"/>
<path class="c20" d="M982.8 757.2l9-17.5 18.4-2.9-9 17.5z"/>
<path class="c20" d="M964.4 759.1l9-17.5 18.4-1.9-9 17.5z"/>
<path class="c20" d="M946 759.9l9-17.5 18.4-0.8-9 17.5z"/>
<path class="c20" d="M927.7 759.6l8.9-17.4 18.4 0.2-9 17.5z"/>
<path class="c20" d="M909.3 758.3l8.9-17.5 18.4 1.4-8.9 17.4z"/>
<path class="c21" d="M890.9 755.9l8.9-17.5 18.4 2.4-8.9 17.5z"/>
<path class="c21" d="M872.5 752.5l9-17.5 18.3 3.4-8.9 17.5z"/>
<path class="c22" d="M854.1 748l9-17.5 18.4 4.5-9 17.5z"/>
<path class="c23" d="M835.7 742.4l9-17.5 18.4 5.6-9 17.5z"/>
<path class="c23" d="M817.3 735.7l9-17.5 18.4 6.7-9 17.5z"/>
<path class="c24" d="M798.9 728l9-17.5 18.4 7.7-9 17.5z"/>
<path class="c25" d="M780.5 719.2l9-17.5 18.4 8.8-9 17.5z"/>
<path class="c27" d="M762.1 709.4l9-17.5 18.4 9.8-9 17.5z"/>
<path class="c28" d="M743.7 698.4l9-17.5 18.4 11-9 17.5z"/>
<path class="c29" d="M725.3 686.5l9-17.5 18.4 11.9-9 17.5z"/>
<path class="c31" d="M707 673.4l8.9-17.5 18.4 13.1-9 17.5z"/>
<path class="c32" d="M688.6 659.3l8.9-17.5 18.4 14.1-8.9 17.5z"/>
<path class="c34" d="M670.2 644.1l8.9-17.5 18.4 15.2-8.9 17.5z"/>
<path class="c36" d="M651.8 627.8l8.9-17.4 18.4 16.2-8.9 17.5z"/>
<path class="c38" d="M633.4 610.5l9-17.5 18.3 17.4-8.9 17.4z"/>
<path class="c40" d="M615 592.1l9-17.4 18.4 18.3-9 17.5z"/>
<path class="c42" d="M596.6 572.7l9-17.5 18.4 19.5-9 17.4z"/>
<path class="c44" d="M578.2 552.2l9-17.5 18.4 20.5-9 17.5z"/>
<path class="c46" d="M559.8 530.6l9-17.5 18.4 21.6-9 17.5z"/>
<path class="c49" d="M541.4 508l9-17.5 18.4 22.6-9 17.5z"/>
<path class="c51" d="M523 484.2l9-17.5 18.4 23.8-9 17.5z"/>
<path class="c54" d="M1414.8 402.3l9-18.6 18.4-27.4-9 18.5z"/>
<path class="c51" d="M1396.4 428.7l9-18.6 18.4-26.4-9 18.6z"/>
<path class="c49" d="M1378 454l9-18.5 18.4-25.4-9 18.6z"/>
<path class="c46" d="M1359.6 478.3l9-18.6 18.4-24.2-9 18.5z"/>
<path class="c44" d="M1341.2 501.5l9-18.6 18.4-23.2-9 18.6z"/>
<path class="c42" d="M1322.9 523.6l8.9-18.5 18.4-22.2-9 18.6z"/>
<path class="c40" d="M1304.5 544.7l8.9-18.6 18.4-21-8.9 18.5z"/>
<path class="c38" d="M1286.1 564.7l8.9-18.6 18.4-20-8.9 18.6z"/>
<path class="c36" d="M1267.7 583.6l9-18.5 18.3-19-8.9 18.6z"/>
<path class="c34" d="M1249.3 601.5l9-18.5 18.4-17.9-9 18.5z"/>
<path class="c33" d="M1230.9 618.3l9-18.5 18.4-16.8-9 18.5z"/>
<path class="c31" d="M1212.5 634.1l9-18.6 18.4-15.7-9 18.5z"/>
<path class="c30" d="M1194.1 648.7l9-18.5 18.4-14.7-9 18.6z"/>
<path class="c29" d="M1175.7 662.3l9-18.5 18.4-13.6-9 18.5z"/>
<path class="c28" d="M1157.3 674.9l9-18.6 18.4-12.5-9 18.5z"/>
<path class="c27" d="M1138.9 686.3l9-18.5 18.4-11.5-9 18.6z"/>
<path class="c26" d="M1120.5 696.7l9-18.5 18.4-10.4-9 18.5z"/>
<path class="c25" d="M1102.2 706.1l8.9-18.6 18.4-9.3-9 18.5z"/>
<path class="c24" d="M1083.8 714.4l8.9-18.6 18.4-8.3-8.9 18.6z"/>
<path class="c24" d="M1065.4 721.6l8.9-18.6 18.4-7.2-8.9 18.6z"/>
<path class="c23" d="M1047 727.7l9-18.6 18.3-6.1-8.9 18.6z"/>
<path class="c23" d="M1028.6 732.8l9-18.6 18.4-5.1-9 18.6z"/>
<path class="c22" d="M1010.2 736.8l9-18.6 18.4-4-9 18.6z"/>
<path class="c22" d="M991.8 739.7l9-18.5 18.4-3-9 18.6z"/>
<path class="c22" d="M973.4 741.6l9-18.6 18.4-1.8-9 18.5z"/>
<path class="c22" d="M955 742.4l9-18.6 18.4-0.8-9 18.6z"/>
<path class="c22" d="M936.6 742.2l9-18.6 18.4 0.2-9 18.6z"/>
<path class="c23" d="M918.2 740.8l9-18.5 18.4 1.3-9 18.6z"/>
<path class="c23" d="M899.8 738.4l9-18.5 18.4 2.4-9 18.5z"/>
<path class="c24" d="M881.5 735l8.9-18.6 18.4 3.5-9 18.5z"/>
<path class="c24" d="M863.1 730.5l8.9-18.6 18.4 4.5-8.9 18.6z"/>
<path class="c25" d="M844.7 724.9l8.9-18.6 18.4 5.6-8.9 18.6z"/>
<path class="c26" d="M826.3 718.2l8.9-18.5 18.4 6.6-8.9 18.6z"/>
<path class="c27" d="M807.9 710.5l9-18.6 18.3 7.8-8.9 18.5z"/>
<path class="c28" d="M789.5 701.7l9-18.5 18.4 8.7-9 18.6z"/>
<path class="c29" d="M771.1 691.9l9-18.6 18.4 9.9-9 18.5z"/>
<path class="c30" d="M752.7 680.9l9-18.5 18.4 10.9-9 18.6z"/>
<path class="c31" d="M734.3 669l9-18.6 18.4 12-9 18.5z"/>
<path class="c33" d="M715.9 655.9l9-18.6 18.4 13.1-9 18.6z"/>
<path class="c34" d="M697.5 641.8l9-18.6 18.4 14.1-9 18.6z"/>
<path class="c36" d="M679.1 626.6l9-18.6 18.4 15.2-9 18.6z"/>
<path class="c38" d="M660.7 610.4l9-18.6 18.4 16.2-9 18.6z"/>
<path class="c40" d="M642.4 593l8.9-18.5 18.4 17.3-9 18.6z"/>
<path class="c42" d="M624 574.7l8.9-18.6 18.4 18.4-8.9 18.5z"/>
<path class="c44" d="M605.6 555.2l8.9-18.6 18.4 19.5-8.9 18.6z"/>
<path class="c46" d="M587.2 534.7l9-18.6 18.3 20.5-8.9 18.6z"/>
<path class="c49" d="M568.8 513.1l9-18.6 18.4 21.6-9 18.6z"/>
<path class="c51" d="M550.4 490.5l9-18.6 18.4 22.6-9 18.6z"/>
<path class="c54" d="M532 466.7l9-18.5 18.4 23.7-9 18.6z"/>
<path class="c56" d="M1423.8 383.7l9-19.6 18.4-27.4-9 19.6z"/>
<path class="c53" d="M1405.4 410.1l9-19.6 18.4-26.4-9 19.6z"/>
<path class="c51" d="M1387 435.5l9-19.6 18.4-25.4-9 19.6z"/>
<path class="c49" d="M1368.6 459.7l9-19.6 18.4-24.2-9 19.6z"/>
<path class="c46" d="M1350.2 482.9l9-19.6 18.4-23.2-9 19.6z"/>
<path class="c44" d="M1331.8 505.1l9-19.6 18.4-22.2-9 19.6z"/>
<path class="c42" d="M1313.4 526.1l9-19.6 18.4-21-9 19.6z"/>
<path class="c40" d="M1295 546.1l9-19.6 18.4-20-9 19.6z"/>
<path class="c38" d="M1276.7 565.1l8.9-19.6 18.4-19-9 19.6z"/>
<path class="c37" d="M1258.3 583l8.9-19.7 18.4-17.8-8.9 19.6z"/>
<path class="c35" d="M1239.9 599.8l8.9-19.7 18.4-16.8-8.9 19.7z"/>
<path class="c34" d="M1221.5 615.5l9-19.6 18.3-15.8-8.9 19.7z"/>
<path class="c32" d="M1203.1 630.2l9-19.7 18.4-14.6-9 19.6z"/>
<path class="c31" d="M1184.7 643.8l9-19.7 18.4-13.6-9 19.7z"/>
<path class="c30" d="M1166.3 656.3l9-19.6 18.4-12.6-9 19.7z"/>
<path class="c29" d="M1147.9 667.8l9-19.7 18.4-11.4-9 19.6z"/>
<path class="c28" d="M1129.5 678.2l9-19.6 18.4-10.5-9 19.7z"/>
<path class="c27" d="M1111.1 687.5l9-19.6 18.4-9.3-9 19.6z"/>
<path class="c27" d="M1092.7 695.8l9-19.6 18.4-8.3-9 19.6z"/>
<path class="c26" d="M1074.3 703l9-19.6 18.4-7.2-9 19.6z"/>
<path class="c25" d="M1056 709.1l8.9-19.6 18.4-6.1-9 19.6z"/>
<path class="c25" d="M1037.6 714.2l8.9-19.6 18.4-5.1-8.9 19.6z"/>
<path class="c25" d="M1019.2 718.2l8.9-19.6 18.4-4-8.9 19.6z"/>
<path class="c25" d="M1000.8 721.2l8.9-19.7 18.4-2.9-8.9 19.6z"/>
<path class="c25" d="M982.4 723l9-19.6 18.3-1.9-8.9 19.7z"/>
<path class="c25" d="M964 723.8l9-19.6 18.4-0.8-9 19.6z"/>
<path class="c25" d="M945.6 723.6l9-19.6 18.4 0.2-9 19.6z"/>
<path class="c25" d="M927.2 722.3l9-19.7 18.4 1.4-9 19.6z"/>
<path class="c25" d="M908.8 719.9l9-19.7 18.4 2.4-9 19.7z"/>
<path class="c26" d="M890.4 716.4l9-19.6 18.4 3.4-9 19.7z"/>
<path class="c27" d="M872 711.9l9-19.6 18.4 4.5-9 19.6z"/>
<path class="c27" d="M853.6 706.3l9-19.6 18.4 5.6-9 19.6z"/>
<path class="c28" d="M835.2 699.7l9-19.7 18.4 6.7-9 19.6z"/>
<path class="c29" d="M816.9 691.9l8.9-19.6 18.4 7.7-9 19.7z"/>
<path class="c30" d="M798.5 683.2l8.9-19.7 18.4 8.8-8.9 19.6z"/>
<path class="c31" d="M780.1 673.3l8.9-19.6 18.4 9.8-8.9 19.7z"/>
<path class="c32" d="M761.7 662.4l9-19.6 18.3 10.9-8.9 19.6z"/>
<path class="c34" d="M743.3 650.4l9-19.6 18.4 12-9 19.6z"/>
<path class="c35" d="M724.9 637.3l9-19.6 18.4 13.1-9 19.6z"/>
<path class="c37" d="M706.5 623.2l9-19.6 18.4 14.1-9 19.6z"/>
<path class="c38" d="M688.1 608l9-19.6 18.4 15.2-9 19.6z"/>
<path class="c40" d="M669.7 591.8l9-19.6 18.4 16.2-9 19.6z"/>
<path class="c42" d="M651.3 574.5l9-19.7 18.4 17.4-9 19.6z"/>
<path class="c44" d="M632.9 556.1l9-19.6 18.4 18.3-9 19.7z"/>
<path class="c46" d="M614.5 536.6l9-19.6 18.4 19.5-9 19.6z"/>
<path class="c49" d="M596.2 516.1l8.9-19.6 18.4 20.5-9 19.6z"/>
<path class="c51" d="M577.8 494.5l8.9-19.6 18.4 21.6-8.9 19.6z"/>
<path class="c53" d="M559.4 471.9l8.9-19.6 18.4 22.6-8.9 19.6z"/>
<path class="c56" d="M541 448.2l9-19.6 18.3 23.7-8.9 19.6z"/>
<path class="c58" d="M1432.8 364.1l8.9-20.7 18.4-27.4-8.9 20.7z"/>
<path class="c56" d="M1414.4 390.5l8.9-20.7 18.4-26.4-8.9 20.7z"/>
<path class="c53" d="M1396 415.9l9-20.7 18.3-25.4-8.9 20.7z"/>
<path class="c51" d="M1377.6 440.1l9-20.7 18.4-24.2-9 20.7z"/>
<path class="c49" d="M1359.2 463.3l9-20.7 18.4-23.2-9 20.7z"/>
<path class="c47" d="M1340.8 485.5l9-20.7 18.4-22.2-9 20.7z"/>
<path class="c45" d="M1322.4 506.5l9-20.7 18.4-21-9 20.7z"/>
<path class="c43" d="M1304 526.5l9-20.7 18.4-20-9 20.7z"/>
<path class="c41" d="M1285.6 545.5l9-20.7 18.4-19-9 20.7z"/>
<path class="c39" d="M1267.2 563.3l9-20.7 18.4-17.8-9 20.7z"/>
<path class="c38" d="M1248.8 580.1l9-20.7 18.4-16.8-9 20.7z"/>
<path class="c36" d="M1230.5 595.9l8.9-20.7 18.4-15.8-9 20.7z"/>
<path class="c35" d="M1212.1 610.5l8.9-20.7 18.4-14.6-8.9 20.7z"/>
<path class="c34" d="M1193.7 624.1l8.9-20.7 18.4-13.6-8.9 20.7z"/>
<path class="c32" d="M1175.3 636.7l8.9-20.7 18.4-12.6-8.9 20.7z"/>
<path class="c31" d="M1156.9 648.1l9-20.6 18.3-11.5-8.9 20.7z"/>
<path class="c30" d="M1138.5 658.6l9-20.7 18.4-10.4-9 20.6z"/>
<path class="c30" d="M1120.1 667.9l9-20.7 18.4-9.3-9 20.7z"/>
<path class="c29" d="M1101.7 676.2l9-20.7 18.4-8.3-9 20.7z"/>
<path class="c28" d="M1083.3 683.4l9-20.7 18.4-7.2-9 20.7z"/>
<path class="c28" d="M1064.9 689.5l9-20.7 18.4-6.1-9 20.7z"/>
<path class="c28" d="M1046.5 694.6l9-20.7 18.4-5.1-9 20.7z"/>
<path class="c27" d="M1028.1 698.6l9-20.7 18.4-4-9 20.7z"/>
<path class="c27" d="M1009.7 701.5l9-20.7 18.4-2.9-9 20.7z"/>
<path class="c27" d="M991.4 703.4l8.9-20.7 18.4-1.9-9 20.7z"/>
<path class="c27" d="M973 704.2l8.9-20.7 18.4-0.8-8.9 20.7z"/>
<path class="c27" d="M954.6 704l8.9-20.7 18.4 0.2-8.9 20.7z"/>
<path class="c28" d="M936.2 702.6l9-20.7 18.3 1.4-8.9 20.7z"/>
<path class="c28" d="M917.8 700.2l9-20.6 18.4 2.3-9 20.7z"/>
<path class="c28" d="M899.4 696.8l9-20.7 18.4 3.5-9 20.6z"/>
<path class="c29" d="M881 692.3l9-20.7 18.4 4.5-9 20.7z"/>
<path class="c30" d="M862.6 686.7l9-20.7 18.4 5.6-9 20.7z"/>
<path class="c30" d="M844.2 680l9-20.7 18.4 6.7-9 20.7z"/>
<path class="c31" d="M825.8 672.3l9-20.7 18.4 7.7-9 20.7z"/>
<path class="c32" d="M807.4 663.5l9-20.7 18.4 8.8-9 20.7z"/>
<path class="c34" d="M789 653.7l9-20.7 18.4 9.8-9 20.7z"/>
<path class="c35" d="M770.7 642.8l8.9-20.7 18.4 10.9-9 20.7z"/>
<path class="c36" d="M752.3 630.8l8.9-20.7 18.4 12-8.9 20.7z"/>
<path class="c38" d="M733.9 617.7l8.9-20.7 18.4 13.1-8.9 20.7z"/>
<path class="c39" d="M715.5 603.6l9-20.7 18.3 14.1-8.9 20.7z"/>
<path class="c41" d="M697.1 588.4l9-20.7 18.4 15.2-9 20.7z"/>
<path class="c43" d="M678.7 572.2l9-20.7 18.4 16.2-9 20.7z"/>
<path class="c45" d="M660.3 554.8l9-20.6 18.4 17.3-9 20.7z"/>
<path class="c47" d="M641.9 536.5l9-20.7 18.4 18.4-9 20.6z"/>
<path class="c49" d="M623.5 517l9-20.7 18.4 19.5-9 20.7z"/>
<path class="c51" d="M605.1 496.5l9-20.7 18.4 20.5-9 20.7z"/>
<path class="c53" d="M586.7 474.9l9-20.7 18.4 21.6-9 20.7z"/>
<path class="c56" d="M568.3 452.3l9-20.7 18.4 22.6-9 20.7z"/>
<path class="c58" d="M550 428.6l8.9-20.7 18.4 23.7-9 20.7z"/>
<path class="c61" d="M1441.7 343.4l9-21.7 18.4-27.5-9 21.8z"/>
<path class="c58" d="M1423.3 369.8l9-21.7 18.4-26.4-9 21.7z"/>
<path class="c56" d="M1405 395.2l8.9-21.8 18.4-25.3-9 21.7z"/>
<path class="c54" d="M1386.6 419.4l8.9-21.7 18.4-24.3-8.9 21.8z"/>
<path class="c51" d="M1368.2 442.6l8.9-21.7 18.4-23.2-8.9 21.7z"/>
<path class="c49" d="M1349.8 464.8l8.9-21.8 18.4-22.1-8.9 21.7z"/>
<path class="c47" d="M1331.4 485.8l9-21.7 18.3-21.1-8.9 21.8z"/>
<path class="c45" d="M1313 505.8l9-21.7 18.4-20-9 21.7z"/>
<path class="c43" d="M1294.6 524.8l9-21.8 18.4-18.9-9 21.7z"/>
<path class="c42" d="M1276.2 542.6l9-21.7 18.4-17.9-9 21.8z"/>
<path class="c40" d="M1257.8 559.4l9-21.7 18.4-16.8-9 21.7z"/>
<path class="c39" d="M1239.4 575.2l9-21.8 18.4-15.7-9 21.7z"/>
<path class="c37" d="M1221 589.8l9-21.7 18.4-14.7-9 21.8z"/>
<path class="c36" d="M1202.6 603.4l9-21.7 18.4-13.6-9 21.7z"/>
<path class="c35" d="M1184.2 616l9-21.8 18.4-12.5-9 21.7z"/>
<path class="c34" d="M1165.9 627.5l8.9-21.8 18.4-11.5-9 21.8z"/>
<path class="c33" d="M1147.5 637.9l8.9-21.8 18.4-10.4-8.9 21.8z"/>
<path class="c32" d="M1129.1 647.2l8.9-21.8 18.4-9.3-8.9 21.8z"/>
<path class="c32" d="M1110.7 655.5l9-21.8 18.3-8.3-8.9 21.8z"/>
<path class="c31" d="M1092.3 662.7l9-21.8 18.4-7.2-9 21.8z"/>
<path class="c30" d="M1073.9 668.8l9-21.7 18.4-6.2-9 21.8z"/>
<path class="c30" d="M1055.5 673.9l9-21.8 18.4-5-9 21.7z"/>
<path class="c30" d="M1037.1 677.9l9-21.8 18.4-4-9 21.8z"/>
<path class="c30" d="M1018.7 680.8l9-21.7 18.4-3-9 21.8z"/>
<path class="c30" d="M1000.3 682.7l9-21.7 18.4-1.9-9 21.7z"/>
<path class="c30" d="M981.9 683.5l9-21.7 18.4-0.8-9 21.7z"/>
<path class="c30" d="M963.5 683.3l9-21.8 18.4 0.3-9 21.7z"/>
<path class="c30" d="M945.2 681.9l8.9-21.7 18.4 1.3-9 21.8z"/>
<path class="c30" d="M926.8 679.6l8.9-21.8 18.4 2.4-8.9 21.7z"/>
<path class="c31" d="M908.4 676.1l8.9-21.8 18.4 3.5-8.9 21.8z"/>
<path class="c32" d="M890 671.6l9-21.8 18.3 4.5-8.9 21.8z"/>
<path class="c32" d="M871.6 666l9-21.8 18.4 5.6-9 21.8z"/>
<path class="c33" d="M853.2 659.3l9-21.7 18.4 6.6-9 21.8z"/>
<path class="c34" d="M834.8 651.6l9-21.7 18.4 7.7-9 21.7z"/>
<path class="c35" d="M816.4 642.8l9-21.7 18.4 8.8-9 21.7z"/>
<path class="c36" d="M798 633l9-21.8 18.4 9.9-9 21.7z"/>
<path class="c37" d="M779.6 622.1l9-21.8 18.4 10.9-9 21.8z"/>
<path class="c39" d="M761.2 610.1l9-21.8 18.4 12-9 21.8z"/>
<path class="c40" d="M742.8 597l9-21.7 18.4 13-9 21.8z"/>
<path class="c42" d="M724.5 582.9l8.9-21.8 18.4 14.2-9 21.7z"/>
<path class="c43" d="M706.1 567.7l8.9-21.7 18.4 15.1-8.9 21.8z"/>
<path class="c45" d="M687.7 551.5l8.9-21.8 18.4 16.3-8.9 21.7z"/>
<path class="c47" d="M669.3 534.2l9-21.8 18.3 17.3-8.9 21.8z"/>
<path class="c49" d="M650.9 515.8l9-21.8 18.4 18.4-9 21.8z"/>
<path class="c51" d="M632.5 496.3l9-21.7 18.4 19.4-9 21.8z"/>
<path class="c54" d="M614.1 475.8l9-21.8 18.4 20.6-9 21.7z"/>
<path class="c56" d="M595.7 454.2l9-21.7 18.4 21.5-9 21.8z"/>
<path class="c58" d="M577.3 431.6l9-21.8 18.4 22.7-9 21.7z"/>
<path class="c61" d="M558.9 407.9l9-21.8 18.4 23.7-9 21.8z"/>
</g>
<g id="front">
<path class="b" d="M128.2 838.5L567.9 1026.1"/>
<path class="b" d="M567.9 1026.1L1469.1 934.2"/>
<path class="bv" d="M128.2 838.5L128.2 198.5"/>
<path class="bv" d="M567.9 1026.1L567.9 386.1"/>
<path class="bv" d="M1469.1 934.2L1469.1 294.2"/>
<path class="b" d="M129.7 838.4L104.2 839.5"/>
<path class="b" d="M567.9 1026.1L573.4 1028.5"/>
<path class="b" d="M184.7 861.9L159.2 862.9"/>
<path class="b" d="M680.5 1014.6L686.1 1017"/>
<path class="b" d="M239.6 885.3L214.1 886.4"/>
<path class="b" d="M793.2 1003.1L798.7 1005.5"/>
<path class="b" d="M294.6 908.8L269.1 909.8"/>
<path class="b" d="M905.8 991.6L911.4 994"/>
<path class="b" d="M349.5 932.2L324 933.3"/>
<path class="b" d="M1018.5 980.1L1024 982.5"/>
<path class="b" d="M404.5 955.7L379 956.7"/>
<path class="b" d="M1131.2 968.7L1136.7 971"/>
<path class="b" d="M459.5 979.1L434 980.2"/>
<path class="b" d="M1243.8 957.2L1249.3 959.5"/>
<path class="b" d="M514.4 1002.6L488.9 1003.6"/>
<path class="b" d="M1356.4 945.7L1362 948"/>
<path class="b" d="M569.4 1026L543.9 1027.1"/>
<path class="b" d="M1469.1 934.2L1474.6 936.6"/>
<path class="bt" d="M110.7 838.5L129.9 838.5"/>
<path class="bt" d="M1467.4 934.2L1486.1 934.2"/>
<path class="bt" d="M110.7 758.5L129.9 758.5"/>
<path class="bt" d="M1467.4 854.2L1486.1 854.2"/>
<path class="bt" d="M110.7 678.5L129.9 678.5"/>
<path class="bt" d="M1467.4 774.2L1486.1 774.2"/>
<path class="bt" d="M110.7 598.5L129.9 598.5"/>
<path class="bt" d="M1467.4 694.2L1486.1 694.2"/>
<path class="bt" d="M110.7 518.5L129.9 518.5"/>
<path class="bt" d="M1467.4 614.2L1486.1 614.2"/>
<path class="bt" d="M110.7 438.5L129.9 438.5"/>
<path class="bt" d="M1467.4 534.2L1486.1 534.2"/>
<path class="bt" d="M110.7 358.5L129.9 358.5"/>
<path class="bt" d="M1467.4 454.2L1486.1 454.2"/>
<path class="bt" d="M110.7 278.5L129.9 278.5"/>
<path class="bt" d="M1467.4 374.2L1486.1 374.2"/>
<path class="bt" d="M110.7 198.5L129.9 198.5"/>
<path class="bt" d="M1467.4 294.2L1486.1 294.2"/>
</g>
<g id="labels">
<text transform="translate(86.5 845.5) scale(1.1 1)" text-anchor="end">4</text>
<text transform="translate(86.5 765.5) scale(1.1 1)" text-anchor="end">5</text>
<text transform="translate(86.5 685.5) scale(1.1 1)" text-anchor="end">6</text>
<text transform="translate(86.5 605.5) scale(1.1 1)" text-anchor="end">7</text>
<text transform="translate(86.5 525.5) scale(1.1 1)" text-anchor="end">8</text>
<text transform="translate(86.5 445.5) scale(1.1 1)" text-anchor="end">9</text>
<text transform="translate(86.5 365.5) scale(1.1 1)" text-anchor="end">10</text>
<text transform="translate(86.5 285.5) scale(1.1 1)" text-anchor="end">11</text>
<text transform="translate(86.5 205.5) scale(1.1 1)" text-anchor="end">12</text>
<text transform="translate(87.8 852.4) scale(1.1 1)" text-anchor="end">-2</text>
<text transform="translate(583.9 1047.1) scale(1.1 1)" text-anchor="middle">-2</text>
<text transform="translate(142.8 875.9) scale(1.1 1)" text-anchor="end">-1.5</text>
<text transform="translate(696.5 1035.6) scale(1.1 1)" text-anchor="middle">-1.5</text>
<text transform="translate(197.7 899.3) scale(1.1 1)" text-anchor="end">-1</text>
<text transform="translate(809.2 1024.1) scale(1.1 1)" text-anchor="middle">-1</text>
<text transform="translate(252.7 922.8) scale(1.1 1)" text-anchor="end">-0.5</text>
<text transform="translate(921.8 1012.6) scale(1.1 1)" text-anchor="middle">-0.5</text>
<text transform="translate(307.7 946.2) scale(1.1 1)" text-anchor="end">0</text>
<text transform="translate(1034.5 1001.1) scale(1.1 1)" text-anchor="middle">0</text>
<text transform="translate(362.6 969.7) scale(1.1 1)" text-anchor="end">0.5</text>
<text transform="translate(1147.2 989.7) scale(1.1 1)" text-anchor="middle">0.5</text>
<text transform="translate(417.6 993.1) scale(1.1 1)" text-anchor="end">1</text>
<text transform="translate(1259.8 978.2) scale(1.1 1)" text-anchor="middle">1</text>
<text transform="translate(472.6 1016.6) scale(1.1 1)" text-anchor="end">1.5</text>
<text transform="translate(1372.4 966.7) scale(1.1 1)" text-anchor="middle">1.5</text>
<text transform="translate(527.5 1040) scale(1.1 1)" text-anchor="end">2</text>
<text transform="translate(1485.1 955.2) scale(1.1 1)" text-anchor="middle">2</text>
</g>
</svg>
</body></html>
